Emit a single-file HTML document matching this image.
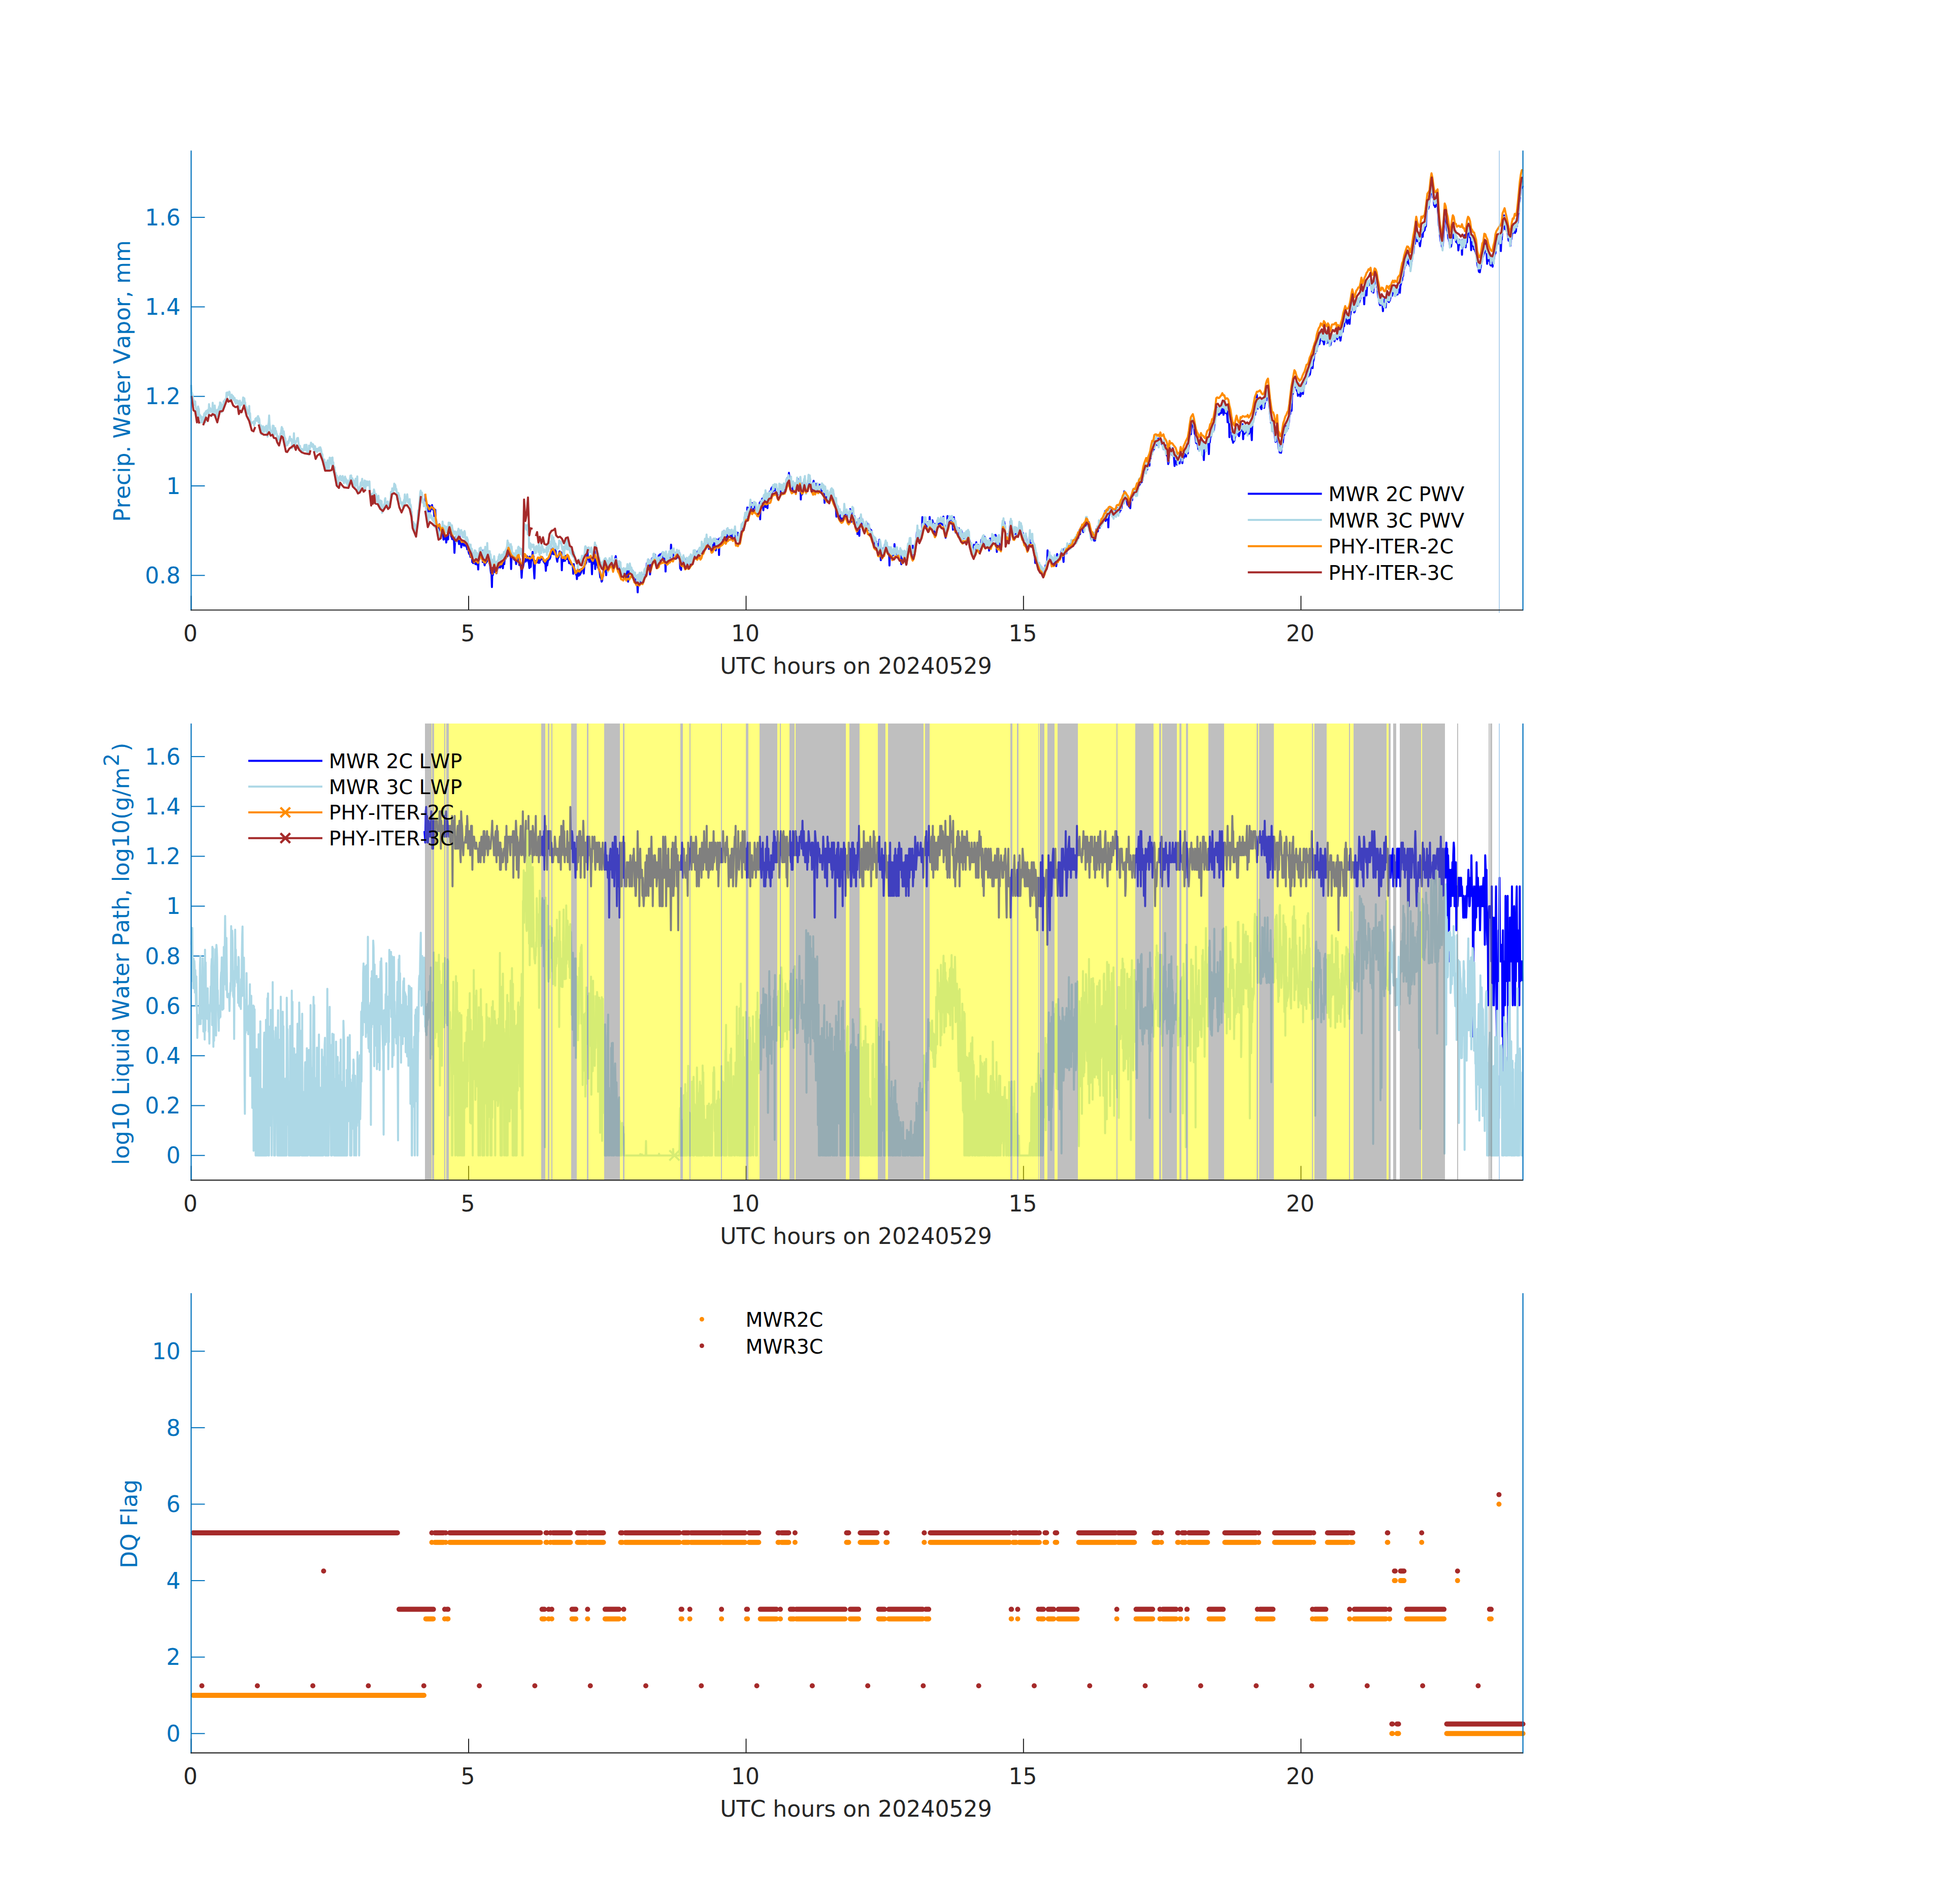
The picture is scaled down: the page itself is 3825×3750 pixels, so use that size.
<!DOCTYPE html>
<html><head><meta charset="utf-8"><title>MWR retrievals 20240529</title>
<style>html,body{margin:0;padding:0;background:#fff}svg{display:block}text{font-kerning:none;font-feature-settings:"kern" 0}</style></head>
<body>
<svg width="3825" height="3750" viewBox="0 0 3825 3750" font-family="'DejaVu Sans','Liberation Sans',sans-serif" font-size="44">
<rect width="3825" height="3750" fill="#fff"/>
<line x1="376.5" y1="1201.5" x2="376.5" y2="1173.5" stroke="#262626" stroke-width="2"/>
<line x1="923" y1="1201.5" x2="923" y2="1173.5" stroke="#262626" stroke-width="2"/>
<line x1="1469.5" y1="1201.5" x2="1469.5" y2="1173.5" stroke="#262626" stroke-width="2"/>
<line x1="2015.9" y1="1201.5" x2="2015.9" y2="1173.5" stroke="#262626" stroke-width="2"/>
<line x1="2562.4" y1="1201.5" x2="2562.4" y2="1173.5" stroke="#262626" stroke-width="2"/>
<line x1="376.5" y1="1133.3" x2="403.5" y2="1133.3" stroke="#0072BD" stroke-width="2"/>
<line x1="376.5" y1="957" x2="403.5" y2="957" stroke="#0072BD" stroke-width="2"/>
<line x1="376.5" y1="780.7" x2="403.5" y2="780.7" stroke="#0072BD" stroke-width="2"/>
<line x1="376.5" y1="604.4" x2="403.5" y2="604.4" stroke="#0072BD" stroke-width="2"/>
<line x1="376.5" y1="428.1" x2="403.5" y2="428.1" stroke="#0072BD" stroke-width="2"/>
<g fill="none" stroke-width="4" stroke-linejoin="round" stroke-linecap="butt">
<polyline stroke="#0000FF" points="837.5,973.7 838.4,986.3 839.3,987.7 840.2,1010.2 841.1,999.5 842,1005.9 842.9,1006.5 843.8,995.1 844.7,1004.7 845.6,1011.5 846.5,996.4 847.4,1006.8 848.3,999.7 849.2,1000.2 850.1,1001.6 851,994.8 851.9,1002.9 852.8,1000.5 853.7,1000.8 854.6,1006.7 855.5,1017.5 856.4,1011.9 857.3,1004 858.2,1022.2 859.1,1025.2 860,1032.8 860.9,1041.4 861.8,1040.6 862.7,1045 863.6,1039.8 864.5,1048.6 865.4,1032.5 866.3,1039.4 867.2,1043.6 868.1,1047.5 869,1047.5 869.9,1051.2 870.8,1049.9 871.7,1046.6 872.6,1037.4 873.5,1062.8 874.4,1058.5 875.3,1061.5 876.2,1058.2 877.1,1058.4 878,1057.7 878.9,1068.6 879.8,1060.8 880.7,1058.3 881.6,1061.5 882.5,1062.4 883.4,1039.7 884.3,1040.9 885.2,1042.8 886.1,1045.7 887,1050 887.9,1050.9 888.8,1056.9 889.7,1055.6 890.6,1061.9 891.5,1062.1 892.4,1058 893.3,1058.2 894.2,1063.6 895.1,1088.8 896,1068.9 896.9,1067.8 897.8,1057 898.7,1068 899.6,1065.6 900.5,1065.6 901.4,1060.9 902.3,1062.3 903.2,1059.9 904.1,1071.6 905,1046.1 905.9,1070.4 906.8,1065.2 907.7,1066.2 908.6,1077.9 909.5,1066.9 910.4,1068.7 911.3,1072.7 912.2,1072.3 913.1,1070.7 914,1074.8 914.9,1071.7 915.8,1074.3 916.7,1066.4 917.6,1071.1 918.5,1076.7 919.4,1077.3 920.3,1081.8 921.2,1078 922.1,1079.2 923,1087 923.9,1090.6 924.8,1086.6 925.7,1091.4 926.6,1097 927.5,1095.1 928.4,1095.9 929.3,1091.7 930.2,1107.1 931.1,1107.7 932,1109 932.9,1108.9 933.8,1105.2 934.7,1108.5 935.6,1107.5 936.5,1111 937.4,1101.8 938.3,1111.4 939.2,1107.1 940.1,1112 941,1104.5 941.9,1121.6 942.8,1100 943.7,1102.5 944.6,1093.3 945.5,1093.9 946.4,1094.6 947.3,1090 948.2,1092.2 949.1,1100.7 950,1084.6 950.9,1107.1 951.8,1101.9 952.7,1100.1 953.6,1104.6 954.5,1113.4 955.4,1105.5 956.3,1109.2 957.2,1108.2 958.1,1101.4 959,1106.4 959.9,1100.7 960.8,1099.2 961.7,1094.5 962.6,1097.6 963.5,1097.4 964.4,1110 965.3,1113.7 966.2,1121.6 967.1,1128.9 968,1127.1 968.9,1156.2 969.8,1118.5 970.7,1132.9 971.6,1121.3 972.5,1123.4 973.4,1117.2 974.3,1119.7 975.2,1127 976.1,1124.4 977,1125.5 977.9,1129.1 978.8,1123.9 979.7,1120.3 980.6,1118.1 981.5,1117.7 982.4,1112.9 983.3,1116.4 984.2,1114.6 985.1,1117.8 986,1116.5 986.9,1114.4 987.8,1110 988.7,1110.5 989.6,1107.4 990.5,1119.2 991.4,1107.5 992.3,1109.6 993.2,1111 994.1,1099.7 995,1100.1 995.9,1100.2 996.8,1096.5 997.7,1093.1 998.6,1092.5 999.5,1095.8 1000.4,1083.6 1001.3,1083.4 1002.2,1085.6 1003.1,1081.8 1004,1092.5 1004.9,1093.8 1005.8,1089.7 1006.7,1120.7 1007.6,1094.7 1008.5,1094.4 1009.4,1093.6 1010.3,1095.6 1011.2,1095.6 1012.1,1101.5 1013,1102.1 1013.9,1102.8 1014.8,1101.9 1015.7,1101.4 1016.6,1111 1017.5,1094 1018.4,1104 1019.3,1099.9 1020.2,1097.8 1021.1,1094.6 1022,1095.3 1022.9,1112.7 1023.8,1100.7 1024.7,1110.1 1025.6,1109.3 1026.5,1119.6 1027.4,1137.9 1028.3,1122.4 1029.2,1112.8 1030.1,1117 1031,1112 1031.9,1106.8 1032.8,1103.2 1033.7,1100.9 1034.6,1102 1035.5,1106 1036.4,1100.4 1037.3,1104.1 1038.2,1095.8 1039.1,1101.3 1040,1097.1 1040.9,1106.2 1041.8,1109.3 1042.7,1118.8 1043.6,1096.3 1044.5,1100.9 1045.4,1116.5 1046.3,1102.6 1047.2,1104.2 1048.1,1101.9 1049,1087.1 1049.9,1099.8 1050.8,1095.4 1051.7,1124.4 1052.6,1139.2 1053.5,1109.7 1054.4,1107.6 1055.3,1105.1 1056.2,1107.3 1057.1,1107.7 1058,1107.4 1058.9,1101.6 1059.8,1100.7 1060.7,1108.5 1061.6,1101.2 1062.5,1108.3 1063.4,1103.8 1064.3,1103.2 1065.2,1100.8 1066.1,1102 1067,1098.6 1067.9,1097.2 1068.8,1100.2 1069.7,1100.3 1070.6,1105.8 1071.5,1107 1072.4,1107.8 1073.3,1110.1 1074.2,1109.3 1075.1,1124.2 1076,1108.3 1076.9,1105.3 1077.8,1113.4 1078.7,1107.7 1079.6,1103.4 1080.5,1102.5 1081.4,1101 1082.3,1101.4 1083.2,1099.6 1084.1,1097.1 1085,1086.9 1085.9,1086.3 1086.8,1079.1 1087.7,1090.5 1088.6,1090.7 1089.5,1090.5 1090.4,1086.3 1091.3,1091.7 1092.2,1089.3 1093.1,1090.8 1094,1079.9 1094.9,1092 1095.8,1094.5 1096.7,1101.7 1097.6,1106.2 1098.5,1097.7 1099.4,1098.9 1100.3,1096.7 1101.2,1091.2 1102.1,1085.9 1103,1087.7 1103.9,1087 1104.8,1092.9 1105.7,1088.3 1106.6,1123.1 1107.5,1098.8 1108.4,1102.5 1109.3,1097.9 1110.2,1104.9 1111.1,1096.1 1112,1102.8 1112.9,1104.4 1113.8,1099.4 1114.7,1094.7 1115.6,1100.9 1116.5,1094.4 1117.4,1099 1118.3,1101.3 1119.2,1101 1120.1,1103.4 1121,1109.3 1121.9,1108 1122.8,1104.2 1123.7,1109.1 1124.6,1111.4 1125.5,1111 1126.4,1112 1127.3,1111.9 1128.2,1113.2 1129.1,1129.9 1130,1110.9 1130.9,1123.7 1131.8,1120.9 1132.7,1127.6 1133.6,1125 1134.5,1131.7 1135.4,1127.6 1136.3,1140.6 1137.2,1125.7 1138.1,1125.6 1139,1132.8 1139.9,1133.8 1140.8,1122.4 1141.7,1131 1142.6,1131.7 1143.5,1122.7 1144.4,1128.1 1145.3,1122.2 1146.2,1120.2 1147.1,1122.6 1148,1122.2 1148.9,1118.8 1149.8,1129.6 1150.7,1115.8 1151.6,1110.6 1152.5,1112.1 1153.4,1105.2 1154.3,1108.7 1155.2,1101.5 1156.1,1102.2 1157,1079.6 1157.9,1100.2 1158.8,1099.2 1159.7,1099.9 1160.6,1106.5 1161.5,1099 1162.4,1100.7 1163.3,1102.6 1164.2,1107.1 1165.1,1107.7 1166,1130.9 1166.9,1103.8 1167.8,1110.7 1168.7,1109.9 1169.6,1103.2 1170.5,1098.5 1171.4,1086.4 1172.3,1120.7 1173.2,1098.7 1174.1,1108.7 1175,1102.7 1175.9,1112.6 1176.8,1109.9 1177.7,1117.6 1178.6,1118.9 1179.5,1120.2 1180.4,1122.8 1181.3,1127.7 1182.2,1136.8 1183.1,1138.1 1184,1136.1 1184.9,1145.5 1185.8,1144.2 1186.7,1137.2 1187.6,1135.5 1188.5,1125 1189.4,1117.6 1190.3,1125.5 1191.2,1112.2 1192.1,1119.2 1193,1110.7 1193.9,1132.8 1194.8,1115.5 1195.7,1116.9 1196.6,1113 1197.5,1120.1 1198.4,1118.1 1199.3,1112.9 1200.2,1113.7 1201.1,1115.5 1202,1107.7 1202.9,1109.6 1203.8,1102.9 1204.7,1106.8 1205.6,1109.7 1206.5,1118.2 1207.4,1114.6 1208.3,1114.8 1209.2,1116.4 1210.1,1104.4 1211,1108.3 1211.9,1099.1 1212.8,1095.4 1213.7,1102.6 1214.6,1104 1215.5,1112.5 1216.4,1106.9 1217.3,1113.3 1218.2,1110.8 1219.1,1112 1220,1106.5 1220.9,1119.4 1221.8,1120.1 1222.7,1119.2 1223.6,1121.2 1224.5,1124.5 1225.4,1132.9 1226.3,1127.8 1227.2,1121.6 1228.1,1129.9 1229,1125.9 1229.9,1124.4 1230.8,1125.8 1231.7,1126.6 1232.6,1130.8 1233.5,1123.8 1234.4,1127.1 1235.3,1124.4 1236.2,1124.8 1237.1,1145.6 1238,1120.6 1238.9,1121 1239.8,1125 1240.7,1119.1 1241.6,1117.2 1242.5,1124.3 1243.4,1126.2 1244.3,1122.4 1245.2,1125.6 1246.1,1124.6 1247,1129.3 1247.9,1136.3 1248.8,1137.3 1249.7,1136.5 1250.6,1136.5 1251.5,1133.2 1252.4,1141.4 1253.3,1141.6 1254.2,1143.4 1255.1,1146.5 1256,1166.6 1256.9,1143.5 1257.8,1137.5 1258.7,1147 1259.6,1145.3 1260.5,1146.5 1261.4,1143.5 1262.3,1142.1 1263.2,1145.3 1264.1,1137.4 1265,1141.7 1265.9,1143 1266.8,1135.4 1267.7,1131.7 1268.6,1134.9 1269.5,1131.4 1270.4,1130.8 1271.3,1130 1272.2,1124.1 1273.1,1126.3 1274,1109.4 1274.9,1114.3 1275.8,1109.7 1276.7,1102 1277.6,1111.1 1278.5,1118.1 1279.4,1109.4 1280.3,1131.4 1281.2,1118.7 1282.1,1109.1 1283,1105.3 1283.9,1100.5 1284.8,1099.6 1285.7,1101.1 1286.6,1101 1287.5,1098 1288.4,1100.3 1289.3,1097.6 1290.2,1092.5 1291.1,1104.7 1292,1107.9 1292.9,1105.3 1293.8,1116.3 1294.7,1109.9 1295.6,1106.9 1296.5,1111.4 1297.4,1094.1 1298.3,1096 1299.2,1103 1300.1,1091.7 1301,1094.8 1301.9,1102.2 1302.8,1097.4 1303.7,1090 1304.6,1091 1305.5,1096.1 1306.4,1100.6 1307.3,1088.5 1308.2,1097.6 1309.1,1096.5 1310,1092.3 1310.9,1125.6 1311.8,1094 1312.7,1098.4 1313.6,1096.7 1314.5,1100.4 1315.4,1100.5 1316.3,1098.9 1317.2,1097.4 1318.1,1099.2 1319,1091.2 1319.9,1093.6 1320.8,1097.4 1321.7,1072.7 1322.6,1092 1323.5,1097.3 1324.4,1098 1325.3,1090 1326.2,1088.8 1327.1,1093.4 1328,1092.6 1328.9,1089.6 1329.8,1094.3 1330.7,1094.5 1331.6,1088.4 1332.5,1099.6 1333.4,1092.2 1334.3,1088.5 1335.2,1089.4 1336.1,1098 1337,1093.3 1337.9,1088.7 1338.8,1094.4 1339.7,1119.8 1340.6,1096.7 1341.5,1122.4 1342.4,1104.9 1343.3,1103.1 1344.2,1100.7 1345.1,1104.4 1346,1095 1346.9,1105 1347.8,1104.8 1348.7,1108.5 1349.6,1101.8 1350.5,1117.1 1351.4,1103.3 1352.3,1104.5 1353.2,1108 1354.1,1113.3 1355,1105.6 1355.9,1101.9 1356.8,1109.9 1357.7,1110.4 1358.6,1110.2 1359.5,1105 1360.4,1105 1361.3,1105.4 1362.2,1101.1 1363.1,1100.6 1364,1109.8 1364.9,1097.7 1365.8,1101.7 1366.7,1094.3 1367.6,1095.9 1368.5,1086.6 1369.4,1091.3 1370.3,1091.2 1371.2,1089.8 1372.1,1092.2 1373,1086.9 1373.9,1087.8 1374.8,1085.2 1375.7,1087.8 1376.6,1084.9 1377.5,1080.9 1378.4,1085.1 1379.3,1086.7 1380.2,1083.5 1381.1,1090 1382,1085.4 1382.9,1085.5 1383.8,1078.3 1384.7,1078.1 1385.6,1081.6 1386.5,1071.6 1387.4,1076.7 1388.3,1074.5 1389.2,1071.2 1390.1,1072.1 1391,1066.5 1391.9,1069.6 1392.8,1063 1393.7,1061.3 1394.6,1071 1395.5,1064.5 1396.4,1081 1397.3,1072.2 1398.2,1067.2 1399.1,1059 1400,1072.7 1400.9,1077.7 1401.8,1076.7 1402.7,1080 1403.6,1072 1404.5,1073 1405.4,1065.8 1406.3,1069.5 1407.2,1074.1 1408.1,1070.1 1409,1068.6 1409.9,1084.1 1410.8,1066.2 1411.7,1062.8 1412.6,1063.6 1413.5,1064.3 1414.4,1067.9 1415.3,1062.5 1416.2,1093.1 1417.1,1060.5 1418,1064.5 1418.9,1072.6 1419.8,1063.4 1420.7,1058.4 1421.6,1062.5 1422.5,1062.7 1423.4,1061.2 1424.3,1050 1425.2,1056.1 1426.1,1045.6 1427,1057.6 1427.9,1051.2 1428.8,1047.4 1429.7,1057 1430.6,1057.8 1431.5,1050.4 1432.4,1058.9 1433.3,1050.7 1434.2,1043.8 1435.1,1053.6 1436,1055.3 1436.9,1053.6 1437.8,1051.4 1438.7,1046.6 1439.6,1053.6 1440.5,1057.5 1441.4,1054.3 1442.3,1057.7 1443.2,1049.5 1444.1,1055.6 1445,1055 1445.9,1046.1 1446.8,1045.6 1447.7,1051.6 1448.6,1057.2 1449.5,1061.3 1450.4,1058.1 1451.3,1061.5 1452.2,1061.6 1453.1,1049.3 1454,1064.6 1454.9,1064 1455.8,1061.1 1456.7,1061.3 1457.6,1055.1 1458.5,1054.4 1459.4,1054.5 1460.3,1047.3 1461.2,1037.9 1462.1,1038.4 1463,1034.1 1463.9,1034.9 1464.8,1035.9 1465.7,1031.5 1466.6,1025.3 1467.5,1019.4 1468.4,1019.8 1469.3,1018.9 1470.2,1019.8 1471.1,1021.6 1472,999.4 1472.9,1007.5 1473.8,1010.8 1474.7,1001.4 1475.6,1000.1 1476.5,1005.3 1477.4,1001.4 1478.3,994.8 1479.2,992.6 1480.1,996.7 1481,991 1481.9,999.3 1482.8,996.6 1483.7,1004.8 1484.6,993.3 1485.5,999.4 1486.4,992 1487.3,999.7 1488.2,994.4 1489.1,1002.3 1490,999.9 1490.9,1000.3 1491.8,1004 1492.7,1005.6 1493.6,1004.8 1494.5,1008.4 1495.4,1005 1496.3,990.3 1497.2,1022.8 1498.1,987.8 1499,991.2 1499.9,992.6 1500.8,983.5 1501.7,981.9 1502.6,984.6 1503.5,1004.9 1504.4,987.2 1505.3,981.8 1506.2,981.6 1507.1,985.2 1508,998.8 1508.9,980.1 1509.8,977.1 1510.7,982.2 1511.6,1000.7 1512.5,983.1 1513.4,976.3 1514.3,972.1 1515.2,970.8 1516.1,968.2 1517,982.1 1517.9,977.5 1518.8,963.4 1519.7,961.3 1520.6,971.5 1521.5,958.8 1522.4,965.5 1523.3,959.4 1524.2,966.5 1525.1,966.2 1526,961.2 1526.9,965.1 1527.8,961.7 1528.7,963 1529.6,969.9 1530.5,970.5 1531.4,967.5 1532.3,970.3 1533.2,973.5 1534.1,972.2 1535,971.9 1535.9,967.6 1536.8,970.1 1537.7,965.8 1538.6,964.8 1539.5,962.2 1540.4,964.7 1541.3,958.5 1542.2,968.7 1543.1,964.6 1544,964.1 1544.9,963.7 1545.8,964.5 1546.7,962.4 1547.6,957.5 1548.5,952.1 1549.4,957.3 1550.3,945.7 1551.2,941 1552.1,939.6 1553,948 1553.9,931.3 1554.8,942.3 1555.7,952.8 1556.6,958.2 1557.5,960.7 1558.4,952.4 1559.3,954.3 1560.2,960.5 1561.1,957.5 1562,970 1562.9,960 1563.8,964.4 1564.7,961.4 1565.6,959.1 1566.5,960.8 1567.4,958.3 1568.3,957.1 1569.2,951.4 1570.1,949.9 1571,943.2 1571.9,945.1 1572.8,958 1573.7,956.7 1574.6,948.4 1575.5,947 1576.4,945.6 1577.3,983.8 1578.2,951.9 1579.1,964.6 1580,973.7 1580.9,960.7 1581.8,958 1582.7,953.1 1583.6,953.3 1584.5,950.5 1585.4,950.6 1586.3,952.4 1587.2,965.7 1588.1,963.4 1589,958.9 1589.9,957.5 1590.8,959.3 1591.7,947.7 1592.6,954.1 1593.5,943 1594.4,946.3 1595.3,943.2 1596.2,950.5 1597.1,957.1 1598,956.2 1598.9,961 1599.8,963.6 1600.7,956.8 1601.6,953.9 1602.5,946.9 1603.4,959.4 1604.3,957.4 1605.2,964 1606.1,960.2 1607,952.8 1607.9,960.3 1608.8,958.6 1609.7,965.4 1610.6,958.7 1611.5,958.2 1612.4,960.7 1613.3,960.1 1614.2,954.5 1615.1,960.6 1616,959.6 1616.9,966.4 1617.8,970.7 1618.7,959.2 1619.6,960.9 1620.5,962.6 1621.4,964.4 1622.3,965.5 1623.2,969.4 1624.1,990.2 1625,966.9 1625.9,967.3 1626.8,967.4 1627.7,979.2 1628.6,981.2 1629.5,972.1 1630.4,972.9 1631.3,980.4 1632.2,985.1 1633.1,986 1634,980 1634.9,978.1 1635.8,973.2 1636.7,966.5 1637.6,975.2 1638.5,970.4 1639.4,968.5 1640.3,983.6 1641.2,971.3 1642.1,979.7 1643,986.2 1643.9,980.4 1644.8,991.7 1645.7,997.9 1646.6,1003.3 1647.5,1017.6 1648.4,1014.2 1649.3,1000.2 1650.2,999.8 1651.1,1002.9 1652,1009.4 1652.9,1011.9 1653.8,1016 1654.7,1010.7 1655.6,1022.9 1656.5,1021 1657.4,1020.1 1658.3,1014.2 1659.2,1022.5 1660.1,1014.7 1661,1020.2 1661.9,1014.9 1662.8,1005.2 1663.7,1005.4 1664.6,1014 1665.5,1011.2 1666.4,1007.3 1667.3,1008.8 1668.2,1011.3 1669.1,1010.7 1670,1015.7 1670.9,1016.9 1671.8,1017.9 1672.7,1013.3 1673.6,1015.3 1674.5,1002.7 1675.4,1014.9 1676.3,1026.2 1677.2,1027.6 1678.1,1011 1679,1011 1679.9,1013.5 1680.8,1012.6 1681.7,1027.6 1682.6,1016.6 1683.5,1022.8 1684.4,1030.2 1685.3,1029.5 1686.2,1032.8 1687.1,1028.9 1688,1039.1 1688.9,1051.8 1689.8,1034.9 1690.7,1043.7 1691.6,1034.4 1692.5,1055.2 1693.4,1024.7 1694.3,1020 1695.2,1024.2 1696.1,1019.5 1697,1027.6 1697.9,1033.6 1698.8,1023.1 1699.7,1029.1 1700.6,1036.1 1701.5,1043 1702.4,1041.9 1703.3,1040.9 1704.2,1038.9 1705.1,1036.4 1706,1037.6 1706.9,1033.5 1707.8,1030.4 1708.7,1036.7 1709.6,1042.8 1710.5,1042.4 1711.4,1043.8 1712.3,1042.2 1713.2,1041 1714.1,1045.4 1715,1043.7 1715.9,1044.2 1716.8,1048.5 1717.7,1054.3 1718.6,1064.8 1719.5,1061 1720.4,1068.5 1721.3,1067.9 1722.2,1077.8 1723.1,1070.6 1724,1080 1724.9,1065.5 1725.8,1067.1 1726.7,1080.3 1727.6,1071.1 1728.5,1077.5 1729.4,1087 1730.3,1085 1731.2,1074.3 1732.1,1063 1733,1074.4 1733.9,1075.3 1734.8,1103.3 1735.7,1080.5 1736.6,1084.7 1737.5,1094.3 1738.4,1080.8 1739.3,1084.6 1740.2,1086.2 1741.1,1078.5 1742,1078.1 1742.9,1072.6 1743.8,1074.9 1744.7,1069.1 1745.6,1073.8 1746.5,1077.3 1747.4,1076.5 1748.3,1077.7 1749.2,1082.4 1750.1,1082.9 1751,1079.5 1751.9,1113.7 1752.8,1087.1 1753.7,1090.1 1754.6,1083.2 1755.5,1092.2 1756.4,1097.5 1757.3,1092.9 1758.2,1086 1759.1,1091.9 1760,1092.2 1760.9,1093.3 1761.8,1071.8 1762.7,1091.9 1763.6,1087.2 1764.5,1088.5 1765.4,1085.5 1766.3,1088.6 1767.2,1092.2 1768.1,1087.1 1769,1092.4 1769.9,1088.3 1770.8,1091.6 1771.7,1085.8 1772.6,1099.8 1773.5,1092.2 1774.4,1099.1 1775.3,1111.3 1776.2,1103.9 1777.1,1099.4 1778,1100.4 1778.9,1094.8 1779.8,1091.4 1780.7,1096.4 1781.6,1086 1782.5,1095.2 1783.4,1094.6 1784.3,1099.9 1785.2,1110.8 1786.1,1102.2 1787,1093.7 1787.9,1080.1 1788.8,1081.4 1789.7,1075.7 1790.6,1070.3 1791.5,1070.7 1792.4,1063.8 1793.3,1075.7 1794.2,1079.5 1795.1,1080.8 1796,1092.5 1796.9,1083.3 1797.8,1074.7 1798.7,1091.6 1799.6,1086.5 1800.5,1080.3 1801.4,1079 1802.3,1080.9 1803.2,1075.4 1804.1,1068.1 1805,1061.1 1805.9,1048.6 1806.8,1053.8 1807.7,1048.9 1808.6,1057.8 1809.5,1061.2 1810.4,1065.3 1811.3,1062 1812.2,1060.3 1813.1,1051.4 1814,1053.4 1814.9,1046.1 1815.8,1050 1816.7,1018.4 1817.6,1038.1 1818.5,1032 1819.4,1031.1 1820.3,1032.4 1821.2,1034.7 1822.1,1028.1 1823,1025.2 1823.9,1035.6 1824.8,1029.8 1825.7,1037.4 1826.6,1043.3 1827.5,1028.4 1828.4,1034.2 1829.3,1035 1830.2,1037.9 1831.1,1018.3 1832,1032.5 1832.9,1029.1 1833.8,1034.4 1834.7,1028.5 1835.6,1037 1836.5,1024.8 1837.4,1030.6 1838.3,1046 1839.2,1041.7 1840.1,1038.7 1841,1031.6 1841.9,1047.6 1842.8,1048.8 1843.7,1040.7 1844.6,1040.9 1845.5,1036.9 1846.4,1025.3 1847.3,1031.2 1848.2,1027.5 1849.1,1031.9 1850,1031.1 1850.9,1023.4 1851.8,1024.7 1852.7,1028.9 1853.6,1031.8 1854.5,1029 1855.4,1030.2 1856.3,1033.5 1857.2,1033.1 1858.1,1017.4 1859,1034.9 1859.9,1034.4 1860.8,1034.8 1861.7,1047.8 1862.6,1059 1863.5,1042.3 1864.4,1039.5 1865.3,1031.7 1866.2,1016.5 1867.1,1021.3 1868,1025.8 1868.9,1020.4 1869.8,1026.9 1870.7,1021.1 1871.6,1019.3 1872.5,1021.3 1873.4,1024 1874.3,1019 1875.2,1021.2 1876.1,1021 1877,1043.3 1877.9,1023.5 1878.8,1018.7 1879.7,1031.6 1880.6,1040.9 1881.5,1030.5 1882.4,1048.8 1883.3,1037.5 1884.2,1043.3 1885.1,1039.3 1886,1042.2 1886.9,1040.4 1887.8,1042.8 1888.7,1040.6 1889.6,1054.6 1890.5,1047.9 1891.4,1055.3 1892.3,1057 1893.2,1055.1 1894.1,1046.2 1895,1063.3 1895.9,1057.5 1896.8,1060.2 1897.7,1059.9 1898.6,1055.4 1899.5,1053.8 1900.4,1054.8 1901.3,1058.7 1902.2,1065.2 1903.1,1067.3 1904,1062.1 1904.9,1061 1905.8,1054.5 1906.7,1064.8 1907.6,1054.5 1908.5,1060.8 1909.4,1063.5 1910.3,1069.1 1911.2,1079.4 1912.1,1071.2 1913,1079 1913.9,1080 1914.8,1087.9 1915.7,1093.1 1916.6,1087.3 1917.5,1080.3 1918.4,1072.8 1919.3,1089 1920.2,1078.1 1921.1,1081 1922,1090.7 1922.9,1068.1 1923.8,1076.5 1924.7,1075.6 1925.6,1076.5 1926.5,1073.2 1927.4,1084.5 1928.3,1077.9 1929.2,1083.7 1930.1,1075.9 1931,1082.3 1931.9,1075.6 1932.8,1063.3 1933.7,1075.4 1934.6,1067.6 1935.5,1062.9 1936.4,1063.2 1937.3,1055.3 1938.2,1064.9 1939.1,1057.1 1940,1064.6 1940.9,1075.4 1941.8,1066.5 1942.7,1067.9 1943.6,1065 1944.5,1071.5 1945.4,1068.1 1946.3,1069.7 1947.2,1071.8 1948.1,1084.4 1949,1072.8 1949.9,1060.7 1950.8,1072.9 1951.7,1060.4 1952.6,1062.7 1953.5,1061.3 1954.4,1065.4 1955.3,1064.2 1956.2,1061.6 1957.1,1062.4 1958,1062.4 1958.9,1060.7 1959.8,1054.1 1960.7,1053.6 1961.6,1055.1 1962.5,1065.1 1963.4,1086.9 1964.3,1067.1 1965.2,1067.9 1966.1,1065.5 1967,1062.1 1967.9,1059.6 1968.8,1059.9 1969.7,1073.4 1970.6,1074 1971.5,1067.3 1972.4,1063.4 1973.3,1054.1 1974.2,1046.4 1975.1,1029.7 1976,1033.3 1976.9,1037.7 1977.8,1027.5 1978.7,1033 1979.6,1038.2 1980.5,1059.7 1981.4,1071.8 1982.3,1063.8 1983.2,1057.9 1984.1,1052.3 1985,1060.6 1985.9,1061.1 1986.8,1058.2 1987.7,1052.8 1988.6,1063.6 1989.5,1038 1990.4,1026.7 1991.3,1031.6 1992.2,1034.8 1993.1,1040.5 1994,1040 1994.9,1044.8 1995.8,1052.9 1996.7,1051.9 1997.6,1048.1 1998.5,1051.8 1999.4,1051.8 2000.3,1050.1 2001.2,1046.7 2002.1,1044.6 2003,1048.4 2003.9,1053.6 2004.8,1048 2005.7,1042.9 2006.6,1041.9 2007.5,1047.9 2008.4,1037.3 2009.3,1034.8 2010.2,1042.6 2011.1,1042.3 2012,1048.9 2012.9,1056.5 2013.8,1049.5 2014.7,1049.5 2015.6,1056.8 2016.5,1057.1 2017.4,1060.9 2018.3,1057.8 2019.2,1063.3 2020.1,1062.7 2021,1056.4 2021.9,1066.3 2022.8,1071.1 2023.7,1077 2024.6,1071.6 2025.5,1067.8 2026.4,1072.1 2027.3,1062.5 2028.2,1065.3 2029.1,1067.3 2030,1069 2030.9,1066.9 2031.8,1061.9 2032.7,1069.1 2033.6,1064.2 2034.5,1068.5 2035.4,1082.5 2036.3,1082.9 2037.2,1072.9 2038.1,1085.6 2039,1108.7 2039.9,1090.8 2040.8,1089.5 2041.7,1103.2 2042.6,1106.8 2043.5,1108.5 2044.4,1109.8 2045.3,1115 2046.2,1118.2 2047.1,1113.6 2048,1117.8 2048.9,1118.5 2049.8,1123.7 2050.7,1122.7 2051.6,1117.8 2052.5,1122.5 2053.4,1133.6 2054.3,1125.5 2055.2,1129.3 2056.1,1123.5 2057,1127.6 2057.9,1120 2058.8,1117.2 2059.7,1113 2060.6,1115.1 2061.5,1117.7 2062.4,1114.2 2063.3,1084.1 2064.2,1110.8 2065.1,1100.8 2066,1096.4 2066.9,1099.4 2067.8,1095.2 2068.7,1096.1 2069.6,1097.8 2070.5,1101.7 2071.4,1102.1 2072.3,1099.1 2073.2,1108.1 2074.1,1104.9 2075,1112 2075.9,1110.2 2076.8,1109.4 2077.7,1106.7 2078.6,1109.7 2079.5,1102.6 2080.4,1115 2081.3,1103.4 2082.2,1091.2 2083.1,1099.2 2084,1100.5 2084.9,1097.4 2085.8,1102.8 2086.7,1100 2087.6,1096.7 2088.5,1092.1 2089.4,1095 2090.3,1085.7 2091.2,1085.7 2092.1,1091.2 2093,1091.8 2093.9,1098.3 2094.8,1106.8 2095.7,1081.4 2096.6,1089.7 2097.5,1090.8 2098.4,1088.1 2099.3,1090.1 2100.2,1090.1 2101.1,1080.1 2102,1079.9 2102.9,1078.7 2103.8,1082 2104.7,1081.8 2105.6,1080.6 2106.5,1073.2 2107.4,1074.4 2108.3,1071.4 2109.2,1070.1 2110.1,1070.6 2111,1069.1 2111.9,1073.8 2112.8,1075.5 2113.7,1075.3 2114.6,1071.8 2115.5,1068.2 2116.4,1069.5 2117.3,1070.3 2118.2,1065.4 2119.1,1064.9 2120,1061.8 2120.9,1059.3 2121.8,1059.6 2122.7,1053.5 2123.6,1059.8 2124.5,1048.4 2125.4,1053.5 2126.3,1044.1 2127.2,1052.1 2128.1,1047.1 2129,1039 2129.9,1039.8 2130.8,1036.7 2131.7,1040.1 2132.6,1041.3 2133.5,1048.1 2134.4,1032.4 2135.3,1040.9 2136.2,1033 2137.1,1034.7 2138,1035.5 2138.9,1032.8 2139.8,1030.9 2140.7,1028.4 2141.6,1030.1 2142.5,1031.6 2143.4,1036.4 2144.3,1028.2 2145.2,1035.6 2146.1,1036.7 2147,1041.6 2147.9,1045.7 2148.8,1055.7 2149.7,1062.6 2150.6,1062.5 2151.5,1053.5 2152.4,1058.6 2153.3,1054.5 2154.2,1060.9 2155.1,1064.7 2156,1062.9 2156.9,1064.6 2157.8,1057.1 2158.7,1046.2 2159.6,1042 2160.5,1045.3 2161.4,1045.9 2162.3,1046.6 2163.2,1038.7 2164.1,1038.4 2165,1037.7 2165.9,1039.4 2166.8,1033.8 2167.7,1028.8 2168.6,1035.8 2169.5,1032.3 2170.4,1031.2 2171.3,1023.9 2172.2,1027.3 2173.1,1019.7 2174,1017.4 2174.9,1022.8 2175.8,1021.1 2176.7,1006.7 2177.6,1025.9 2178.5,1018.7 2179.4,1023.7 2180.3,1013.1 2181.2,1012.2 2182.1,1008.1 2183,1038.6 2183.9,1011.1 2184.8,1011.2 2185.7,1013.3 2186.6,1002.7 2187.5,1008.6 2188.4,1003.7 2189.3,1006.3 2190.2,1009.4 2191.1,1008.7 2192,1010.6 2192.9,1010 2193.8,1015.8 2194.7,1010.4 2195.6,1013.7 2196.5,1005.9 2197.4,1015.3 2198.3,1005.6 2199.2,1012.8 2200.1,999.9 2201,1008.8 2201.9,1005.7 2202.8,1008.2 2203.7,1005.1 2204.6,1009.2 2205.5,1005.2 2206.4,1003.4 2207.3,1005.3 2208.2,994.8 2209.1,1000.7 2210,981.6 2210.9,984.9 2211.8,989.8 2212.7,985.4 2213.6,991.2 2214.5,967.4 2215.4,982.8 2216.3,982.5 2217.2,975.6 2218.1,985.4 2219,980.8 2219.9,990.5 2220.8,994.2 2221.7,991 2222.6,988.2 2223.5,997.8 2224.4,996.8 2225.3,994.7 2226.2,1000.9 2227.1,979.4 2228,981.3 2228.9,976.9 2229.8,985.4 2230.7,974.8 2231.6,973.5 2232.5,975.1 2233.4,968.4 2234.3,969.9 2235.2,970.8 2236.1,969.2 2237,969.8 2237.9,975 2238.8,969.9 2239.7,960.7 2240.6,961.5 2241.5,963.3 2242.4,955.7 2243.3,956 2244.2,953.2 2245.1,954.1 2246,950.9 2246.9,950.4 2247.8,947.2 2248.7,949.7 2249.6,940.4 2250.5,945.8 2251.4,934.8 2252.3,929.8 2253.2,930.9 2254.1,925 2255,923 2255.9,919.8 2256.8,917 2257.7,916.6 2258.6,917.8 2259.5,924.9 2260.4,917.4 2261.3,915.8 2262.2,913.3 2263.1,915.2 2264,917.2 2264.9,902.3 2265.8,903.6 2266.7,897.8 2267.6,892.1 2268.5,892.6 2269.4,883.7 2270.3,889.1 2271.2,884.5 2272.1,877.6 2273,884.8 2273.9,879.7 2274.8,878.5 2275.7,867.2 2276.6,871.3 2277.5,870.1 2278.4,874.1 2279.3,876.5 2280.2,863.9 2281.1,870.5 2282,869.4 2282.9,872.9 2283.8,860.8 2284.7,862.9 2285.6,866 2286.5,865.4 2287.4,869.1 2288.3,875 2289.2,875.3 2290.1,877.7 2291,870.8 2291.9,884.6 2292.8,882.4 2293.7,882.9 2294.6,877.9 2295.5,877.1 2296.4,883.7 2297.3,887.1 2298.2,897.3 2299.1,895 2300,902.8 2300.9,913.9 2301.8,910.4 2302.7,897 2303.6,892.4 2304.5,889.5 2305.4,887.7 2306.3,887.5 2307.2,892.7 2308.1,895.4 2309,885.2 2309.9,882.8 2310.8,892.8 2311.7,889.2 2312.6,904.3 2313.5,917.7 2314.4,904.2 2315.3,909.4 2316.2,898.3 2317.1,901.2 2318,915.1 2318.9,907.6 2319.8,909.9 2320.7,910 2321.6,911.2 2322.5,910.3 2323.4,912.6 2324.3,898.7 2325.2,896.7 2326.1,898.3 2327,905 2327.9,903.7 2328.8,912.2 2329.7,898.9 2330.6,900.6 2331.5,901.7 2332.4,897.4 2333.3,892.5 2334.2,895.7 2335.1,886 2336,899.3 2336.9,885.6 2337.8,881.3 2338.7,875.1 2339.6,892.9 2340.5,881.6 2341.4,876.8 2342.3,862.6 2343.2,860.4 2344.1,849.1 2345,846.6 2345.9,855.2 2346.8,839.3 2347.7,837.6 2348.6,836.4 2349.5,834 2350.4,833.8 2351.3,842.6 2352.2,843.9 2353.1,854.7 2354,849.3 2354.9,863 2355.8,872.2 2356.7,861.9 2357.6,873.4 2358.5,866.9 2359.4,877.6 2360.3,884.7 2361.2,882.9 2362.1,887.3 2363,879.5 2363.9,879 2364.8,878 2365.7,872.3 2366.6,874.3 2367.5,878.1 2368.4,881.5 2369.3,873.4 2370.2,887.9 2371.1,906 2372,884 2372.9,886.6 2373.8,884.6 2374.7,888.7 2375.6,877 2376.5,875.9 2377.4,870.6 2378.3,872.8 2379.2,872.7 2380.1,871.4 2381,894.3 2381.9,867.6 2382.8,871.4 2383.7,862.4 2384.6,856.1 2385.5,859.1 2386.4,853.3 2387.3,843.3 2388.2,847.8 2389.1,841.4 2390,848.5 2390.9,846.8 2391.8,836.7 2392.7,833.7 2393.6,821.9 2394.5,810.9 2395.4,809.1 2396.3,807.6 2397.2,802.7 2398.1,808.4 2399,809.3 2399.9,812.1 2400.8,817 2401.7,815.8 2402.6,811.6 2403.5,812.8 2404.4,814 2405.3,807 2406.2,813.1 2407.1,808.9 2408,802.1 2408.9,800 2409.8,816.8 2410.7,806.2 2411.6,807.3 2412.5,812.9 2413.4,812.4 2414.3,812 2415.2,814.3 2416.1,808 2417,813.6 2417.9,831.7 2418.8,811.8 2419.7,817.8 2420.6,815.4 2421.5,861 2422.4,827.4 2423.3,840.3 2424.2,839.3 2425.1,826 2426,849 2426.9,866.1 2427.8,866.1 2428.7,871.9 2429.6,868.7 2430.5,869 2431.4,867.5 2432.3,861 2433.2,859 2434.1,852.2 2435,848.8 2435.9,844.6 2436.8,848.8 2437.7,852.5 2438.6,851.5 2439.5,857.6 2440.4,858.8 2441.3,854.6 2442.2,850.6 2443.1,846.7 2444,843.9 2444.9,843.4 2445.8,847.9 2446.7,842.8 2447.6,835.5 2448.5,865 2449.4,842 2450.3,843.5 2451.2,854.6 2452.1,851.8 2453,849.8 2453.9,851.4 2454.8,847.7 2455.7,850.2 2456.6,843.8 2457.5,844.4 2458.4,846.2 2459.3,854.6 2460.2,854.2 2461.1,844.8 2462,849.8 2462.9,842.2 2463.8,846.2 2464.7,852 2465.6,866.8 2466.5,835.5 2467.4,831.3 2468.3,828.6 2469.2,825.7 2470.1,818.2 2471,810.5 2471.9,817 2472.8,805.8 2473.7,810.9 2474.6,794.7 2475.5,777.8 2476.4,798.1 2477.3,804.8 2478.2,793.2 2479.1,797.4 2480,791.2 2480.9,801.5 2481.8,798.2 2482.7,798.9 2483.6,803.6 2484.5,805.6 2485.4,800.5 2486.3,796.9 2487.2,793.6 2488.1,794 2489,790.8 2489.9,803.4 2490.8,795.4 2491.7,793.3 2492.6,787.6 2493.5,788.3 2494.4,772.8 2495.3,778.9 2496.2,775.3 2497.1,773.3 2498,788.1 2498.9,791.2 2499.8,794.3 2500.7,803.8 2501.6,814.7 2502.5,822.6 2503.4,832.5 2504.3,830.7 2505.2,838.5 2506.1,843.2 2507,842.8 2507.9,845.8 2508.8,843 2509.7,853.7 2510.6,854.4 2511.5,862.2 2512.4,870.3 2513.3,868.3 2514.2,855.4 2515.1,868.5 2516,833.2 2516.9,868.2 2517.8,875.9 2518.7,884.8 2519.6,876.2 2520.5,891.2 2521.4,889.4 2522.3,885.4 2523.2,891.7 2524.1,882.6 2525,880.7 2525.9,865.2 2526.8,871.4 2527.7,861.3 2528.6,849.3 2529.5,856.6 2530.4,850.9 2531.3,846.5 2532.2,847.6 2533.1,839.4 2534,847 2534.9,842.2 2535.8,840 2536.7,843.8 2537.6,836.3 2538.5,831.3 2539.4,821.5 2540.3,815.8 2541.2,815.5 2542.1,796.7 2543,787.8 2543.9,808.9 2544.8,777.5 2545.7,772.3 2546.6,775.3 2547.5,758.2 2548.4,760.4 2549.3,751.8 2550.2,756.1 2551.1,758.2 2552,763 2552.9,757.2 2553.8,768 2554.7,770.1 2555.6,768.3 2556.5,779.5 2557.4,771.9 2558.3,770.3 2559.2,775.7 2560.1,767.5 2561,780.5 2561.9,778 2562.8,771.1 2563.7,773.1 2564.6,771 2565.5,774.4 2566.4,775.8 2567.3,758.8 2568.2,754.2 2569.1,758.9 2570,752.4 2570.9,755.7 2571.8,755.2 2572.7,749 2573.6,744.2 2574.5,732.1 2575.4,741.7 2576.3,740.9 2577.2,741.2 2578.1,729.9 2579,728.3 2579.9,738 2580.8,732.1 2581.7,718.9 2582.6,718.8 2583.5,714.6 2584.4,710.6 2585.3,725.2 2586.2,712.7 2587.1,710.1 2588,705.9 2588.9,691.1 2589.8,689.4 2590.7,695.5 2591.6,688.5 2592.5,692.3 2593.4,686.5 2594.3,677.7 2595.2,682.5 2596.1,673.8 2597,675.6 2597.9,676.1 2598.8,677.6 2599.7,669.3 2600.6,670.9 2601.5,667.6 2602.4,667.6 2603.3,654.2 2604.2,665 2605.1,670.3 2606,672.6 2606.9,670.7 2607.8,678.2 2608.7,660.6 2609.6,662.1 2610.5,666.2 2611.4,668.6 2612.3,671.1 2613.2,675.6 2614.1,675.1 2615,663.7 2615.9,657.8 2616.8,639.7 2617.7,673 2618.6,677.2 2619.5,667.3 2620.4,679.8 2621.3,675.9 2622.2,670.9 2623.1,665.4 2624,664.8 2624.9,665.5 2625.8,666.3 2626.7,664.4 2627.6,665.2 2628.5,672.2 2629.4,663.7 2630.3,664.4 2631.2,660.6 2632.1,660.9 2633,663 2633.9,668.2 2634.8,662.7 2635.7,664.4 2636.6,655.4 2637.5,659.6 2638.4,665 2639.3,655.4 2640.2,670.8 2641.1,663.4 2642,653 2642.9,647.6 2643.8,648.4 2644.7,653.3 2645.6,644 2646.5,642.1 2647.4,642.3 2648.3,630.6 2649.2,629.4 2650.1,627.9 2651,626 2651.9,634 2652.8,634.8 2653.7,637.7 2654.6,631 2655.5,634.1 2656.4,634.1 2657.3,628.9 2658.2,637.8 2659.1,621.3 2660,618.7 2660.9,611.5 2661.8,605.6 2662.7,602.4 2663.6,597.7 2664.5,598.4 2665.4,610.8 2666.3,608 2667.2,615.3 2668.1,614.3 2669,609.8 2669.9,605.9 2670.8,600 2671.7,599.5 2672.6,600.6 2673.5,602.1 2674.4,593.2 2675.3,596.2 2676.2,595.1 2677.1,595.7 2678,591.7 2678.9,590.8 2679.8,587.6 2680.7,575.2 2681.6,575.7 2682.5,577.6 2683.4,577.3 2684.3,566.2 2685.2,578.2 2686.1,582.7 2687,599.3 2687.9,573.7 2688.8,571.3 2689.7,568 2690.6,565.4 2691.5,582 2692.4,565.2 2693.3,561.1 2694.2,558.7 2695.1,558.5 2696,562.1 2696.9,556.1 2697.8,560.7 2698.7,552.3 2699.6,560.4 2700.5,558 2701.4,566.7 2702.3,574.2 2703.2,573.1 2704.1,569.5 2705,576.3 2705.9,563.9 2706.8,559.3 2707.7,550.8 2708.6,556.9 2709.5,556 2710.4,556.5 2711.3,552.8 2712.2,566 2713.1,569 2714,578.2 2714.9,586 2715.8,586 2716.7,593.7 2717.6,599.9 2718.5,601.2 2719.4,598.3 2720.3,593.3 2721.2,592.2 2722.1,590.6 2723,600.2 2723.9,612.8 2724.8,594.4 2725.7,599.4 2726.6,595.4 2727.5,588.6 2728.4,605.2 2729.3,605.4 2730.2,594.1 2731.1,592 2732,590.4 2732.9,587.8 2733.8,588.5 2734.7,593.6 2735.6,595 2736.5,591.5 2737.4,591.9 2738.3,587.9 2739.2,583.2 2740.1,583 2741,574 2741.9,582.5 2742.8,570.7 2743.7,576.3 2744.6,577.6 2745.5,577.9 2746.4,577.6 2747.3,581.6 2748.2,573.4 2749.1,578.6 2750,580.7 2750.9,562.6 2751.8,576.1 2752.7,579.9 2753.6,570.4 2754.5,570.6 2755.4,570.7 2756.3,570.4 2757.2,576.7 2758.1,562.8 2759,560.7 2759.9,555.7 2760.8,552.7 2761.7,551.7 2762.6,539.5 2763.5,543.9 2764.4,531.5 2765.3,530.7 2766.2,524.7 2767.1,520.7 2768,512.3 2768.9,522.7 2769.8,511.8 2770.7,509.3 2771.6,513.6 2772.5,508.9 2773.4,517.8 2774.3,519.4 2775.2,518.3 2776.1,519.4 2777,524 2777.9,516.4 2778.8,522.7 2779.7,518.9 2780.6,512.9 2781.5,509.7 2782.4,497.5 2783.3,500 2784.2,495.6 2785.1,481 2786,473.6 2786.9,480.4 2787.8,466.8 2788.7,451.7 2789.6,451.7 2790.5,465 2791.4,475.3 2792.3,467.4 2793.2,472.8 2794.1,471.3 2795,465.1 2795.9,480.2 2796.8,485 2797.7,477.4 2798.6,470.9 2799.5,455.6 2800.4,454.3 2801.3,464.4 2802.2,466.3 2803.1,452.4 2804,455.9 2804.9,448.2 2805.8,454 2806.7,448.8 2807.6,440.8 2808.5,446 2809.4,423.9 2810.3,403.5 2811.2,408.8 2812.1,409.7 2813,411.1 2813.9,408 2814.8,402 2815.7,393.8 2816.6,390.1 2817.5,384.1 2818.4,380.8 2819.3,369.4 2820.2,364.4 2821.1,373.6 2822,380 2822.9,389 2823.8,390.3 2824.7,404.3 2825.6,402.4 2826.5,407.7 2827.4,405.2 2828.3,404.4 2829.2,405.1 2830.1,394.2 2831,399 2831.9,410.5 2832.8,422.8 2833.7,443.8 2834.6,444.2 2835.5,455.1 2836.4,465 2837.3,473.8 2838.2,478.3 2839.1,475.8 2840,485.9 2840.9,485 2841.8,484.4 2842.7,470.2 2843.6,453.3 2844.5,436.5 2845.4,429.5 2846.3,424.1 2847.2,429 2848.1,432 2849,440 2849.9,453.1 2850.8,455.5 2851.7,458.2 2852.6,469.3 2853.5,470.9 2854.4,475 2855.3,480.1 2856.2,483.5 2857.1,484.9 2858,485.7 2858.9,479 2859.8,466.4 2860.7,453.3 2861.6,462.7 2862.5,457.8 2863.4,468.8 2864.3,468.1 2865.2,463 2866.1,468.4 2867,469.3 2867.9,476.6 2868.8,468.8 2869.7,472.5 2870.6,479.6 2871.5,471.7 2872.4,493.2 2873.3,482.7 2874.2,471.9 2875.1,479.5 2876,478.2 2876.9,482.1 2877.8,479.2 2878.7,476 2879.6,501.8 2880.5,472 2881.4,480.4 2882.3,479.2 2883.2,485.4 2884.1,481.3 2885,463 2885.9,484.3 2886.8,487 2887.7,468.4 2888.6,469.2 2889.5,477.2 2890.4,454.9 2891.3,454.9 2892.2,458.4 2893.1,454.2 2894,457 2894.9,467.4 2895.8,446.4 2896.7,467.1 2897.6,492.7 2898.5,473.2 2899.4,473.5 2900.3,469.8 2901.2,484.6 2902.1,477.6 2903,490.9 2903.9,488.9 2904.8,488.5 2905.7,495 2906.6,496.5 2907.5,500.6 2908.4,494.9 2909.3,515.6 2910.2,523 2911.1,525.9 2912,528.7 2912.9,535.3 2913.8,528.7 2914.7,536.3 2915.6,529.1 2916.5,526.4 2917.4,517.3 2918.3,516.4 2919.2,510.1 2920.1,503.1 2921,505.6 2921.9,501.3 2922.8,499.6 2923.7,496.9 2924.6,483.6 2925.5,485.9 2926.4,480.2 2927.3,488.2 2928.2,501 2929.1,519.6 2930,507.1 2930.9,507.9 2931.8,511.3 2932.7,513.4 2933.6,507.5 2934.5,512.3 2935.4,521.4 2936.3,522.9 2937.2,519.9 2938.1,518.3 2939,518.3 2939.9,525.2 2940.8,511.9 2941.7,505.7 2942.6,509.9 2943.5,502.3 2944.4,497.8 2945.3,499.2 2946.2,490.6 2947.1,481.8 2948,482.2 2948.9,471.3 2949.8,480.1 2950.7,475.9 2951.6,475.1 2952.5,477.5 2953.4,480.3 2954.3,473.2 2955.2,470.9 2956.1,494.5 2957,472.7 2957.9,471.8 2958.8,456.8 2959.7,453.4 2960.6,444.7 2961.5,448.4 2962.4,424.3 2963.3,441.9 2964.2,451.4 2965.1,449.2 2966,442.9 2966.9,451.6 2967.8,451.9 2968.7,453.6 2969.6,459.7 2970.5,466 2971.4,473.9 2972.3,472.9 2973.2,471.9 2974.1,477.8 2975,484.1 2975.9,470.1 2976.8,471.1 2977.7,464.6 2978.6,457.7 2979.5,459.2 2980.4,454.3 2981.3,454.3 2982.2,451.5 2983.1,456.2 2984,458.8 2984.9,450.6 2985.8,456.1 2986.7,443 2987.6,446.3 2988.5,437.5 2989.4,438.8 2990.3,422.2 2991.2,418.1 2992.1,398.4 2993,396.5 2993.9,388.5 2994.8,380.3 2995.7,364.7 2996.6,369.1 2997.5,368.1 2998.4,369.5 2999.3,365.8"/>
<polyline stroke="#ADD8E6" points="376.5,758.2 377.3,774.1 378.1,773.4 378.9,778 379.7,781.8 380.5,786.1 381.3,788.9 382.1,791.9 382.9,797.4 383.7,796.3 384.5,790.4 385.3,801.4 386.1,805.2 386.9,814.2 387.7,828.1 388.5,819.4 389.3,809.6 390.1,800.5 390.9,804.5 391.7,805.5 392.5,823.1 393.3,816.4 394.1,821 394.9,818.7 395.7,822.1 396.5,832.1 397.3,821.1 398.1,823.3 398.9,822.2 399.7,832.1 400.5,822 401.3,820.9 402.1,815.1 402.9,813.6 403.7,823.3 404.5,831.8 405.3,810 406.1,816.2 406.9,812.2 407.7,808.6 408.5,812.5 409.3,812.9 410.1,806.7 410.9,817.1 411.7,796.1 412.5,807.9 413.3,806.6 414.1,804 414.9,807.6 415.7,811.6 416.5,808.2 417.3,808.3 418.1,810.4 418.9,793.3 419.7,811.8 420.5,817.8 421.3,810.9 422.1,809.9 422.9,798.5 423.7,807.2 424.5,807 425.3,810.8 426.1,820.9 426.9,813.7 427.7,819.6 428.5,806.8 429.3,813.2 430.1,811 430.9,803.1 431.7,800.3 432.5,810.9 433.3,792.6 434.1,793.4 434.9,793.6 435.7,805.4 436.5,811.8 437.3,802.9 438.1,797.4 438.9,798.5 439.7,803.3 440.5,790.2 441.3,800.9 442.1,797.3 442.9,787.1 443.7,788.1 444.5,786 445.3,788.3 446.1,773.6 446.9,783.7 447.7,773 448.5,772.9 449.3,778.1 450.1,777.3 450.9,774.2 451.7,771.4 452.5,774.1 453.3,786.6 454.1,787.3 454.9,781.4 455.7,786.7 456.5,777.3 457.3,780.8 458.1,784.9 458.9,780 459.7,781.8 460.5,788.4 461.3,785 462.1,783.9 462.9,792 463.7,787.8 464.5,795.1 465.3,791 466.1,788.2 466.9,793 467.7,789.2 468.5,789.2 469.3,797.6 470.1,806.2 470.9,806.7 471.7,808.6 472.5,788.9 473.3,794.3 474.1,795.4 474.9,797.9 475.7,796.1 476.5,792.5 477.3,796.5 478.1,792.3 478.9,782.7 479.7,793.3 480.5,789.9 481.3,784.4 482.1,796.1 482.9,792.4 483.7,804.3 484.5,800.9 485.3,801.6 486.1,807.2 486.9,807.2 487.7,813 488.5,812.4 489.3,815.1 490.1,814.5 490.9,799.6 491.7,822.4 492.5,813.7 493.3,827.8 494.1,836.8 494.9,833.4 495.7,831.5 496.5,832.5 497.3,832.7 498.1,831.7 498.9,832.3 499.7,830 500.5,838 501.3,829.9 502.1,834.1 502.9,825.2 503.7,824.6 504.5,823.4 505.3,825.6 506.1,828.9 506.9,824.9 507.7,820 508.5,819.5 509.3,832.2 510.1,823.4 510.9,826.9 511.7,839.7 512.5,840.9 513.3,840.3 514.1,837.8 514.9,855.2 515.7,845.8 516.5,848.2 517.3,844.7 518.1,839.4 518.9,841.4 519.7,851 520.5,850.1 521.3,846.2 522.1,842.2 522.9,840.4 523.7,845.7 524.5,838.6 525.3,851 526.1,852.5 526.9,860.1 527.7,845 528.5,836.1 529.3,832.3 530.1,818.3 530.9,835.4 531.7,840 532.5,849.9 533.3,851.3 534.1,850.3 534.9,848.2 535.7,849.4 536.5,853.2 537.3,838.3 538.1,842.2 538.9,838.7 539.7,857.1 540.5,856.1 541.3,854 542.1,843 542.9,851.8 543.7,848.8 544.5,853.1 545.3,854.9 546.1,861.6 546.9,858.4 547.7,866.3 548.5,865.8 549.3,865 550.1,865.3 550.9,859.4 551.7,862.2 552.5,853.8 553.3,854.5 554.1,846.8 554.9,841.1 555.7,854.1 556.5,843.8 557.3,855.6 558.1,856.9 558.9,849.4 559.7,856.3 560.5,860.8 561.3,862.4 562.1,864 562.9,877.7 563.7,875.3 564.5,877.6 565.3,874 566.1,876.8 566.9,869.6 567.7,872.3 568.5,872.6 569.3,866.2 570.1,863.7 570.9,859.7 571.7,867.5 572.5,868 573.3,866.2 574.1,864.5 574.9,871.7 575.7,882.8 576.5,867.5 577.3,870.2 578.1,871.3 578.9,853.2 579.7,869.5 580.5,868.1 581.3,879.6 582.1,873.3 582.9,871.2 583.7,869.6 584.5,868 585.3,863.1 586.1,867 586.9,862.4 587.7,869.8 588.5,876.8 589.3,884.5 590.1,879.6 590.9,878 591.7,884.6 592.5,885.6 593.3,889.6 594.1,887.7 594.9,884.1 595.7,885.8 596.5,886.3 597.3,887.9 598.1,887.1 598.9,883.2 599.7,876.4 600.5,882.4 601.3,876.3 602.1,886.6 602.9,885.4 603.7,875.9 604.5,888.4 605.3,889.3 606.1,885.4 606.9,893.5 607.7,895 608.5,877.6 609.3,889.4 610.1,883.6 610.9,879.1 611.7,880.1 612.5,871.8 613.3,873.5 614.1,873.9 614.9,875.6 615.7,880.5 616.5,874.9 617.3,876.7 618.1,885.4 618.9,883.5 619.7,888.6 620.5,878.8 621.3,887.1 622.1,888.1 622.9,889 623.7,883.9 624.5,890.3 625.3,883.8 626.1,884.3 626.9,884.7 627.7,887.6 628.5,881.6 629.3,888 630.1,882.3 630.9,880.9 631.7,883.4 632.5,886.1 633.3,891.8 634.1,894.7 634.9,894.6 635.7,902.9 636.5,904.8 637.3,913.5 638.1,912.9 638.9,905 639.7,924.9 640.5,921.6 641.3,913.2 642.1,916 642.9,910.7 643.7,926.7 644.5,917.2 645.3,906.6 646.1,917.1 646.9,912.5 647.7,925.8 648.5,910.4 649.3,901.2 650.1,912.8 650.9,909.9 651.7,910 652.5,902 653.3,915.6 654.1,921.6 654.9,901 655.7,916.3 656.5,910.5 657.3,930 658.1,920.5 658.9,920.1 659.7,931.2 660.5,932.3 661.3,931.5 662.1,943.6 662.9,940.3 663.7,936.6 664.5,958 665.3,945.6 666.1,946.3 666.9,950.8 667.7,940.7 668.5,939.3 669.3,940.6 670.1,937.2 670.9,940.6 671.7,946.1 672.5,939.4 673.3,945 674.1,946.7 674.9,937.4 675.7,947 676.5,940.6 677.3,951.8 678.1,948.3 678.9,946.5 679.7,938.6 680.5,946.5 681.3,942.5 682.1,951.5 682.9,947.6 683.7,945.8 684.5,955.7 685.3,955.9 686.1,950.3 686.9,957.5 687.7,947.5 688.5,945.2 689.3,943.5 690.1,936.8 690.9,936.6 691.7,936.4 692.5,947.3 693.3,949.3 694.1,942.1 694.9,953.4 695.7,945.6 696.5,947.2 697.3,952.1 698.1,949.4 698.9,960.7 699.7,949.7 700.5,942.8 701.3,955.9 702.1,948.3 702.9,950.7 703.7,938.2 704.5,962.5 705.3,964.2 706.1,965.5 706.9,965.8 707.7,969 708.5,958.6 709.3,962.4 710.1,951.6 710.9,950.1 711.7,957.4 712.5,953.4 713.3,942.9 714.1,953.8 714.9,952.8 715.7,952.9 716.5,961.5 717.3,955.8 718.1,946.3 718.9,948.5 719.7,964.2 720.5,947.6 721.3,956.1 722.1,956.6 722.9,956.4 723.7,948.3 724.5,951.7 725.3,953 726.1,955.9 726.9,949.1 727.7,948.2 728.5,965.6 729.3,975.7 730.1,979.4 730.9,981.7 731.7,982.1 732.5,973.3 733.3,972.4 734.1,971.6 734.9,979.6 735.7,973.9 736.5,964 737.3,966.7 738.1,973.2 738.9,978.8 739.7,982.8 740.5,973.1 741.3,981 742.1,984.9 742.9,986.1 743.7,989.8 744.5,977.4 745.3,976.4 746.1,986.9 746.9,989.4 747.7,998.5 748.5,991.6 749.3,985.4 750.1,995.9 750.9,988.9 751.7,987.1 752.5,1009.9 753.3,998.4 754.1,1001.4 754.9,997.8 755.7,1003.9 756.5,993.2 757.3,997.1 758.1,983.5 758.9,981.2 759.7,994.8 760.5,994.3 761.3,988.7 762.1,989.9 762.9,990.6 763.7,987.6 764.5,1001 765.3,996 766.1,995.3 766.9,991.8 767.7,994.2 768.5,987 769.3,984.5 770.1,968.7 770.9,972.1 771.7,976.9 772.5,961.8 773.3,963.7 774.1,968.9 774.9,966.3 775.7,964.5 776.5,952.6 777.3,963.6 778.1,954.3 778.9,957.1 779.7,966.1 780.5,962.8 781.3,967.9 782.1,983.8 782.9,973.7 783.7,976.4 784.5,970.8 785.3,974.4 786.1,976.1 786.9,982.2 787.7,981 788.5,986.2 789.3,991.7 790.1,989.3 790.9,989.9 791.7,989.4 792.5,998.4 793.3,994.7 794.1,995.7 794.9,993.6 795.7,984.4 796.5,987.6 797.3,973.7 798.1,994.1 798.9,987.8 799.7,982.1 800.5,977.8 801.3,986 802.1,973.5 802.9,982.1 803.7,990.1 804.5,986.4 805.3,984.5 806.1,993.2 806.9,983.1 807.7,995.4 808.5,993.5 809.3,996.9 810.1,1009.3 810.9,1007.7 811.7,1030.9 812.5,1026.6 813.3,1042.7 814.1,1028 814.9,1037.9 815.7,1031 816.5,1031.8 817.3,1042.3 818.1,1046.2 818.9,1037.7 819.7,1051.4 820.5,1034.3 821.3,1032.4 822.1,1029.2 822.9,1023 823.7,1005.1 824.5,1015.7 825.3,1003.6 826.1,991.5 826.9,981.2 827.7,970.2 828.5,966.3 829.3,971.9 830.1,971.6 830.9,969.8 831.7,977.2 832.5,989.8 833.3,982.9 834.1,983.9 834.9,997.2 835.7,993.9 836.5,994.5 837.3,991 838.1,989.8 838.9,996.6 839.7,1003.9 840.5,1011.3 841.3,1019.7 842.1,1025.7 842.9,1027.5 843.7,1026.8 844.5,1017.5 845.3,1010.2 846.1,1015.8 846.9,1013.2 847.7,1016.1 848.5,1019.7 849.3,1015 850.1,1016.4 850.9,1021.5 851.7,1024 852.5,1020.5 853.3,1026.4 854.1,1023 854.9,1019.9 855.7,1026.2 856.5,1038.5 857.3,1024.7 858.1,1033 858.9,1034.4 859.7,1038.6 860.5,1029.9 861.3,1049 862.1,1042.1 862.9,1043.6 863.7,1049.3 864.5,1053.7 865.3,1051.3 866.1,1049.7 866.9,1057.9 867.7,1047.1 868.5,1043.9 869.3,1049.9 870.1,1046.6 870.9,1042.1 871.7,1027.3 872.5,1041.2 873.3,1040.7 874.1,1048.9 874.9,1034.9 875.7,1044.5 876.5,1045.5 877.3,1036.8 878.1,1040.5 878.9,1048.2 879.7,1040.3 880.5,1037.5 881.3,1046.3 882.1,1045.3 882.9,1042.5 883.7,1029.2 884.5,1029.6 885.3,1033.7 886.1,1029.9 886.9,1031.5 887.7,1044.3 888.5,1051.7 889.3,1038.7 890.1,1034.5 890.9,1040.4 891.7,1043.7 892.5,1050.5 893.3,1053.5 894.1,1049.9 894.9,1046.8 895.7,1051.2 896.5,1046.7 897.3,1051.4 898.1,1048.6 898.9,1068.3 899.7,1058.2 900.5,1048.4 901.3,1046.3 902.1,1047.7 902.9,1041.3 903.7,1044.1 904.5,1044.2 905.3,1054.4 906.1,1048.9 906.9,1045.7 907.7,1044.6 908.5,1044.2 909.3,1050.5 910.1,1051.2 910.9,1057.6 911.7,1048.2 912.5,1058.8 913.3,1056.1 914.1,1056 914.9,1045.7 915.7,1048.9 916.5,1060.7 917.3,1064.9 918.1,1059.5 918.9,1062.6 919.7,1058.1 920.5,1061.2 921.3,1062.5 922.1,1073.8 922.9,1072.4 923.7,1071.8 924.5,1072.9 925.3,1078.8 926.1,1077.8 926.9,1072.4 927.7,1088.1 928.5,1080.1 929.3,1080.6 930.1,1091.1 930.9,1091.4 931.7,1088.6 932.5,1096.7 933.3,1088.8 934.1,1092 934.9,1083.8 935.7,1102.5 936.5,1084.4 937.3,1100.4 938.1,1090 938.9,1088.6 939.7,1092.9 940.5,1095.1 941.3,1095.7 942.1,1102.2 942.9,1090.3 943.7,1090.9 944.5,1079.9 945.3,1085.9 946.1,1079 946.9,1078.6 947.7,1082.5 948.5,1084.1 949.3,1087.5 950.1,1091.1 950.9,1087.1 951.7,1087.3 952.5,1094.8 953.3,1082.7 954.1,1088.8 954.9,1100.1 955.7,1077 956.5,1087.8 957.3,1093.6 958.1,1079.4 958.9,1100 959.7,1069.4 960.5,1089.9 961.3,1090.6 962.1,1088.5 962.9,1085.4 963.7,1090.1 964.5,1085.5 965.3,1097.8 966.1,1091.8 966.9,1100.5 967.7,1113.8 968.5,1106 969.3,1112.1 970.1,1111.7 970.9,1102 971.7,1112.6 972.5,1106.9 973.3,1095.3 974.1,1105.6 974.9,1105.6 975.7,1110.1 976.5,1116.6 977.3,1111.6 978.1,1117 978.9,1105.7 979.7,1110.8 980.5,1102.9 981.3,1105.8 982.1,1096.2 982.9,1095.4 983.7,1091.9 984.5,1098.9 985.3,1100.9 986.1,1106.5 986.9,1100.8 987.7,1094.2 988.5,1092.4 989.3,1094.4 990.1,1092.3 990.9,1100.2 991.7,1097.2 992.5,1087.1 993.3,1087.1 994.1,1095.6 994.9,1088.8 995.7,1083.6 996.5,1090.5 997.3,1080.8 998.1,1079.2 998.9,1074.7 999.7,1064.5 1000.5,1079.1 1001.3,1068.7 1002.1,1073.2 1002.9,1072.9 1003.7,1080.7 1004.5,1077.2 1005.3,1079.6 1006.1,1071.4 1006.9,1080.8 1007.7,1076.1 1008.5,1086.8 1009.3,1088.5 1010.1,1088.6 1010.9,1099.5 1011.7,1093.9 1012.5,1095.2 1013.3,1090.8 1014.1,1089.6 1014.9,1096.3 1015.7,1098.2 1016.5,1084.1 1017.3,1093.8 1018.1,1090.7 1018.9,1092.7 1019.7,1088.8 1020.5,1078.1 1021.3,1076.7 1022.1,1092 1022.9,1085.6 1023.7,1079.2 1024.5,1091.6 1025.3,1091.1 1026.1,1085.1 1026.9,1081.1 1027.7,1084.8 1028.5,1094.9 1029.3,1091.9 1030.1,1088.9 1030.9,1086.6 1031.7,1047.9 1032.5,1030.8 1033.3,1037.9 1034.1,1034.9 1034.9,1034 1035.7,1039 1036.5,1043.2 1037.3,1041.9 1038.1,1034.2 1038.9,1039.7 1039.7,1052.5 1040.5,1036.2 1041.3,1030.3 1042.1,1078 1042.9,1079.7 1043.7,1079.4 1044.5,1070 1045.3,1082.9 1046.1,1073.4 1046.9,1072.7 1047.7,1072.6 1048.5,1073.8 1049.3,1077.3 1050.1,1074.4 1050.9,1072.6 1051.7,1082.5 1052.5,1080.2 1053.3,1089.9 1054.1,1081.2 1054.9,1077.3 1055.7,1089.1 1056.5,1075.3 1057.3,1078.4 1058.1,1079.2 1058.9,1078.1 1059.7,1076.3 1060.5,1087.2 1061.3,1066 1062.1,1084.6 1062.9,1093.2 1063.7,1078.4 1064.5,1078.7 1065.3,1083.3 1066.1,1089.4 1066.9,1072.4 1067.7,1078.4 1068.5,1076.1 1069.3,1083.5 1070.1,1082.2 1070.9,1087.9 1071.7,1082 1072.5,1086.8 1073.3,1086.2 1074.1,1085.5 1074.9,1086.5 1075.7,1084.6 1076.5,1078 1077.3,1093.3 1078.1,1082.1 1078.9,1072.8 1079.7,1086.3 1080.5,1074.9 1081.3,1081.5 1082.1,1076.5 1082.9,1074.1 1083.7,1072 1084.5,1066.4 1085.3,1067.5 1086.1,1078.7 1086.9,1054.3 1087.7,1067.3 1088.5,1070.6 1089.3,1061.3 1090.1,1058.3 1090.9,1079 1091.7,1065 1092.5,1079.9 1093.3,1072.2 1094.1,1070.4 1094.9,1074.1 1095.7,1077.8 1096.5,1082.1 1097.3,1079.7 1098.1,1077.6 1098.9,1076.5 1099.7,1080.2 1100.5,1075.7 1101.3,1064.6 1102.1,1065.8 1102.9,1070 1103.7,1066.3 1104.5,1069.8 1105.3,1067.7 1106.1,1073 1106.9,1078.5 1107.7,1082 1108.5,1076.4 1109.3,1087.5 1110.1,1076.4 1110.9,1096.1 1111.7,1084.7 1112.5,1081.6 1113.3,1075.6 1114.1,1061 1114.9,1075.7 1115.7,1074.7 1116.5,1081.8 1117.3,1062.6 1118.1,1082.3 1118.9,1072.6 1119.7,1081.9 1120.5,1065.6 1121.3,1083 1122.1,1081.7 1122.9,1088.6 1123.7,1084.5 1124.5,1078.4 1125.3,1090.6 1126.1,1092.5 1126.9,1091.3 1127.7,1094.1 1128.5,1096.4 1129.3,1093.2 1130.1,1087.6 1130.9,1090.2 1131.7,1104.6 1132.5,1105.1 1133.3,1106.5 1134.1,1106.7 1134.9,1108.2 1135.7,1108 1136.5,1105.8 1137.3,1105.3 1138.1,1121.2 1138.9,1109.8 1139.7,1104.6 1140.5,1101.9 1141.3,1105 1142.1,1110.7 1142.9,1109.1 1143.7,1102.4 1144.5,1103.9 1145.3,1100.4 1146.1,1094.6 1146.9,1107.8 1147.7,1103 1148.5,1113.3 1149.3,1095.1 1150.1,1093.8 1150.9,1096.3 1151.7,1086.1 1152.5,1076.5 1153.3,1075.8 1154.1,1081.9 1154.9,1082.5 1155.7,1078.9 1156.5,1083.3 1157.3,1083.4 1158.1,1079.7 1158.9,1079.9 1159.7,1078.1 1160.5,1083.8 1161.3,1087.6 1162.1,1084 1162.9,1087.2 1163.7,1083.7 1164.5,1078.3 1165.3,1081.1 1166.1,1090.9 1166.9,1089.3 1167.7,1095.5 1168.5,1087.4 1169.3,1088.7 1170.1,1086 1170.9,1078.4 1171.7,1068.6 1172.5,1074.1 1173.3,1077.8 1174.1,1074.4 1174.9,1083.1 1175.7,1089.1 1176.5,1084.9 1177.3,1101 1178.1,1090 1178.9,1094.4 1179.7,1097.7 1180.5,1098.3 1181.3,1105.8 1182.1,1106.3 1182.9,1116.8 1183.7,1114.7 1184.5,1117.2 1185.3,1114 1186.1,1107.6 1186.9,1112.7 1187.7,1105.7 1188.5,1112.5 1189.3,1103 1190.1,1108.8 1190.9,1100.5 1191.7,1101.2 1192.5,1099.2 1193.3,1100.2 1194.1,1106.2 1194.9,1109.3 1195.7,1103.7 1196.5,1114.1 1197.3,1127 1198.1,1111 1198.9,1108.4 1199.7,1105 1200.5,1099.2 1201.3,1111.8 1202.1,1104 1202.9,1104.1 1203.7,1111.9 1204.5,1114.4 1205.3,1095.3 1206.1,1108.5 1206.9,1108 1207.7,1108 1208.5,1111.4 1209.3,1105.4 1210.1,1110.9 1210.9,1104 1211.7,1101.4 1212.5,1103.5 1213.3,1100.8 1214.1,1103.4 1214.9,1106.7 1215.7,1118.2 1216.5,1113.4 1217.3,1109.9 1218.1,1106.2 1218.9,1109.8 1219.7,1105.1 1220.5,1113.1 1221.3,1116.6 1222.1,1107.6 1222.9,1121.2 1223.7,1127.4 1224.5,1126.9 1225.3,1120.4 1226.1,1132.4 1226.9,1121.9 1227.7,1120.9 1228.5,1118.9 1229.3,1123.2 1230.1,1126.4 1230.9,1128.2 1231.7,1125.9 1232.5,1119.5 1233.3,1122 1234.1,1119.3 1234.9,1121.7 1235.7,1110.9 1236.5,1119.6 1237.3,1121.8 1238.1,1118.9 1238.9,1121.5 1239.7,1114.3 1240.5,1109.7 1241.3,1114.2 1242.1,1126.6 1242.9,1125.2 1243.7,1117.8 1244.5,1127.2 1245.3,1121.9 1246.1,1135.4 1246.9,1131.9 1247.7,1126.1 1248.5,1135.1 1249.3,1128.5 1250.1,1129.2 1250.9,1127.6 1251.7,1137.5 1252.5,1135.5 1253.3,1136.8 1254.1,1135.3 1254.9,1143.7 1255.7,1133.3 1256.5,1131.8 1257.3,1143.5 1258.1,1147.3 1258.9,1141.9 1259.7,1128.1 1260.5,1134.1 1261.3,1139.9 1262.1,1135.3 1262.9,1143.9 1263.7,1127.2 1264.5,1138.6 1265.3,1133.8 1266.1,1144.3 1266.9,1134.8 1267.7,1138.7 1268.5,1127.9 1269.3,1121.8 1270.1,1120.3 1270.9,1120.9 1271.7,1118.1 1272.5,1130.7 1273.3,1130 1274.1,1118.7 1274.9,1107.4 1275.7,1108.4 1276.5,1101.2 1277.3,1111 1278.1,1107.2 1278.9,1109.3 1279.7,1108.8 1280.5,1104.2 1281.3,1109.5 1282.1,1104.2 1282.9,1109.4 1283.7,1106.3 1284.5,1100.7 1285.3,1100.8 1286.1,1107.9 1286.9,1090.9 1287.7,1090.3 1288.5,1095.4 1289.3,1091.8 1290.1,1094.8 1290.9,1103.7 1291.7,1113.5 1292.5,1098.7 1293.3,1110.8 1294.1,1109.5 1294.9,1106.8 1295.7,1102.9 1296.5,1099.1 1297.3,1106.5 1298.1,1097.6 1298.9,1099.1 1299.7,1098.9 1300.5,1098.9 1301.3,1096.8 1302.1,1101.4 1302.9,1094.5 1303.7,1093.3 1304.5,1091.6 1305.3,1087.1 1306.1,1089.2 1306.9,1087.6 1307.7,1096.3 1308.5,1091.9 1309.3,1089.6 1310.1,1096.4 1310.9,1097.6 1311.7,1085.9 1312.5,1107.1 1313.3,1097.3 1314.1,1096.1 1314.9,1102.4 1315.7,1095.6 1316.5,1090.8 1317.3,1105.6 1318.1,1085.9 1318.9,1089.8 1319.7,1094.8 1320.5,1084.1 1321.3,1088.3 1322.1,1090.2 1322.9,1100.4 1323.7,1082.6 1324.5,1085.5 1325.3,1088.6 1326.1,1085.5 1326.9,1080.1 1327.7,1089.1 1328.5,1087.7 1329.3,1090.7 1330.1,1096 1330.9,1096.1 1331.7,1093.1 1332.5,1090.8 1333.3,1082.7 1334.1,1085.6 1334.9,1086.9 1335.7,1085.7 1336.5,1088.7 1337.3,1084.3 1338.1,1097.9 1338.9,1101.8 1339.7,1091 1340.5,1097.8 1341.3,1096.3 1342.1,1107.6 1342.9,1102.6 1343.7,1100.4 1344.5,1099.2 1345.3,1100.8 1346.1,1093.5 1346.9,1104 1347.7,1098.1 1348.5,1108.3 1349.3,1107.4 1350.1,1113.2 1350.9,1106 1351.7,1109 1352.5,1098.6 1353.3,1104.9 1354.1,1099.6 1354.9,1104.4 1355.7,1107.2 1356.5,1112.8 1357.3,1096.4 1358.1,1106 1358.9,1095.3 1359.7,1108.4 1360.5,1091.7 1361.3,1096.1 1362.1,1093.6 1362.9,1111.3 1363.7,1095.3 1364.5,1103.9 1365.3,1095.5 1366.1,1084.1 1366.9,1088.1 1367.7,1089.7 1368.5,1083.4 1369.3,1092.8 1370.1,1085 1370.9,1090.5 1371.7,1090.3 1372.5,1094.8 1373.3,1102.4 1374.1,1094.2 1374.9,1089.2 1375.7,1083.4 1376.5,1081.8 1377.3,1092.2 1378.1,1078.5 1378.9,1080 1379.7,1084.1 1380.5,1080.5 1381.3,1091.7 1382.1,1066.7 1382.9,1081.2 1383.7,1082.8 1384.5,1071.4 1385.3,1072.4 1386.1,1076.5 1386.9,1081.3 1387.7,1066.8 1388.5,1061.1 1389.3,1073.5 1390.1,1074.8 1390.9,1062.7 1391.7,1052.8 1392.5,1071.5 1393.3,1060.4 1394.1,1067.3 1394.9,1061.7 1395.7,1063.2 1396.5,1062.6 1397.3,1073.3 1398.1,1074.4 1398.9,1057.8 1399.7,1065.9 1400.5,1080 1401.3,1068.6 1402.1,1063.9 1402.9,1069.9 1403.7,1067.1 1404.5,1064.3 1405.3,1060.8 1406.1,1063.6 1406.9,1062.2 1407.7,1066.6 1408.5,1060.5 1409.3,1063.8 1410.1,1065.3 1410.9,1073.4 1411.7,1068 1412.5,1064.1 1413.3,1067.7 1414.1,1066.6 1414.9,1070.3 1415.7,1065.8 1416.5,1073.4 1417.3,1069.5 1418.1,1062.5 1418.9,1060.1 1419.7,1067.2 1420.5,1062.5 1421.3,1060.4 1422.1,1050.5 1422.9,1047 1423.7,1057.3 1424.5,1060.1 1425.3,1058.1 1426.1,1045.5 1426.9,1054.2 1427.7,1046.3 1428.5,1052.8 1429.3,1054.4 1430.1,1047.5 1430.9,1050 1431.7,1041.4 1432.5,1047.6 1433.3,1040 1434.1,1051.2 1434.9,1048.7 1435.7,1053.9 1436.5,1048.2 1437.3,1043.8 1438.1,1048.9 1438.9,1045.2 1439.7,1051.9 1440.5,1050.2 1441.3,1042.9 1442.1,1049.6 1442.9,1049.4 1443.7,1046.5 1444.5,1052.2 1445.3,1056.1 1446.1,1043.3 1446.9,1044.2 1447.7,1036.8 1448.5,1050.4 1449.3,1052.1 1450.1,1047.5 1450.9,1062 1451.7,1064 1452.5,1058 1453.3,1060.4 1454.1,1058.1 1454.9,1066 1455.7,1051.4 1456.5,1057.2 1457.3,1068.7 1458.1,1052.6 1458.9,1049.6 1459.7,1041.5 1460.5,1032.3 1461.3,1037.5 1462.1,1037.5 1462.9,1028.9 1463.7,1035.7 1464.5,1040 1465.3,1037 1466.1,1019.2 1466.9,1016.6 1467.7,1009.7 1468.5,1021.6 1469.3,1018.8 1470.1,1019.7 1470.9,1009.9 1471.7,1007.1 1472.5,1014.6 1473.3,1012.2 1474.1,1002.4 1474.9,1004.6 1475.7,1004.6 1476.5,999.3 1477.3,991.5 1478.1,983.9 1478.9,991.6 1479.7,994.8 1480.5,993.9 1481.3,993 1482.1,993.2 1482.9,999.3 1483.7,993.8 1484.5,995.3 1485.3,988.3 1486.1,989.3 1486.9,993.7 1487.7,989.7 1488.5,990 1489.3,998.4 1490.1,1006.9 1490.9,1003.5 1491.7,1012.3 1492.5,1001.9 1493.3,999.6 1494.1,993.9 1494.9,996.7 1495.7,1007.2 1496.5,997.7 1497.3,996.1 1498.1,995.3 1498.9,989.6 1499.7,986.4 1500.5,985.4 1501.3,988.2 1502.1,986.8 1502.9,986.1 1503.7,981.8 1504.5,975 1505.3,977.5 1506.1,973.4 1506.9,982.6 1507.7,965.4 1508.5,976.1 1509.3,990.7 1510.1,976.3 1510.9,971.7 1511.7,977.1 1512.5,981.2 1513.3,971.4 1514.1,973.9 1514.9,970.7 1515.7,969.7 1516.5,988.9 1517.3,971 1518.1,967.7 1518.9,968.2 1519.7,969.9 1520.5,967.5 1521.3,966 1522.1,962.7 1522.9,954.9 1523.7,964.6 1524.5,958.6 1525.3,959.5 1526.1,953.2 1526.9,958.6 1527.7,957.6 1528.5,960.3 1529.3,954.1 1530.1,966 1530.9,967.8 1531.7,963.1 1532.5,966.7 1533.3,964.7 1534.1,972.8 1534.9,952.4 1535.7,962.5 1536.5,953.8 1537.3,958.3 1538.1,964.6 1538.9,954.4 1539.7,959.6 1540.5,955.1 1541.3,970.1 1542.1,964.4 1542.9,965.7 1543.7,951.9 1544.5,952.6 1545.3,962.1 1546.1,954.9 1546.9,954.8 1547.7,955.5 1548.5,943.7 1549.3,951.1 1550.1,945.7 1550.9,946.6 1551.7,939.5 1552.5,944 1553.3,935.8 1554.1,943.5 1554.9,950 1555.7,952.7 1556.5,954.3 1557.3,956 1558.1,938.5 1558.9,959 1559.7,952.3 1560.5,954.5 1561.3,953.6 1562.1,948 1562.9,953.6 1563.7,958.9 1564.5,963.6 1565.3,953.6 1566.1,951.4 1566.9,963.2 1567.7,952.3 1568.5,963.9 1569.3,949.5 1570.1,940.5 1570.9,950.4 1571.7,960 1572.5,946 1573.3,961.9 1574.1,948.6 1574.9,955.8 1575.7,942 1576.5,939.1 1577.3,951.6 1578.1,957.8 1578.9,966.5 1579.7,965.7 1580.5,960.5 1581.3,955.2 1582.1,950.3 1582.9,949.2 1583.7,943.6 1584.5,946.9 1585.3,937.5 1586.1,956.6 1586.9,958.3 1587.7,972.8 1588.5,962 1589.3,954.3 1590.1,957.4 1590.9,946.7 1591.7,945 1592.5,935 1593.3,950 1594.1,945.7 1594.9,936.3 1595.7,943.9 1596.5,950.6 1597.3,953.6 1598.1,958.6 1598.9,953.4 1599.7,954.5 1600.5,957.4 1601.3,961 1602.1,952 1602.9,951.4 1603.7,963.8 1604.5,951.9 1605.3,962.6 1606.1,959.3 1606.9,962.4 1607.7,965.6 1608.5,958.7 1609.3,960.5 1610.1,951.9 1610.9,954.3 1611.7,962.3 1612.5,965.6 1613.3,965.4 1614.1,970.4 1614.9,958.3 1615.7,957.4 1616.5,960.3 1617.3,955.1 1618.1,956.2 1618.9,951.9 1619.7,963.6 1620.5,954 1621.3,964.8 1622.1,955.4 1622.9,968.5 1623.7,958.8 1624.5,969.8 1625.3,957.9 1626.1,965.3 1626.9,975.8 1627.7,968.6 1628.5,975 1629.3,973.2 1630.1,965.9 1630.9,981.8 1631.7,984.7 1632.5,975.1 1633.3,984.3 1634.1,974.4 1634.9,968.2 1635.7,969.5 1636.5,963.3 1637.3,977.5 1638.1,961.4 1638.9,974.6 1639.7,977.2 1640.5,964.1 1641.3,967 1642.1,981.3 1642.9,976.8 1643.7,983 1644.5,990.2 1645.3,985.2 1646.1,985.9 1646.9,980.9 1647.7,998 1648.5,994.2 1649.3,1002.5 1650.1,1003.2 1650.9,997.3 1651.7,1014.4 1652.5,1011.2 1653.3,1011.6 1654.1,1002.7 1654.9,1008.7 1655.7,1009.6 1656.5,1011.4 1657.3,1008.4 1658.1,1017.7 1658.9,1017.2 1659.7,1016.3 1660.5,1011.1 1661.3,1018.3 1662.1,1010 1662.9,992.2 1663.7,1001.3 1664.5,1005 1665.3,1010.6 1666.1,1004.7 1666.9,1005.9 1667.7,1003.3 1668.5,1011.6 1669.3,1008.7 1670.1,1009.4 1670.9,1011.5 1671.7,1018.3 1672.5,1010.9 1673.3,1005.1 1674.1,1018 1674.9,1007.6 1675.7,1010.5 1676.5,1007.1 1677.3,1006.2 1678.1,1005.2 1678.9,998.3 1679.7,1003.1 1680.5,1000.1 1681.3,1019 1682.1,1017.6 1682.9,1028.8 1683.7,1024.4 1684.5,1018.9 1685.3,1038.9 1686.1,1033.4 1686.9,1034.5 1687.7,1034.5 1688.5,1038.1 1689.3,1034.4 1690.1,1022.1 1690.9,1036.1 1691.7,1024.9 1692.5,1023.5 1693.3,1034.4 1694.1,1028.8 1694.9,1022.4 1695.7,1012.9 1696.5,1022.2 1697.3,1027.4 1698.1,1026.7 1698.9,1023 1699.7,1028.9 1700.5,1026.6 1701.3,1036 1702.1,1042.9 1702.9,1046 1703.7,1035.1 1704.5,1036.5 1705.3,1034.5 1706.1,1027 1706.9,1029.5 1707.7,1043.4 1708.5,1036.2 1709.3,1042.5 1710.1,1039.7 1710.9,1041.9 1711.7,1032.2 1712.5,1040.7 1713.3,1046.7 1714.1,1050 1714.9,1046.2 1715.7,1046.4 1716.5,1047.5 1717.3,1047.4 1718.1,1051.5 1718.9,1059.4 1719.7,1054.6 1720.5,1067.2 1721.3,1058.7 1722.1,1057.4 1722.9,1060.6 1723.7,1058.8 1724.5,1060.8 1725.3,1075.8 1726.1,1069.3 1726.9,1075 1727.7,1083 1728.5,1087.1 1729.3,1079.4 1730.1,1089.9 1730.9,1082.3 1731.7,1077.1 1732.5,1076.8 1733.3,1063.6 1734.1,1067.9 1734.9,1074.3 1735.7,1080.1 1736.5,1078.6 1737.3,1084.4 1738.1,1091.4 1738.9,1092 1739.7,1086.9 1740.5,1088.6 1741.3,1078.2 1742.1,1075.2 1742.9,1075.1 1743.7,1067.4 1744.5,1064.4 1745.3,1075 1746.1,1068.6 1746.9,1068.6 1747.7,1077.7 1748.5,1088.6 1749.3,1080.4 1750.1,1087.5 1750.9,1078.6 1751.7,1077.4 1752.5,1077.9 1753.3,1082.3 1754.1,1092.6 1754.9,1077.8 1755.7,1093.4 1756.5,1081.9 1757.3,1086.5 1758.1,1090.9 1758.9,1091.1 1759.7,1089.1 1760.5,1079.3 1761.3,1090.5 1762.1,1080.8 1762.9,1099.7 1763.7,1084 1764.5,1084 1765.3,1077.8 1766.1,1082 1766.9,1078 1767.7,1091.2 1768.5,1084.9 1769.3,1090.7 1770.1,1086.5 1770.9,1087.9 1771.7,1098.4 1772.5,1085.8 1773.3,1079.5 1774.1,1090.9 1774.9,1083 1775.7,1084.8 1776.5,1093.5 1777.3,1085.5 1778.1,1096.6 1778.9,1088.4 1779.7,1099.4 1780.5,1095.6 1781.3,1084.6 1782.1,1086.5 1782.9,1086.2 1783.7,1094 1784.5,1104.1 1785.3,1090.4 1786.1,1098.1 1786.9,1081.7 1787.7,1078.8 1788.5,1070.5 1789.3,1088 1790.1,1071.1 1790.9,1068.3 1791.7,1059.7 1792.5,1072.9 1793.3,1059.6 1794.1,1074.9 1794.9,1091.7 1795.7,1081.9 1796.5,1084.6 1797.3,1090.7 1798.1,1083.5 1798.9,1088.5 1799.7,1089.8 1800.5,1081.9 1801.3,1080.2 1802.1,1071.9 1802.9,1070.1 1803.7,1064 1804.5,1067.2 1805.3,1059 1806.1,1051.3 1806.9,1034.9 1807.7,1052 1808.5,1055.9 1809.3,1047.4 1810.1,1044.1 1810.9,1051.9 1811.7,1060.6 1812.5,1048.3 1813.3,1049 1814.1,1048.6 1814.9,1053.3 1815.7,1043.4 1816.5,1038.7 1817.3,1032 1818.1,1040.5 1818.9,1034.9 1819.7,1027.8 1820.5,1018.8 1821.3,1019.8 1822.1,1025.7 1822.9,1018.7 1823.7,1029.7 1824.5,1029.3 1825.3,1029.2 1826.1,1032.3 1826.9,1033.3 1827.7,1029.2 1828.5,1034.4 1829.3,1047.5 1830.1,1025.4 1830.9,1028.8 1831.7,1036.9 1832.5,1030.2 1833.3,1027.4 1834.1,1025.2 1834.9,1035.5 1835.7,1039 1836.5,1043.1 1837.3,1036.3 1838.1,1043.9 1838.9,1031.4 1839.7,1037.7 1840.5,1033.8 1841.3,1039.1 1842.1,1042.4 1842.9,1044.5 1843.7,1031.7 1844.5,1043.1 1845.3,1031.2 1846.1,1024.8 1846.9,1026.8 1847.7,1019.9 1848.5,1028.4 1849.3,1026.9 1850.1,1022.8 1850.9,1027.3 1851.7,1023.9 1852.5,1026.1 1853.3,1018.8 1854.1,1027.8 1854.9,1025.3 1855.7,1026.7 1856.5,1027.3 1857.3,1029.2 1858.1,1019.7 1858.9,1021.7 1859.7,1033.1 1860.5,1039.8 1861.3,1043.8 1862.1,1050.1 1862.9,1050.4 1863.7,1043.5 1864.5,1036.7 1865.3,1025.6 1866.1,1024.6 1866.9,1023.8 1867.7,1025.8 1868.5,1022.9 1869.3,1018.7 1870.1,1016.4 1870.9,1023.2 1871.7,1019.6 1872.5,1021.6 1873.3,1020.6 1874.1,1016.5 1874.9,1016 1875.7,1024 1876.5,1024.6 1877.3,1022 1878.1,1021.6 1878.9,1039.3 1879.7,1025.5 1880.5,1028.3 1881.3,1032.6 1882.1,1025.9 1882.9,1033.4 1883.7,1043 1884.5,1040.4 1885.3,1039.6 1886.1,1041 1886.9,1039.8 1887.7,1045.9 1888.5,1042.3 1889.3,1043.2 1890.1,1047 1890.9,1054.8 1891.7,1053.6 1892.5,1056.4 1893.3,1043.4 1894.1,1061.5 1894.9,1068.3 1895.7,1062.3 1896.5,1053.4 1897.3,1051.1 1898.1,1058 1898.9,1049.4 1899.7,1058.5 1900.5,1051 1901.3,1061.6 1902.1,1064.2 1902.9,1046.6 1903.7,1059.9 1904.5,1052 1905.3,1045 1906.1,1045.5 1906.9,1043.7 1907.7,1055.2 1908.5,1047 1909.3,1065.1 1910.1,1074.8 1910.9,1069.7 1911.7,1072.7 1912.5,1072.8 1913.3,1069.4 1914.1,1079.6 1914.9,1081 1915.7,1086.4 1916.5,1098.4 1917.3,1091.2 1918.1,1089.6 1918.9,1093.5 1919.7,1076.3 1920.5,1075.9 1921.3,1077.7 1922.1,1074.1 1922.9,1078.8 1923.7,1070.9 1924.5,1081.7 1925.3,1083.1 1926.1,1079.9 1926.9,1074.5 1927.7,1080.2 1928.5,1081.9 1929.3,1073.2 1930.1,1078.2 1930.9,1075.7 1931.7,1070.8 1932.5,1073.8 1933.3,1071.7 1934.1,1059.8 1934.9,1063.1 1935.7,1055.8 1936.5,1062.5 1937.3,1054 1938.1,1067.2 1938.9,1064.2 1939.7,1068.8 1940.5,1064.7 1941.3,1059.1 1942.1,1076 1942.9,1063.6 1943.7,1071.4 1944.5,1065.9 1945.3,1067.6 1946.1,1075.1 1946.9,1068.3 1947.7,1075.6 1948.5,1062.9 1949.3,1075.9 1950.1,1069.4 1950.9,1068.8 1951.7,1067.9 1952.5,1067.4 1953.3,1072.9 1954.1,1051.5 1954.9,1059.5 1955.7,1053.8 1956.5,1063.6 1957.3,1054.5 1958.1,1060.6 1958.9,1057.5 1959.7,1063.1 1960.5,1066.5 1961.3,1060.4 1962.1,1064.5 1962.9,1058.5 1963.7,1068.1 1964.5,1070.9 1965.3,1063.3 1966.1,1071.3 1966.9,1054.1 1967.7,1053.6 1968.5,1057.1 1969.3,1062.9 1970.1,1067.1 1970.9,1067.7 1971.7,1069.6 1972.5,1064.2 1973.3,1047.7 1974.1,1032.1 1974.9,1025.2 1975.7,1043.3 1976.5,1020.8 1977.3,1032.2 1978.1,1042.3 1978.9,1038.3 1979.7,1034.6 1980.5,1060.1 1981.3,1067 1982.1,1065.5 1982.9,1052.3 1983.7,1057.1 1984.5,1055.3 1985.3,1060.8 1986.1,1063.4 1986.9,1054.3 1987.7,1043.4 1988.5,1044.1 1989.3,1045.2 1990.1,1032.4 1990.9,1021.8 1991.7,1038.8 1992.5,1025.7 1993.3,1039.5 1994.1,1037 1994.9,1044.2 1995.7,1046.8 1996.5,1056.7 1997.3,1044.4 1998.1,1044.5 1998.9,1037.7 1999.7,1048.5 2000.5,1042.1 2001.3,1045.7 2002.1,1038.9 2002.9,1043.4 2003.7,1051.6 2004.5,1045.5 2005.3,1050 2006.1,1045 2006.9,1037.5 2007.7,1027.7 2008.5,1039 2009.3,1036.5 2010.1,1044.6 2010.9,1030.3 2011.7,1035.7 2012.5,1035.9 2013.3,1044.5 2014.1,1057 2014.9,1055 2015.7,1052.7 2016.5,1055.7 2017.3,1062.1 2018.1,1057.8 2018.9,1063.1 2019.7,1061.4 2020.5,1050.5 2021.3,1063.8 2022.1,1075 2022.9,1066.4 2023.7,1069.9 2024.5,1068.2 2025.3,1068.2 2026.1,1072.7 2026.9,1061.1 2027.7,1055.5 2028.5,1044.1 2029.3,1058 2030.1,1052 2030.9,1051.9 2031.7,1066.7 2032.5,1065.8 2033.3,1051.3 2034.1,1071.1 2034.9,1072.7 2035.7,1069.4 2036.5,1081.4 2037.3,1071.5 2038.1,1076.4 2038.9,1078.6 2039.7,1083.7 2040.5,1096.6 2041.3,1088.5 2042.1,1094.1 2042.9,1098.7 2043.7,1109.1 2044.5,1108.9 2045.3,1116.8 2046.1,1110.5 2046.9,1108.3 2047.7,1113.1 2048.5,1117.9 2049.3,1113.1 2050.1,1119.1 2050.9,1127.7 2051.7,1116.2 2052.5,1122 2053.3,1132 2054.1,1122.3 2054.9,1122.9 2055.7,1119.6 2056.5,1126.1 2057.3,1124.8 2058.1,1117.8 2058.9,1117.3 2059.7,1122.8 2060.5,1118.3 2061.3,1106.1 2062.1,1111.7 2062.9,1107.3 2063.7,1108.5 2064.5,1100.2 2065.3,1096.7 2066.1,1097.1 2066.9,1087.2 2067.7,1094.9 2068.5,1093.4 2069.3,1100.5 2070.1,1094.4 2070.9,1098.4 2071.7,1097.4 2072.5,1097.3 2073.3,1107.4 2074.1,1101.3 2074.9,1106.5 2075.7,1099.4 2076.5,1104.5 2077.3,1093.2 2078.1,1099 2078.9,1098.3 2079.7,1102.9 2080.5,1100.4 2081.3,1097.5 2082.1,1102 2082.9,1098.4 2083.7,1099.7 2084.5,1099.6 2085.3,1094.7 2086.1,1093.3 2086.9,1096.2 2087.7,1093.3 2088.5,1095.1 2089.3,1096.8 2090.1,1092.8 2090.9,1084.8 2091.7,1081.5 2092.5,1088.9 2093.3,1087.9 2094.1,1095.1 2094.9,1086.5 2095.7,1086.8 2096.5,1089.9 2097.3,1079.4 2098.1,1079.6 2098.9,1090.1 2099.7,1088.1 2100.5,1080.9 2101.3,1078.2 2102.1,1070 2102.9,1080.7 2103.7,1077.7 2104.5,1076.2 2105.3,1071.9 2106.1,1075.1 2106.9,1074.1 2107.7,1077.6 2108.5,1080.9 2109.3,1075 2110.1,1063.5 2110.9,1067.1 2111.7,1063.9 2112.5,1066.5 2113.3,1071.9 2114.1,1072 2114.9,1066.2 2115.7,1069.9 2116.5,1063.5 2117.3,1058.9 2118.1,1057.9 2118.9,1060.5 2119.7,1069.9 2120.5,1053.5 2121.3,1066.8 2122.1,1063.3 2122.9,1054.9 2123.7,1054.9 2124.5,1049.6 2125.3,1050.6 2126.1,1050.3 2126.9,1044.3 2127.7,1048.9 2128.5,1046.2 2129.3,1039.8 2130.1,1039.4 2130.9,1037.7 2131.7,1040 2132.5,1033.2 2133.3,1039.5 2134.1,1037.7 2134.9,1031.4 2135.7,1046.7 2136.5,1029.1 2137.3,1028.5 2138.1,1031.2 2138.9,1018.3 2139.7,1023.4 2140.5,1018 2141.3,1023.3 2142.1,1028.2 2142.9,1031.2 2143.7,1037.8 2144.5,1039.8 2145.3,1045 2146.1,1046.2 2146.9,1044.3 2147.7,1056.6 2148.5,1050.2 2149.3,1051.1 2150.1,1064 2150.9,1060.8 2151.7,1056.9 2152.5,1059.5 2153.3,1059.5 2154.1,1048.7 2154.9,1057.3 2155.7,1051.8 2156.5,1059.7 2157.3,1055.5 2158.1,1061.8 2158.9,1053.5 2159.7,1043.1 2160.5,1043.2 2161.3,1036.4 2162.1,1041 2162.9,1041.9 2163.7,1038 2164.5,1024.8 2165.3,1031.2 2166.1,1035.5 2166.9,1032.8 2167.7,1037.2 2168.5,1024.3 2169.3,1035.2 2170.1,1028.5 2170.9,1032.1 2171.7,1030.1 2172.5,1030 2173.3,1021.4 2174.1,1022.6 2174.9,1013.1 2175.7,1009.2 2176.5,1020.5 2177.3,1016.5 2178.1,1006.2 2178.9,1009.5 2179.7,1011.9 2180.5,1019.4 2181.3,1016.9 2182.1,1013.9 2182.9,999.7 2183.7,1008.7 2184.5,1009.9 2185.3,1011.3 2186.1,1009.5 2186.9,1003.4 2187.7,1012.5 2188.5,1010.8 2189.3,1003 2190.1,1000.5 2190.9,1017.4 2191.7,1003.9 2192.5,1016.3 2193.3,1021.8 2194.1,1006.8 2194.9,1011.5 2195.7,1007.9 2196.5,1011.6 2197.3,1011.7 2198.1,1018 2198.9,1010.3 2199.7,1004.9 2200.5,1010 2201.3,1001.5 2202.1,1001.7 2202.9,1016 2203.7,999.8 2204.5,1000.9 2205.3,1003.4 2206.1,995.8 2206.9,989 2207.7,1002.9 2208.5,989.9 2209.3,989.3 2210.1,987.4 2210.9,980.3 2211.7,977 2212.5,981 2213.3,992.2 2214.1,982.7 2214.9,981.4 2215.7,967.9 2216.5,976.6 2217.3,972.7 2218.1,984.5 2218.9,980.1 2219.7,982.4 2220.5,984.2 2221.3,984.3 2222.1,981.6 2222.9,995.2 2223.7,988.6 2224.5,987.5 2225.3,988.7 2226.1,982.9 2226.9,984.3 2227.7,986.6 2228.5,981.8 2229.3,978.5 2230.1,978.3 2230.9,980 2231.7,963.1 2232.5,974.2 2233.3,965.7 2234.1,962.5 2234.9,969.7 2235.7,966.9 2236.5,973 2237.3,977.2 2238.1,960.6 2238.9,970.1 2239.7,976.5 2240.5,968 2241.3,967.1 2242.1,957.4 2242.9,946.1 2243.7,942.7 2244.5,949.5 2245.3,952 2246.1,942.5 2246.9,943.4 2247.7,946.4 2248.5,934.3 2249.3,938.8 2250.1,946.5 2250.9,945 2251.7,928.8 2252.5,938.5 2253.3,923.5 2254.1,919.9 2254.9,909.6 2255.7,923.7 2256.5,917.2 2257.3,932.6 2258.1,921 2258.9,918.2 2259.7,906.7 2260.5,922 2261.3,911.4 2262.1,909.5 2262.9,895.5 2263.7,910.4 2264.5,910.7 2265.3,900 2266.1,900.5 2266.9,897.4 2267.7,895.8 2268.5,888.3 2269.3,895.3 2270.1,882.5 2270.9,878.7 2271.7,878.3 2272.5,864.9 2273.3,873.2 2274.1,882.9 2274.9,875.6 2275.7,865.2 2276.5,871.5 2277.3,858.7 2278.1,869.3 2278.9,873.4 2279.7,874.3 2280.5,866.5 2281.3,876.9 2282.1,881.3 2282.9,869 2283.7,873 2284.5,860.4 2285.3,855.8 2286.1,870 2286.9,869.4 2287.7,872.7 2288.5,870.8 2289.3,873.4 2290.1,879 2290.9,884.6 2291.7,874.6 2292.5,865.5 2293.3,883.1 2294.1,881.7 2294.9,885.6 2295.7,883.1 2296.5,894.5 2297.3,884.4 2298.1,890.2 2298.9,878 2299.7,888.9 2300.5,898 2301.3,908.7 2302.1,903.7 2302.9,888.4 2303.7,893.4 2304.5,879 2305.3,884.8 2306.1,890.3 2306.9,883.6 2307.7,894.4 2308.5,893.2 2309.3,887.1 2310.1,898.8 2310.9,891.9 2311.7,893.8 2312.5,891.5 2313.3,890.1 2314.1,898.6 2314.9,899.2 2315.7,898.2 2316.5,904.7 2317.3,890.5 2318.1,899.1 2318.9,895.5 2319.7,914 2320.5,905.1 2321.3,903.2 2322.1,897.7 2322.9,906.9 2323.7,896.3 2324.5,898.2 2325.3,882.2 2326.1,900.4 2326.9,898.8 2327.7,900.8 2328.5,907.3 2329.3,898.2 2330.1,894.3 2330.9,895.4 2331.7,890.4 2332.5,887.4 2333.3,890 2334.1,885.6 2334.9,890 2335.7,891.4 2336.5,885.2 2337.3,893.5 2338.1,872.5 2338.9,879.4 2339.7,889.4 2340.5,875.8 2341.3,863.3 2342.1,874.6 2342.9,865 2343.7,848.6 2344.5,852.6 2345.3,837.3 2346.1,829.7 2346.9,833.3 2347.7,831.2 2348.5,826.1 2349.3,830.2 2350.1,828 2350.9,836 2351.7,837 2352.5,843.4 2353.3,841.4 2354.1,841.3 2354.9,847.7 2355.7,858.7 2356.5,870.1 2357.3,867.3 2358.1,861.8 2358.9,871.5 2359.7,865.3 2360.5,880.4 2361.3,877.8 2362.1,888 2362.9,884.6 2363.7,874.4 2364.5,875.7 2365.3,865.5 2366.1,872.3 2366.9,879.6 2367.7,896.7 2368.5,879 2369.3,878.3 2370.1,873.1 2370.9,883.5 2371.7,869.7 2372.5,874.5 2373.3,881.9 2374.1,874.7 2374.9,889.1 2375.7,883.6 2376.5,873.2 2377.3,868.7 2378.1,863 2378.9,861.7 2379.7,870.5 2380.5,870.9 2381.3,866.1 2382.1,862.2 2382.9,856.6 2383.7,857.2 2384.5,845.2 2385.3,852.3 2386.1,858.1 2386.9,855.2 2387.7,843.5 2388.5,841.5 2389.3,850.2 2390.1,850.2 2390.9,829.7 2391.7,831 2392.5,831.9 2393.3,833.6 2394.1,816.3 2394.9,817.4 2395.7,805.6 2396.5,819.4 2397.3,808.1 2398.1,804.9 2398.9,803.6 2399.7,812.3 2400.5,811.5 2401.3,803.5 2402.1,810.4 2402.9,802.2 2403.7,805.3 2404.5,800.6 2405.3,798.2 2406.1,798.9 2406.9,794.2 2407.7,802.3 2408.5,801.8 2409.3,795.5 2410.1,791 2410.9,803.2 2411.7,788.3 2412.5,790.8 2413.3,805.9 2414.1,807.1 2414.9,811 2415.7,803.8 2416.5,797.6 2417.3,801.2 2418.1,806.3 2418.9,800.8 2419.7,805 2420.5,806.2 2421.3,812.1 2422.1,827.8 2422.9,832.1 2423.7,827.1 2424.5,829.5 2425.3,839.3 2426.1,849.2 2426.9,845.3 2427.7,855.4 2428.5,845.7 2429.3,852.7 2430.1,864.5 2430.9,866.3 2431.7,853.7 2432.5,852.6 2433.3,858.1 2434.1,847.4 2434.9,844.3 2435.7,848.8 2436.5,847.1 2437.3,852 2438.1,850.4 2438.9,842.9 2439.7,847 2440.5,849.2 2441.3,841.5 2442.1,841 2442.9,847.4 2443.7,829.9 2444.5,843.9 2445.3,841.5 2446.1,839.2 2446.9,842.2 2447.7,842.3 2448.5,846.7 2449.3,838 2450.1,837.5 2450.9,838.1 2451.7,850.6 2452.5,848 2453.3,837.3 2454.1,841.1 2454.9,839.6 2455.7,845.4 2456.5,844.7 2457.3,858 2458.1,835 2458.9,851.5 2459.7,848.2 2460.5,839.9 2461.3,840.1 2462.1,836.1 2462.9,837 2463.7,840.6 2464.5,824.7 2465.3,838.6 2466.1,829.8 2466.9,837.3 2467.7,829.6 2468.5,831.7 2469.3,824.2 2470.1,823.3 2470.9,813.1 2471.7,802.1 2472.5,806.7 2473.3,805.8 2474.1,809.6 2474.9,786 2475.7,794.5 2476.5,800.9 2477.3,787.9 2478.1,791.9 2478.9,803.1 2479.7,799.3 2480.5,785.7 2481.3,797.9 2482.1,796.7 2482.9,794.7 2483.7,793.4 2484.5,793.6 2485.3,787.7 2486.1,789.9 2486.9,795.7 2487.7,791.5 2488.5,801.9 2489.3,790.7 2490.1,779.4 2490.9,790.9 2491.7,791.2 2492.5,786.4 2493.3,780 2494.1,770.8 2494.9,781.1 2495.7,769.9 2496.5,776.1 2497.3,770.6 2498.1,773.1 2498.9,795.9 2499.7,781.8 2500.5,798.5 2501.3,812.6 2502.1,817.2 2502.9,830.1 2503.7,828.5 2504.5,830 2505.3,849.6 2506.1,839.7 2506.9,840.1 2507.7,835.5 2508.5,837.4 2509.3,846.5 2510.1,852.9 2510.9,854.9 2511.7,857.5 2512.5,868.6 2513.3,848.7 2514.1,850.1 2514.9,844.5 2515.7,841.6 2516.5,857 2517.3,864 2518.1,868.1 2518.9,885.1 2519.7,881.6 2520.5,887.3 2521.3,881.8 2522.1,888.4 2522.9,887 2523.7,883.4 2524.5,883.8 2525.3,865.1 2526.1,864.1 2526.9,859.4 2527.7,836.7 2528.5,845.1 2529.3,850.3 2530.1,853.4 2530.9,844.9 2531.7,850.3 2532.5,852.1 2533.3,841.4 2534.1,848.9 2534.9,848.8 2535.7,840 2536.5,830.1 2537.3,842.2 2538.1,828.8 2538.9,823.3 2539.7,818.4 2540.5,806.3 2541.3,805.7 2542.1,796 2542.9,792.5 2543.7,781.6 2544.5,767 2545.3,766.4 2546.1,767.8 2546.9,757.7 2547.7,773 2548.5,753.5 2549.3,751.7 2550.1,759.9 2550.9,756.4 2551.7,753.9 2552.5,754.1 2553.3,760.2 2554.1,765 2554.9,765.5 2555.7,762 2556.5,767 2557.3,772.3 2558.1,773.8 2558.9,754.6 2559.7,765.1 2560.5,766.5 2561.3,769.2 2562.1,770.3 2562.9,771.2 2563.7,768.3 2564.5,761.8 2565.3,761.9 2566.1,770.2 2566.9,756.1 2567.7,759.6 2568.5,765.6 2569.3,758.4 2570.1,743 2570.9,754.4 2571.7,747.5 2572.5,745.5 2573.3,749.4 2574.1,743.4 2574.9,736.3 2575.7,741.8 2576.5,738.5 2577.3,734.4 2578.1,733.1 2578.9,730.1 2579.7,724 2580.5,721.8 2581.3,722 2582.1,713.6 2582.9,709.2 2583.7,719.9 2584.5,709.8 2585.3,707.7 2586.1,705.3 2586.9,705.2 2587.7,699.1 2588.5,694 2589.3,686.7 2590.1,693.9 2590.9,685.6 2591.7,694.1 2592.5,675.9 2593.3,679 2594.1,688.4 2594.9,679.6 2595.7,674.5 2596.5,676.9 2597.3,665.7 2598.1,667.4 2598.9,653 2599.7,662.5 2600.5,659.5 2601.3,664.1 2602.1,663.7 2602.9,652.3 2603.7,668.6 2604.5,660.4 2605.3,654.9 2606.1,653.6 2606.9,669.6 2607.7,656.4 2608.5,650 2609.3,652 2610.1,654 2610.9,670.2 2611.7,664.2 2612.5,675.1 2613.3,664.9 2614.1,651.1 2614.9,666.5 2615.7,655.5 2616.5,655.5 2617.3,671.9 2618.1,667.9 2618.9,681.6 2619.7,675.7 2620.5,669.1 2621.3,672.9 2622.1,663.2 2622.9,670 2623.7,666.1 2624.5,659.2 2625.3,662.4 2626.1,662.7 2626.9,660.3 2627.7,669.1 2628.5,663.1 2629.3,667 2630.1,658.2 2630.9,663 2631.7,662.8 2632.5,658.3 2633.3,663.6 2634.1,662.5 2634.9,664.2 2635.7,651.6 2636.5,654 2637.3,660.5 2638.1,656.5 2638.9,646.7 2639.7,655.7 2640.5,661 2641.3,652.6 2642.1,659.3 2642.9,654.6 2643.7,649.2 2644.5,641.9 2645.3,637.5 2646.1,634.9 2646.9,634.3 2647.7,633.1 2648.5,628.3 2649.3,623.8 2650.1,624.4 2650.9,624.9 2651.7,614.6 2652.5,620 2653.3,622.5 2654.1,627.4 2654.9,626.8 2655.7,626.2 2656.5,622.2 2657.3,626.2 2658.1,619.4 2658.9,603.7 2659.7,608.9 2660.5,597.4 2661.3,610.8 2662.1,595.5 2662.9,591.9 2663.7,588.7 2664.5,588.8 2665.3,595.1 2666.1,611.9 2666.9,608.5 2667.7,611.2 2668.5,610 2669.3,597.1 2670.1,608.4 2670.9,602.9 2671.7,600.5 2672.5,588.4 2673.3,595.3 2674.1,593.1 2674.9,587.8 2675.7,602.2 2676.5,590.6 2677.3,586.4 2678.1,587.1 2678.9,589.7 2679.7,585.2 2680.5,577.2 2681.3,575.6 2682.1,578.4 2682.9,568.2 2683.7,576.9 2684.5,575.1 2685.3,580 2686.1,583.1 2686.9,577 2687.7,565.4 2688.5,566.2 2689.3,569.4 2690.1,558.4 2690.9,559.2 2691.7,562.8 2692.5,549.9 2693.3,563.3 2694.1,560.6 2694.9,563.1 2695.7,554.1 2696.5,553.5 2697.3,551.9 2698.1,554.6 2698.9,551.4 2699.7,554.2 2700.5,568.5 2701.3,570.7 2702.1,563.3 2702.9,562.8 2703.7,574 2704.5,561.6 2705.3,567.4 2706.1,563.8 2706.9,547.9 2707.7,545.1 2708.5,544.8 2709.3,542.1 2710.1,543 2710.9,550.9 2711.7,562 2712.5,561 2713.3,569.1 2714.1,572.2 2714.9,572.6 2715.7,593.3 2716.5,575.9 2717.3,588.5 2718.1,597 2718.9,588 2719.7,597.8 2720.5,598.4 2721.3,586.3 2722.1,592.2 2722.9,588.6 2723.7,600.7 2724.5,597.9 2725.3,598.3 2726.1,605 2726.9,600 2727.7,605 2728.5,600 2729.3,589.2 2730.1,595.2 2730.9,591.7 2731.7,578.6 2732.5,591.2 2733.3,586.3 2734.1,589.5 2734.9,584.6 2735.7,592 2736.5,590.5 2737.3,584.6 2738.1,583.3 2738.9,569.4 2739.7,583.8 2740.5,568 2741.3,560.5 2742.1,565 2742.9,565.8 2743.7,573.8 2744.5,565 2745.3,572.2 2746.1,566.4 2746.9,583 2747.7,576.3 2748.5,583.4 2749.3,567.6 2750.1,579.1 2750.9,571.7 2751.7,577.2 2752.5,573.6 2753.3,557.6 2754.1,558.5 2754.9,559.4 2755.7,555.1 2756.5,558.6 2757.3,553.5 2758.1,548.5 2758.9,555.4 2759.7,556.5 2760.5,542.2 2761.3,544.3 2762.1,543.1 2762.9,536.9 2763.7,529.7 2764.5,531.9 2765.3,525.5 2766.1,519.6 2766.9,511.5 2767.7,523.3 2768.5,520.8 2769.3,507.1 2770.1,506.4 2770.9,512.6 2771.7,499.9 2772.5,505.9 2773.3,504.1 2774.1,502.3 2774.9,508 2775.7,503.4 2776.5,511.6 2777.3,507 2778.1,534.2 2778.9,528.4 2779.7,522.2 2780.5,512.4 2781.3,511.5 2782.1,508.1 2782.9,501.6 2783.7,494.9 2784.5,480.1 2785.3,482.4 2786.1,472.7 2786.9,462.6 2787.7,453.3 2788.5,451.4 2789.3,449.6 2790.1,442.3 2790.9,464.8 2791.7,469.7 2792.5,462.8 2793.3,462.9 2794.1,467.3 2794.9,475.5 2795.7,470.4 2796.5,470.2 2797.3,471.2 2798.1,452 2798.9,458.7 2799.7,458.4 2800.5,453.1 2801.3,455.9 2802.1,453.4 2802.9,453.7 2803.7,448.7 2804.5,442.5 2805.3,444.9 2806.1,443.5 2806.9,444.2 2807.7,439.9 2808.5,427.7 2809.3,415.3 2810.1,410 2810.9,407.5 2811.7,413.1 2812.5,407 2813.3,404.2 2814.1,399.8 2814.9,403.7 2815.7,393.1 2816.5,383.5 2817.3,377.1 2818.1,379.2 2818.9,364 2819.7,367.1 2820.5,367.8 2821.3,368.5 2822.1,381.1 2822.9,384.1 2823.7,387.3 2824.5,396.7 2825.3,394.5 2826.1,401.4 2826.9,398.4 2827.7,398.9 2828.5,399.3 2829.3,375.5 2830.1,391.5 2830.9,379.5 2831.7,399.9 2832.5,408 2833.3,428.5 2834.1,444.2 2834.9,438.8 2835.7,458 2836.5,461.8 2837.3,457.8 2838.1,478.4 2838.9,480.2 2839.7,480.3 2840.5,480 2841.3,493.2 2842.1,466 2842.9,448.1 2843.7,440.2 2844.5,431.1 2845.3,420.6 2846.1,422.3 2846.9,415.4 2847.7,422.1 2848.5,425 2849.3,431.6 2850.1,444 2850.9,449 2851.7,458.9 2852.5,460.3 2853.3,460 2854.1,468.3 2854.9,474.3 2855.7,487.7 2856.5,474.1 2857.3,478.8 2858.1,479.2 2858.9,463.9 2859.7,460.4 2860.5,453.1 2861.3,448.6 2862.1,451.1 2862.9,454.9 2863.7,458.9 2864.5,455.5 2865.3,461.2 2866.1,473 2866.9,454 2867.7,463.7 2868.5,468.3 2869.3,466.2 2870.1,470.4 2870.9,470.6 2871.7,476 2872.5,479.1 2873.3,471.3 2874.1,476.1 2874.9,477.2 2875.7,476.1 2876.5,479.3 2877.3,474.5 2878.1,484.1 2878.9,489.7 2879.7,486.1 2880.5,481.1 2881.3,471.6 2882.1,484.5 2882.9,473.6 2883.7,477.6 2884.5,485.9 2885.3,470.4 2886.1,480.5 2886.9,475 2887.7,467.4 2888.5,457 2889.3,458.3 2890.1,450.9 2890.9,456.4 2891.7,456.4 2892.5,439.8 2893.3,447.4 2894.1,450.1 2894.9,447.9 2895.7,452.9 2896.5,464.8 2897.3,465.6 2898.1,462.6 2898.9,466.6 2899.7,473.5 2900.5,464.8 2901.3,466 2902.1,481.2 2902.9,482.5 2903.7,469.5 2904.5,475.5 2905.3,488.8 2906.1,484.3 2906.9,493.8 2907.7,500 2908.5,514.7 2909.3,501.9 2910.1,507.9 2910.9,515.2 2911.7,529.1 2912.5,524.6 2913.3,516.6 2914.1,526.9 2914.9,528.5 2915.7,521.7 2916.5,518.4 2917.3,519.1 2918.1,519.4 2918.9,511.3 2919.7,512.4 2920.5,506.5 2921.3,499.8 2922.1,491.3 2922.9,494.3 2923.7,488.8 2924.5,484 2925.3,488.1 2926.1,486.9 2926.9,490.9 2927.7,481.8 2928.5,497.1 2929.3,492.8 2930.1,494.2 2930.9,496.2 2931.7,508.8 2932.5,508.1 2933.3,501.8 2934.1,499.2 2934.9,506.7 2935.7,505.7 2936.5,519.3 2937.3,502.4 2938.1,502 2938.9,511.6 2939.7,512.7 2940.5,510.6 2941.3,514.1 2942.1,519.4 2942.9,503.4 2943.7,497.5 2944.5,486.2 2945.3,493.1 2946.1,493.5 2946.9,482.8 2947.7,486 2948.5,475.1 2949.3,481.3 2950.1,473.6 2950.9,465.1 2951.7,466.8 2952.5,461.2 2953.3,460.1 2954.1,469.9 2954.9,473.6 2955.7,479.1 2956.5,466.8 2957.3,464.1 2958.1,453.2 2958.9,458.5 2959.7,448.8 2960.5,436.9 2961.3,442.2 2962.1,442.6 2962.9,427.6 2963.7,441.2 2964.5,438.9 2965.3,439 2966.1,441.9 2966.9,454.5 2967.7,452.5 2968.5,457.7 2969.3,444.4 2970.1,452.6 2970.9,467.5 2971.7,461.9 2972.5,466.4 2973.3,463.6 2974.1,484.8 2974.9,481 2975.7,473.4 2976.5,466.8 2977.3,457.1 2978.1,452.6 2978.9,456.3 2979.7,446.2 2980.5,456.6 2981.3,445.1 2982.1,442.6 2982.9,452.7 2983.7,445.4 2984.5,448 2985.3,442.4 2986.1,431.8 2986.9,448 2987.7,436.2 2988.5,443 2989.3,421.4 2990.1,413.5 2990.9,418.3 2991.7,409.3 2992.5,399 2993.3,382.6 2994.1,387.2 2994.9,369.4 2995.7,369.8 2996.5,361.7 2997.3,360.1 2998.1,364.5 2998.9,355.6"/>
<polyline stroke="#FF8C00" points="837.5,972.4 839.5,986.2 841.5,995.7 843.5,999.3 845.5,1003.6 847.5,1001.2 849.5,998.4 851.5,999.5 853.5,1002.1 855.5,1002.4 857.5,1014.3 859.5,1030.7 861.5,1038.4 863.5,1034 865.5,1033.4 867.5,1040.7 869.5,1046.4 871.5,1039.6 873.5,1043.9 875.5,1050.8 877.5,1055 879.5,1054.8 881.5,1053.3 883.5,1043.9 885.5,1038.3 887.5,1046 889.5,1052.3 891.5,1055.7 893.5,1059.1 895.5,1062.3 897.5,1064.2 899.5,1064.9 901.5,1061.8 903.5,1059.9 905.5,1061.6 907.5,1062.9 909.5,1067.5 911.5,1065.4 913.5,1067.8 915.5,1068.1 917.5,1070.3 919.5,1071.7 921.5,1076.8 923.5,1084.2 925.5,1086.4 927.5,1094.2 929.5,1099.3 931.5,1101.8 933.5,1107.5 935.5,1104.6 937.5,1103.6 939.5,1106.5 941.5,1108.7 943.5,1100 945.5,1094.1 947.5,1098.1 949.5,1100.6 951.5,1104.8 953.5,1107.3 955.5,1108.3 957.5,1104.3 959.5,1096.7 961.5,1097.1 963.5,1106 965.5,1112.1 967.5,1121.2 969.5,1129.8 971.5,1118.5 973.5,1111.8 975.5,1120.3 977.5,1128.6 979.5,1117.6 981.5,1114.4 983.5,1112.1 985.5,1111.5 987.5,1111.5 989.5,1106.6 991.5,1104.8 993.5,1101.5 995.5,1099.4 997.5,1096.2 999.5,1087.4 1001.5,1078.7 1003.5,1083.9 1005.5,1090.3 1007.5,1093.9 1009.5,1095.2 1011.5,1098.5 1013.5,1098.1 1015.5,1100.9 1017.5,1102.3 1019.5,1094.4 1021.5,1093 1023.5,1102.7 1025.5,1109.8 1027.5,1109.6 1029.5,1111.2 1031.5,1101.7 1033.5,1090.9 1035.5,1093.4 1037.5,1098.8 1039.5,1097.9 1041.5,1098.8 1043.5,1100.4 1045.5,1099.4 1047.5,1098.4 1049.5,1093.4 1051.5,1101.1 1053.5,1110 1055.5,1108.6 1057.5,1103.2 1059.5,1098.1 1061.5,1098.3 1063.5,1100.2 1065.5,1096.2 1067.5,1097.4 1069.5,1099.6 1071.5,1103.5 1073.5,1106.2 1075.5,1102.6 1077.5,1100.6 1079.5,1099.9 1081.5,1096 1083.5,1090.8 1085.5,1084.9 1087.5,1082.2 1089.5,1081 1091.5,1085 1093.5,1089.6 1095.5,1095.7 1097.5,1097.3 1099.5,1094.6 1101.5,1090.7 1103.5,1087.4 1105.5,1093.2 1107.5,1099 1109.5,1098.9 1111.5,1096.7 1113.5,1100.8 1115.5,1097.2 1117.5,1092.6 1119.5,1095.1 1121.5,1101.9 1123.5,1104.8 1125.5,1109.1 1127.5,1113 1129.5,1116.3 1131.5,1121.3 1133.5,1129.2 1135.5,1127.6 1137.5,1122.4 1139.5,1125.4 1141.5,1125.8 1143.5,1121.3 1145.5,1121.7 1147.5,1119.4 1149.5,1116.9 1151.5,1113.1 1153.5,1105.6 1155.5,1098.5 1157.5,1097.6 1159.5,1098.9 1161.5,1097 1163.5,1094.5 1165.5,1101.4 1167.5,1104.7 1169.5,1099.3 1171.5,1092.1 1173.5,1097.7 1175.5,1101.1 1177.5,1108.3 1179.5,1121.4 1181.5,1125 1183.5,1130.8 1185.5,1141 1187.5,1134.6 1189.5,1123.2 1191.5,1121.1 1193.5,1114.5 1195.5,1118.9 1197.5,1123.8 1199.5,1121.2 1201.5,1117.1 1203.5,1116 1205.5,1116.6 1207.5,1126.2 1209.5,1118.7 1211.5,1115.2 1213.5,1109.3 1215.5,1119.5 1217.5,1126.5 1219.5,1129.6 1221.5,1135.3 1223.5,1141 1225.5,1141.5 1227.5,1143.3 1229.5,1138.9 1231.5,1139.4 1233.5,1143.4 1235.5,1140.5 1237.5,1139.6 1239.5,1141.7 1241.5,1137.2 1243.5,1133.8 1245.5,1137.3 1247.5,1139.4 1249.5,1147 1251.5,1148.4 1253.5,1152.7 1255.5,1148.2 1257.5,1153 1259.5,1153.2 1261.5,1149.1 1263.5,1149.5 1265.5,1150.5 1267.5,1145.9 1269.5,1139.2 1271.5,1135.9 1273.5,1132.3 1275.5,1117.7 1277.5,1117.8 1279.5,1123.2 1281.5,1124.4 1283.5,1117.2 1285.5,1110.3 1287.5,1107.5 1289.5,1102.7 1291.5,1111.8 1293.5,1119.3 1295.5,1118.6 1297.5,1116.8 1299.5,1108.2 1301.5,1110.1 1303.5,1108.5 1305.5,1108.7 1307.5,1105.9 1309.5,1109.1 1311.5,1107.6 1313.5,1112.3 1315.5,1111 1317.5,1107.7 1319.5,1107.9 1321.5,1103.9 1323.5,1104.8 1325.5,1105.9 1327.5,1100.5 1329.5,1097.7 1331.5,1095.2 1333.5,1092.2 1335.5,1095.8 1337.5,1096.5 1339.5,1105.3 1341.5,1113.7 1343.5,1115.3 1345.5,1112.5 1347.5,1116.4 1349.5,1121.5 1351.5,1119.6 1353.5,1118.1 1355.5,1120.5 1357.5,1120 1359.5,1116.5 1361.5,1114 1363.5,1111.7 1365.5,1106.4 1367.5,1099.5 1369.5,1100.3 1371.5,1101.3 1373.5,1102.4 1375.5,1096.2 1377.5,1097.6 1379.5,1102.2 1381.5,1099.6 1383.5,1092 1385.5,1090.7 1387.5,1084.9 1389.5,1080.2 1391.5,1075.4 1393.5,1077 1395.5,1077.4 1397.5,1077.9 1399.5,1081.9 1401.5,1088.7 1403.5,1087.7 1405.5,1082.1 1407.5,1081.9 1409.5,1079 1411.5,1076.3 1413.5,1077.6 1415.5,1079.2 1417.5,1077.1 1419.5,1075 1421.5,1074.2 1423.5,1072.2 1425.5,1069.1 1427.5,1057.9 1429.5,1071.1 1431.5,1065.8 1433.5,1066 1435.5,1063.5 1437.5,1063.1 1439.5,1062.7 1441.5,1061.9 1443.5,1065.5 1445.5,1062.9 1447.5,1061.6 1449.5,1074.7 1451.5,1073.8 1453.5,1075.7 1455.5,1070.6 1457.5,1071 1459.5,1060 1461.5,1049.3 1463.5,1045.6 1465.5,1039 1467.5,1033 1469.5,1023.6 1471.5,1025.2 1473.5,1025.3 1475.5,1016.7 1477.5,1010.7 1479.5,1007.3 1481.5,1012.7 1483.5,1009.9 1485.5,1006.1 1487.5,1011.4 1489.5,1011.8 1491.5,1016.3 1493.5,1017.1 1495.5,1012.1 1497.5,1005.1 1499.5,997.3 1501.5,996.4 1503.5,994.7 1505.5,989.7 1507.5,992.7 1509.5,993.6 1511.5,992.2 1513.5,990.9 1515.5,991.1 1517.5,989.8 1519.5,982.2 1521.5,974.6 1523.5,975.8 1525.5,974.4 1527.5,974.5 1529.5,975.4 1531.5,982.2 1533.5,985.1 1535.5,979 1537.5,975.7 1539.5,970.8 1541.5,973.7 1543.5,971.9 1545.5,972.4 1547.5,966.9 1549.5,960.1 1551.5,956.1 1553.5,950.6 1555.5,959.9 1557.5,967.3 1559.5,971.6 1561.5,970.2 1563.5,967.5 1565.5,967 1567.5,973 1569.5,958.7 1571.5,962.5 1573.5,966.4 1575.5,952.5 1577.5,967.6 1579.5,972.5 1581.5,971 1583.5,963.6 1585.5,964.1 1587.5,970.1 1589.5,965.4 1591.5,961.8 1593.5,956.1 1595.5,955.2 1597.5,965.1 1599.5,970 1601.5,974.5 1603.5,969.3 1605.5,973.8 1607.5,969.3 1609.5,968.5 1611.5,971.4 1613.5,967.4 1615.5,969 1617.5,970.3 1619.5,971.4 1621.5,975.7 1623.5,980.4 1625.5,982.8 1627.5,985.9 1629.5,988.7 1631.5,989.6 1633.5,988.7 1635.5,985.3 1637.5,980.5 1639.5,985.6 1641.5,992 1643.5,996.2 1645.5,1000.3 1647.5,1004 1649.5,1011.7 1651.5,1019.8 1653.5,1024.8 1655.5,1027.6 1657.5,1029.9 1659.5,1028.7 1661.5,1024.8 1663.5,1018.4 1665.5,1019.3 1667.5,1024.3 1669.5,1030.2 1671.5,1032.9 1673.5,1030.3 1675.5,1026.2 1677.5,1015.1 1679.5,1021.1 1681.5,1031.5 1683.5,1033 1685.5,1041.8 1687.5,1046.7 1689.5,1044 1691.5,1041 1693.5,1039 1695.5,1032.8 1697.5,1036.3 1699.5,1039 1701.5,1045.1 1703.5,1047.6 1705.5,1041.1 1707.5,1043.1 1709.5,1052.2 1711.5,1051.3 1713.5,1055.5 1715.5,1058.6 1717.5,1066 1719.5,1070.8 1721.5,1079.2 1723.5,1081.9 1725.5,1082.8 1727.5,1084.1 1729.5,1095.4 1731.5,1095.8 1733.5,1083.5 1735.5,1094.6 1737.5,1100 1739.5,1096.1 1741.5,1095.2 1743.5,1083.5 1745.5,1082.1 1747.5,1088.6 1749.5,1091.7 1751.5,1092 1753.5,1094.4 1755.5,1095.5 1757.5,1103.3 1759.5,1098.5 1761.5,1101 1763.5,1095.9 1765.5,1097 1767.5,1095.6 1769.5,1094.4 1771.5,1102.4 1773.5,1102.7 1775.5,1103.4 1777.5,1109.4 1779.5,1104.7 1781.5,1098.5 1783.5,1106.2 1785.5,1110.1 1787.5,1098.7 1789.5,1087 1791.5,1075.5 1793.5,1088.5 1795.5,1098.5 1797.5,1104.1 1799.5,1101.1 1801.5,1093 1803.5,1079.4 1805.5,1065.5 1807.5,1060.5 1809.5,1065.3 1811.5,1066.6 1813.5,1062.6 1815.5,1059.3 1817.5,1051.1 1819.5,1039.5 1821.5,1035.4 1823.5,1038.8 1825.5,1040.9 1827.5,1043.1 1829.5,1047 1831.5,1038.4 1833.5,1041.2 1835.5,1044.6 1837.5,1049.5 1839.5,1052 1841.5,1058.1 1843.5,1054.4 1845.5,1043 1847.5,1037.7 1849.5,1035.5 1851.5,1033.9 1853.5,1038.9 1855.5,1040.6 1857.5,1038.3 1859.5,1047 1861.5,1056.7 1863.5,1056.9 1865.5,1047.6 1867.5,1042.1 1869.5,1032.8 1871.5,1029.2 1873.5,1028.5 1875.5,1032 1877.5,1030.2 1879.5,1037.6 1881.5,1047.1 1883.5,1047.8 1885.5,1052.4 1887.5,1057.5 1889.5,1059 1891.5,1062.3 1893.5,1067.2 1895.5,1070.6 1897.5,1065.6 1899.5,1066.9 1901.5,1065.9 1903.5,1068.9 1905.5,1061.5 1907.5,1059.1 1909.5,1072.7 1911.5,1080.6 1913.5,1090 1915.5,1095.4 1917.5,1099.9 1919.5,1095.9 1921.5,1092.6 1923.5,1084.1 1925.5,1083.5 1927.5,1087.1 1929.5,1089.4 1931.5,1085.7 1933.5,1081.3 1935.5,1073.4 1937.5,1073.8 1939.5,1078.7 1941.5,1079.1 1943.5,1079.3 1945.5,1077.7 1947.5,1079.2 1949.5,1080.2 1951.5,1081.2 1953.5,1074.7 1955.5,1072 1957.5,1071.1 1959.5,1071.5 1961.5,1076.1 1963.5,1079.2 1965.5,1082.6 1967.5,1078.4 1969.5,1083.2 1971.5,1085.8 1973.5,1062.3 1975.5,1038 1977.5,1041.8 1979.5,1046.2 1981.5,1069.2 1983.5,1058.2 1985.5,1068.9 1987.5,1064.3 1989.5,1047.9 1991.5,1041.9 1993.5,1054.8 1995.5,1062.6 1997.5,1063.5 1999.5,1059.8 2001.5,1057.2 2003.5,1056.5 2005.5,1055.2 2007.5,1048.6 2009.5,1047.6 2011.5,1055.4 2013.5,1063.1 2015.5,1065.2 2017.5,1073.9 2019.5,1075.6 2021.5,1079 2023.5,1086.7 2025.5,1081.6 2027.5,1073.1 2029.5,1072.7 2031.5,1074.5 2033.5,1073.7 2035.5,1083.3 2037.5,1093.2 2039.5,1097.5 2041.5,1107.5 2043.5,1111.6 2045.5,1117 2047.5,1122.1 2049.5,1124.7 2051.5,1126.5 2053.5,1131.9 2055.5,1136.1 2057.5,1131.5 2059.5,1123.9 2061.5,1117.6 2063.5,1111.7 2065.5,1105.3 2067.5,1104.8 2069.5,1106.1 2071.5,1115.6 2073.5,1114.3 2075.5,1115.1 2077.5,1112.5 2079.5,1109.5 2081.5,1106.7 2083.5,1107.2 2085.5,1102.6 2087.5,1102.5 2089.5,1096.4 2091.5,1091.3 2093.5,1094.1 2095.5,1091.8 2097.5,1087.8 2099.5,1083.5 2101.5,1080.8 2103.5,1081.1 2105.5,1075.1 2107.5,1076.1 2109.5,1073.4 2111.5,1072.2 2113.5,1065 2115.5,1063 2117.5,1063.7 2119.5,1058.7 2121.5,1056.1 2123.5,1048.2 2125.5,1050.8 2127.5,1041.3 2129.5,1040.2 2131.5,1033 2133.5,1034.6 2135.5,1029.5 2137.5,1027.6 2139.5,1021 2141.5,1022.6 2143.5,1029 2145.5,1030.4 2147.5,1039.2 2149.5,1046.7 2151.5,1048.3 2153.5,1053.1 2155.5,1056.4 2157.5,1053.6 2159.5,1043.7 2161.5,1042.7 2163.5,1038.8 2165.5,1035.2 2167.5,1030.3 2169.5,1021.8 2171.5,1020.3 2173.5,1015.6 2175.5,1010.7 2177.5,1010.6 2179.5,1003.5 2181.5,1004.8 2183.5,999.4 2185.5,997.9 2187.5,998.6 2189.5,1000.2 2191.5,1001.7 2193.5,1003.2 2195.5,1002.9 2197.5,1001.8 2199.5,995.2 2201.5,994.3 2203.5,995.3 2205.5,991.4 2207.5,985.3 2209.5,982.5 2211.5,976.1 2213.5,972.4 2215.5,969 2217.5,971 2219.5,974.9 2221.5,976.9 2223.5,988.1 2225.5,984.5 2227.5,977.6 2229.5,972.4 2231.5,965.1 2233.5,962.4 2235.5,963.5 2237.5,958.2 2239.5,951.7 2241.5,953.2 2243.5,945.4 2245.5,942.7 2247.5,939.6 2249.5,931.9 2251.5,920.8 2253.5,912.7 2255.5,907.6 2257.5,902 2259.5,909.1 2261.5,899.7 2263.5,895 2265.5,887.8 2267.5,876.2 2269.5,867.9 2271.5,869.2 2273.5,856.9 2275.5,855.5 2277.5,855.4 2279.5,858.2 2281.5,856.2 2283.5,859.4 2285.5,851.6 2287.5,858.8 2289.5,858.1 2291.5,855.4 2293.5,862.5 2295.5,865.1 2297.5,869 2299.5,876.2 2301.5,890.4 2303.5,868.3 2305.5,873.7 2307.5,872.5 2309.5,873.8 2311.5,877 2313.5,879.4 2315.5,881.9 2317.5,888.1 2319.5,894.2 2321.5,892.1 2323.5,892 2325.5,880.2 2327.5,888.4 2329.5,887.3 2331.5,878.4 2333.5,874 2335.5,869.2 2337.5,865.2 2339.5,861 2341.5,849 2343.5,834.2 2345.5,822 2347.5,818.6 2349.5,815.7 2351.5,823.6 2353.5,834.8 2355.5,844.8 2357.5,850.7 2359.5,854 2361.5,860.5 2363.5,858.8 2365.5,852.9 2367.5,857.7 2369.5,858 2371.5,861.1 2373.5,863.2 2375.5,857.3 2377.5,849.6 2379.5,847.1 2381.5,845.2 2383.5,835.7 2385.5,833.8 2387.5,825.3 2389.5,826.2 2391.5,814.7 2393.5,804.5 2395.5,784.2 2397.5,782.5 2399.5,784 2401.5,783.5 2403.5,780.9 2405.5,778.4 2407.5,774.3 2409.5,778.7 2411.5,778.4 2413.5,786.1 2415.5,784.6 2417.5,784.6 2419.5,787.6 2421.5,798.7 2423.5,806.2 2425.5,820.1 2427.5,830.4 2429.5,835.2 2431.5,838.5 2433.5,826.7 2435.5,818.5 2437.5,826.5 2439.5,831.8 2441.5,832.7 2443.5,821.4 2445.5,822.7 2447.5,819.5 2449.5,819.9 2451.5,821.1 2453.5,819.9 2455.5,820.5 2457.5,817.2 2459.5,822.5 2461.5,820.1 2463.5,815.7 2465.5,811.6 2467.5,804.2 2469.5,793.7 2471.5,782 2473.5,777 2475.5,771.4 2477.5,771.6 2479.5,770.3 2481.5,768.8 2483.5,771.9 2485.5,775.4 2487.5,776.7 2489.5,774.5 2491.5,769.6 2493.5,755.2 2495.5,748.7 2497.5,745.6 2499.5,765.6 2501.5,785 2503.5,799.2 2505.5,812.3 2507.5,811.9 2509.5,818.3 2511.5,831.4 2513.5,832.7 2515.5,817.2 2517.5,848 2519.5,852.4 2521.5,859.2 2523.5,858.5 2525.5,846.4 2527.5,833.5 2529.5,827.6 2531.5,820.5 2533.5,817.3 2535.5,812.1 2537.5,808.7 2539.5,795.3 2541.5,777.5 2543.5,761.2 2545.5,750.7 2547.5,739.6 2549.5,729.1 2551.5,732.4 2553.5,739.8 2555.5,744.6 2557.5,746.3 2559.5,750.1 2561.5,748.1 2563.5,745.9 2565.5,739.8 2567.5,735.2 2569.5,731.7 2571.5,725.1 2573.5,718.1 2575.5,717.7 2577.5,712.9 2579.5,704.4 2581.5,700.3 2583.5,694.8 2585.5,688.5 2587.5,682.1 2589.5,675.4 2591.5,670.8 2593.5,659 2595.5,651.9 2597.5,646.3 2599.5,643.8 2601.5,636.8 2603.5,638.4 2605.5,642.2 2607.5,632.4 2609.5,635.3 2611.5,640.8 2613.5,643 2615.5,636.9 2617.5,640.7 2619.5,652.5 2621.5,647.2 2623.5,639.3 2625.5,639 2627.5,639.1 2629.5,636.3 2631.5,635.7 2633.5,649.7 2635.5,640.1 2637.5,643 2639.5,642.5 2641.5,634.6 2643.5,628.2 2645.5,617 2647.5,610.4 2649.5,602.7 2651.5,608.2 2653.5,608 2655.5,606.8 2657.5,602.1 2659.5,593 2661.5,580.2 2663.5,569.8 2665.5,578.2 2667.5,585.3 2669.5,579.5 2671.5,572.3 2673.5,570.1 2675.5,565.9 2677.5,566.4 2679.5,558 2681.5,546.8 2683.5,558.7 2685.5,553.9 2687.5,547.3 2689.5,543.6 2691.5,537.5 2693.5,535 2695.5,530.2 2697.5,531.7 2699.5,527.3 2701.5,541.6 2703.5,541.3 2705.5,537.5 2707.5,528.5 2709.5,530.2 2711.5,536.1 2713.5,549.4 2715.5,558.9 2717.5,569.6 2719.5,571.8 2721.5,566.3 2723.5,567.2 2725.5,572.6 2727.5,573.9 2729.5,570.8 2731.5,563.1 2733.5,564.5 2735.5,569 2737.5,562.7 2739.5,562.9 2741.5,556.3 2743.5,552.7 2745.5,556.4 2747.5,552.5 2749.5,554.6 2751.5,555.3 2753.5,546 2755.5,543.4 2757.5,540.9 2759.5,529 2761.5,518.9 2763.5,514.4 2765.5,503.8 2767.5,497.1 2769.5,490.5 2771.5,485.4 2773.5,486 2775.5,489.2 2777.5,496.7 2779.5,489.6 2781.5,479.1 2783.5,465.3 2785.5,454.5 2787.5,441.3 2789.5,426.8 2791.5,437.1 2793.5,442.7 2795.5,447 2797.5,442.5 2799.5,426.6 2801.5,429.2 2803.5,425 2805.5,426.1 2807.5,413.1 2809.5,397.1 2811.5,381.1 2813.5,378.9 2815.5,374.7 2817.5,354.3 2819.5,341.2 2821.5,350.7 2823.5,366.9 2825.5,377.6 2827.5,378.9 2829.5,375.8 2831.5,372.9 2833.5,408 2835.5,434.8 2837.5,449.5 2839.5,464.7 2841.5,454.8 2843.5,431.9 2845.5,400.7 2847.5,406.1 2849.5,419.1 2851.5,427.8 2853.5,440.9 2855.5,453.5 2857.5,456.2 2859.5,435.1 2861.5,423.9 2863.5,427.5 2865.5,440.2 2867.5,440.6 2869.5,446.5 2871.5,445.2 2873.5,444.2 2875.5,446.7 2877.5,447 2879.5,441.6 2881.5,448.8 2883.5,449.3 2885.5,455.3 2887.5,450 2889.5,434.2 2891.5,426.9 2893.5,429.2 2895.5,435.9 2897.5,450.2 2899.5,452.8 2901.5,457.3 2903.5,457.9 2905.5,465.8 2907.5,472.8 2909.5,493.5 2911.5,501.7 2913.5,506.7 2915.5,505.8 2917.5,494.3 2919.5,479.7 2921.5,475.9 2923.5,460.3 2925.5,461.2 2927.5,467.4 2929.5,471.2 2931.5,480.9 2933.5,487.2 2935.5,491.4 2937.5,494 2939.5,494.5 2941.5,483.5 2943.5,476.4 2945.5,460.8 2947.5,455 2949.5,451.7 2951.5,448.9 2953.5,445.3 2955.5,443.9 2957.5,438.2 2959.5,419.8 2961.5,415.3 2963.5,410 2965.5,419.5 2967.5,427.6 2969.5,437.6 2971.5,448.9 2973.5,456.6 2975.5,454.3 2977.5,439 2979.5,430.3 2981.5,430.7 2983.5,421.1 2985.5,424.4 2987.5,417.7 2989.5,399.6 2991.5,378.7 2993.5,357.3 2995.5,343.4 2997.5,335 2999.5,336.9"/>
<polyline stroke="#A52A2A" points="377,779.9 381.1,808.1 384.5,810.5 387.9,831.9 389.9,822.3 392.6,834.2"/>
<polyline stroke="#A52A2A" points="400.1,837.6 405.9,822.3 409.3,829.1 411.7,817.3 416.1,819 418.5,815.6 422.9,817.3 428,831.9 433.1,810.5 438.8,809.4 447.7,785.6 450.1,791.1 455.2,788.4 459.2,798.6 463.7,802 468.1,800.3 470.5,815.6 473.2,808.8 475.6,812.2 480.6,798.6 485.7,819 490.8,829.1 495.9,847.8 499.3,849.5 502.7,841"/>
<polyline stroke="#A52A2A" points="509.5,835.9 513.6,852.3 519.7,856.3 526.5,856.3 529.9,851.2 533.3,858 536.7,856.3 539.4,862.5 543.5,863.1 546.2,871.6 549.6,877.4 554.4,859.1 557.1,861.4 563.2,889.6 565.6,890.3 570,883.5 574.8,880.1 579.2,876.7 582.6,886.2 585,877.4 589.4,886.2 594.5,891 599.6,893 604.7,893.7 609.8,894.4 611.5,886.9"/>
<polyline stroke="#A52A2A" points="618.3,888.6 621.7,903.9 625.1,897.1 630.2,893.7 635.3,907.3 640.4,927 648.9,927 653,926 655.7,917.5 659.1,934.5 663.2,956.6 667.6,961 670,950.8 674.4,956.6 677.8,960 686.3,961 691.4,946.4 694.8,958.3 701.6,965.1 705,971.9 708.4,970.2 713.5,961.7 716.2,968.5 720.3,964.4"/>
<polyline stroke="#A52A2A" points="727.7,965.1 731.1,995.7 733.2,977 734.5,992.3 737.2,975.3 738.9,991.6 744,993 749.1,1002.5 754.2,1006.6 761,995.7 764.4,1002.5 767.8,999.1 771.9,973.6 776.3,971.2 781.4,975.3 786.5,999.1 790.9,1009.3 796.7,995.7 801.8,995 806.9,1002.5 810.3,1017.8 812.7,1039.9 815.4,1046.7 819.5,1056.9 823.9,1022.9 829,977"/>
<polyline stroke="#A52A2A" points="837.5,1005.9 842.6,1038.2 846.7,1028 851.1,1031.4 854.5,1034.8 858.9,1036.5 863.7,1063 868.1,1060.3 871.5,1043.3 876.6,1056.9 881.7,1053.5 885.1,1038.2 888.5,1053.5 893.6,1060.3 898.7,1065.3 903.8,1056.9 908.9,1063.6 914,1065.3 919.1,1070.4 924.2,1082.3 928.2,1090.8 932.7,1106.1 937.8,1101 941.8,1104.4 946.3,1087.4 951.4,1101 956.5,1104.4 960.9,1092.5 964.9,1107.8 969,1128.2 973.4,1112.9 976.8,1124.8 981.9,1109.5 987,1106.1 992.1,1102.7 997.2,1094.2 1000,1084.1 1005.1,1095.7 1010.3,1098.2 1015.4,1103.4 1020.6,1106 1024.5,1111.1 1027,1121.4 1029.6,1118.8 1032.2,983.7 1034.8,1026.2 1037.3,1013.3 1039.9,979.8 1042.5,1054.5 1045.1,1040.3 1048.9,1041.6"/>
<polyline stroke="#A52A2A" points="1055.4,1055.8 1057.9,1048 1060.5,1068.6 1063.1,1057.1 1066.4,1069.9 1069.5,1058.3 1072.1,1071.2 1076,1073 1079.8,1069.9 1082.4,1051.9 1086.3,1045.5 1090.1,1044.2 1093.2,1041.1 1095.3,1054.5 1099.1,1058.3 1103,1057.1 1106.8,1060.9 1110.7,1069.9 1114.6,1059.6 1118.4,1058.3 1122.3,1075.1 1126.2,1077.7 1128.7,1090.5 1132.6,1098.2 1136.5,1109.8 1139,1103.4 1142.9,1112.4 1145.5,1113.7 1149.3,1100.8 1153.2,1093.1 1155.8,1090.5 1158.3,1081.5"/>
<polyline stroke="#A52A2A" points="1164.8,1098.2 1168.6,1099.5 1171.2,1077.7 1174.6,1078.9 1177.7,1095.7 1181.5,1111.1 1185.4,1120.1 1188,1121.4 1191,1104.7 1194.4,1113.7 1197,1121.4 1200.8,1113.7 1204.7,1108.5 1208.5,1118.8 1213.2,1103.4 1216.3,1120.1 1220.1,1121.4 1224,1135.6 1227.9,1136.9 1230.4,1130.4 1233,1136.9 1236.9,1131.7 1240.7,1129.1 1244.6,1131.7 1248.5,1142 1252.3,1148.5 1256.2,1147.2 1258.8,1151 1262.6,1148.5 1266.5,1147.2 1270.3,1136.9 1272.9,1134.3 1276.8,1113.7 1280.6,1126.6 1283.2,1113.7 1287.1,1106 1290.4,1104.7 1293.5,1118.8 1297.4,1111.1 1301.2,1106 1305.1,1100.8 1309,1106 1312.8,1108.5 1316.7,1104.7 1321.8,1102.1 1327,1099.5 1330.8,1100.8 1334.7,1093.1 1338.6,1100.8 1342.4,1112.4 1346.3,1108.5 1350.2,1120.1 1354,1112.4 1356.6,1120.1 1360.5,1112.4 1364.3,1111.1 1368.2,1097 1372,1099.5 1375.9,1093.1 1379.8,1095.7"/>
<polyline stroke="#A52A2A" points="1382.3,1091.8 1386.2,1085.4 1390.1,1080.2 1393.9,1073.8 1397.8,1077.7 1401.6,1084.1 1405.5,1077.7 1409.4,1076.4 1414.5,1075.1 1419.7,1071.2 1424.8,1064.8 1427.4,1058.3 1430.5,1064.8 1435.1,1057.1 1439,1058.3 1442.8,1060.9 1446.7,1059.6 1450.1,1069.9 1454.4,1071.2 1457,1068.6 1460.9,1046.8 1464.7,1044.2 1468.6,1027.4 1472.5,1024.9 1476.3,1010.7 1479.4,1003 1480,1005.6 1483.9,1006.8 1486.4,1003"/>
<polyline stroke="#A52A2A" points="1491.6,1013.3 1495.4,1010.7 1499.3,1000.4 1503.2,991.4 1507,987.5 1510.9,990.1 1514.8,982.4 1518.6,981.1 1521.2,973.4 1525.1,972.1 1528.9,969.5 1532.8,983.7 1535.4,979.8 1539.2,970.8 1543.1,972.1 1546.9,968.2 1550.8,951.5 1554.2,946.3 1556.7,964.4 1559.8,966.9 1563.7,968.2 1567.5,969.5 1570.6,955.4 1573.2,966.9 1575.8,955.4 1578.4,966.9 1581.7,968.2 1584.3,955.4 1586.8,966.9 1590.7,967.5 1593.3,955.4 1596.4,954.6 1598.4,968.2 1602.3,965.7 1606.2,968.2 1610,967.5 1613.9,968.2 1617.7,970.8 1621.6,976 1625.5,981.1 1629.3,986.3 1633.2,991.4 1637.1,976 1640.9,985 1644.8,996.5 1648.6,1008.1 1652.5,1021 1656.4,1026.2 1660.2,1024.9 1663.3,1015.9 1667.4,1017.1 1671,1028.7 1674.4,1027.4 1677.7,1014.6 1681.3,1023.6 1684.7,1037.7 1688.5,1044.2 1692.4,1039 1696.3,1032.6 1700.1,1044.2 1702.7,1050.6 1706.6,1039"/>
<polyline stroke="#A52A2A" points="1710.4,1054.5 1714.3,1051.9 1718.2,1064.8 1722,1077.7 1725.9,1080.2 1729.7,1093.1 1733.6,1084.1 1737.5,1098.2 1741.3,1091.8 1745.2,1078.9 1749.1,1090.5 1752.9,1095.7 1756.8,1099.5 1760.6,1102.1 1764.5,1097 1768.4,1098.2 1772.2,1104.7 1776.1,1103.4 1778.7,1108.5 1781.8,1099.5 1785.1,1112.4 1787.7,1095.7 1791.5,1075.1 1795.4,1094.4 1798.7,1100.8 1801.8,1090.5 1804.9,1069.9 1807.5,1059.6 1810.8,1069.9 1814.7,1060.9 1818.6,1044.2 1821.9,1036.5 1825.5,1042.9 1828.1,1048 1831.4,1040.3 1835.3,1042.9 1839.2,1050.6 1843,1054.5 1846.9,1039 1850.8,1035.2 1854.6,1040.3 1858.5,1041.6 1862.3,1057.1 1866.2,1044.2 1870.1,1028.7 1873.9,1031.3 1877.8,1032.6 1881.6,1044.2 1885.5,1051.9 1889.4,1059.6 1893.2,1067.4 1897.1,1069.9 1901,1067.4 1903.5,1072.5 1906.9,1059.6 1910,1077.7 1913.8,1091.8 1917.7,1100.8 1921.6,1090.5 1924.1,1082.8"/>
<polyline stroke="#A52A2A" points="1929.3,1091.8 1933.1,1080.2 1937,1071.2 1940.9,1080.2 1944.7,1077.7 1948.6,1080.2 1952.5,1075.1 1956.3,1069.9 1960.2,1071.2 1964,1077.7 1967.9,1075.1 1971.8,1082.8 1974.9,1041.6 1978.2,1044.2 1980,1049.3 1980.6,1076.8 1983.7,1065.2 1987,1070.3 1990.9,1035.6 1994.8,1056.2 1997.3,1061.3 2001.2,1056.2 2005.1,1057.5 2008.9,1044.6 2012.8,1057.5 2016.6,1067.8 2020.5,1072.9 2024.4,1084.5 2027.5,1074.2 2030.8,1076.8 2033.4,1074.2 2037.2,1093.5 2041.1,1106.4 2045,1121.8 2048.8,1128.3 2051.4,1129.6 2054.7,1137.3 2057.8,1127 2061.7,1120.5 2065,1107.7 2068.1,1102.5 2072,1110.2 2075.9,1112.8 2079.7,1107.7 2083.6,1103.8 2087.4,1099.9 2090.8,1089.6 2093.9,1093.5 2097.7,1088.4 2101.6,1084.5 2105.5,1080.6 2109.3,1078.1 2113.2,1075.5 2117.1,1070.3 2120.9,1062.6 2124.8,1054.9 2128.6,1043.3 2132.5,1040.7 2136.4,1035.6 2140.2,1029.1 2144.1,1033 2147.4,1047.2 2150.5,1057.5 2153.6,1058.8 2157,1061.3 2160.3,1045.9 2163.9,1038.2 2167.3,1033 2170.6,1029.1 2174.2,1024 2177.6,1020.1 2181.4,1012.4 2185.3,1011.1 2189.1,1004.7 2193,1013.7 2196.9,1009.8 2200.7,1006 2204.6,1003.4 2208.5,995.7 2212.3,985.4 2216.2,980.2 2220,984.1 2223.9,997 2227.3,981.5 2230.3,976.4 2234.2,969.9 2238.1,968.6 2241.2,959.6 2244.5,950.6 2248.4,948 2252.2,928.7 2256.1,917.1 2259.9,918.4 2263.8,908.1 2267.7,890.1 2271.5,879.8 2275.4,869.5 2279.3,868.2 2283.1,865.7 2285.7,863.1 2289,873.4 2292.1,872.1 2296,882.4 2299.3,886.3 2301.1,908.1 2303.7,882.4 2307.1,888.8 2310.2,883.7 2313.2,895.3 2316.6,899.1 2319.9,905.6 2323,899.1 2325.6,890.1 2328.7,900.4 2332,887.5 2335.4,882.4 2338.5,874.7 2340,873.9 2343.2,852.9 2346.3,829.8 2349.5,828.8 2352.6,836.1 2355.8,857.1 2358.9,863.4 2362.1,876.1 2365.2,861.3 2368.4,867.6 2371.5,870.8 2374.7,872.9 2377.8,861.3 2381,860.3 2384.1,846.6 2387.3,838.2 2390.4,831.9 2393.6,815.1 2395.7,796.2 2398.8,795.2 2402,800.4 2405.1,798.3 2408.3,788.9 2411.4,789.9 2414.6,798.3 2418.8,796.2 2421.9,815.1 2425.1,831.9 2428.2,850.8 2431.4,852.9 2434.5,835.1 2437.7,836.1 2440.8,846.6 2444,830.9 2447.1,828.8 2450.3,829.8 2453.4,834 2456.6,831.9 2459.7,835.1 2462.9,829.8 2466.1,823.5 2469.2,810.9 2472.4,794.1 2475.5,786.8 2478.7,784.7 2481.8,782.6 2485,785.7 2488.1,783.6 2491.3,781.5 2494.4,760.5 2497.6,759.5 2499.7,781.5 2502.8,810.9 2506,827.7 2509.1,829.8 2512.3,857.1 2515.4,834 2517.5,861.3 2520.7,871.8 2522.8,875 2525.9,855 2529.1,840.3 2532.2,834 2535.4,827.7 2538.5,819.3 2541.7,787.8 2544.8,762.6 2548,745.8 2551.1,741.6 2554.3,752.1 2558.5,759.5 2561.6,760.5 2564.8,754.2 2567.9,747.9 2571.1,741.6 2574.2,731.1 2577.4,722.7 2580.5,712.2 2583.7,701.7 2586.8,697.5 2588.9,682.8 2592.1,674.4 2595.3,666 2598.4,655.5 2600,655 2603.2,648.7 2605.9,657.1 2608.4,640.3 2610.9,655 2613.7,657.1 2616.4,644.5 2619.3,667.6 2622.1,657.1 2625.2,649.8 2628.4,652.9 2631.5,646.6 2633.6,657.1 2636.1,644.5 2638.9,648.7 2642,644.5 2645.2,631.9 2648.3,617.2 2650.4,610.9 2653.6,619.3 2656.3,621.4 2659.2,604.6 2662,592 2664.1,579.4 2666.8,600.4 2669.3,594.1 2672.5,583.6 2675.6,579.4 2678.8,575.2 2681.5,560.5 2684,573.1 2687.2,562.6 2690.3,552.1 2693.5,547.9 2696.6,543.7 2699.2,537.4 2701.9,558.4 2705,554.2 2708.2,535.3 2710.9,541.6 2713.4,558.4 2716,575.2 2718.7,586.8 2721.4,579.4 2723.9,583.6 2727.1,585.7 2729.8,586.8 2732.4,573.1 2735.5,581.5 2738.7,573.1 2741.8,562.6 2745,561.6 2748.1,562.6 2750.8,566.8 2753.4,558.4 2756.5,556.3 2759.7,541.6 2762.8,526.9 2766,510.1 2769.1,501.7 2772.3,493.3 2775.4,501.7 2778.2,510.1 2780.7,499.6 2783.8,478.6 2787,459.7 2789.1,436.6 2791.6,455.5 2794.3,459.7 2796.4,466 2799.6,440.8 2802.7,438.7 2805.9,436.6 2808.4,417.6 2811.1,394.5 2814.3,392.4 2817.4,369.3 2820,349.4 2822.3,369.3 2824.8,392.4 2827.9,390.3 2831.1,379.8 2833.2,417.6 2835.3,442.9 2838.4,466 2840.5,474.4 2842.6,451.3 2845.4,413.4 2847.9,413.4 2850,438.7 2853.2,451.3 2855.3,468.1 2858,468.1 2860.5,442.9 2862.6,438.7 2865.1,453.4 2867.9,457.6 2871,459.7 2874.2,461.8 2877.3,466 2880.5,461.8 2883.6,468.1 2886.8,468.1 2889.5,447.1 2892.4,440.8 2895.2,447.1 2897.9,461.8 2900.4,463.9 2903.6,470.2 2906.7,480.7 2908.8,501.7 2912,516.4 2915.1,518.5 2918.3,501.7 2921.4,489.1 2924.6,472.3 2926.7,474.4 2929.8,489.1 2933,497.5 2936.1,503.8 2939.3,504.8 2942.4,495.4 2945.6,476.5 2948.7,461.8 2951.9,460.7 2955,459.7 2957.1,457.6 2960.3,432.4 2963.4,429.2 2966.6,436.6 2969.3,445 2971.8,461.8 2975,466 2978.2,445 2981.3,440.8 2984.5,438.7 2987.6,434.5 2990.8,405 2993.9,371.4 2997.1,350.4 2999.2,349.4"/>
</g>
<rect x="2952.2" y="296.6" width="1.7" height="910.4" fill="#A6CCEC"/>
<line x1="376.5" y1="296.6" x2="376.5" y2="1202.5" stroke="#0072BD" stroke-width="2.2"/>
<line x1="2999.6" y1="296.6" x2="2999.6" y2="1202.5" stroke="#0072BD" stroke-width="2.2"/>
<line x1="375.5" y1="1201.5" x2="2999.6" y2="1201.5" stroke="#262626" stroke-width="2.2"/>
<text x="375" y="1263.4" text-anchor="middle" fill="#262626">0</text>
<text x="921.5" y="1263.4" text-anchor="middle" fill="#262626">5</text>
<text x="1468" y="1263.4" text-anchor="middle" fill="#262626">10</text>
<text x="2014.4" y="1263.4" text-anchor="middle" fill="#262626">15</text>
<text x="2560.9" y="1263.4" text-anchor="middle" fill="#262626">20</text>
<text x="1686" y="1327.3" text-anchor="middle" font-size="44.1" fill="#262626">UTC hours on 20240529</text>
<text x="355.6" y="1148.9" text-anchor="end" fill="#0072BD">0.8</text>
<text x="355.6" y="972.6" text-anchor="end" fill="#0072BD">1</text>
<text x="355.6" y="796.3" text-anchor="end" fill="#0072BD">1.2</text>
<text x="355.6" y="620" text-anchor="end" fill="#0072BD">1.4</text>
<text x="355.6" y="443.7" text-anchor="end" fill="#0072BD">1.6</text>
<text transform="translate(255.5,750.4) rotate(-90)" text-anchor="middle" font-size="44" fill="#0072BD">Precip. Water Vapor, mm</text>
<line x1="2457.7" y1="972.5" x2="2603.6" y2="972.5" stroke="#0000FF" stroke-width="4"/>
<text x="2616.6" y="986.9" font-size="39.4" fill="#000">MWR 2C PWV</text>
<line x1="2457.7" y1="1024.1" x2="2603.6" y2="1024.1" stroke="#ADD8E6" stroke-width="4"/>
<text x="2616.6" y="1038.5" font-size="39.4" fill="#000">MWR 3C PWV</text>
<line x1="2457.7" y1="1075.7" x2="2603.6" y2="1075.7" stroke="#FF8C00" stroke-width="4"/>
<text x="2616.6" y="1090.1" font-size="39.4" fill="#000">PHY-ITER-2C</text>
<line x1="2457.7" y1="1127.3" x2="2603.6" y2="1127.3" stroke="#A52A2A" stroke-width="4"/>
<text x="2616.6" y="1141.7" font-size="39.4" fill="#000">PHY-ITER-3C</text>
<line x1="376.5" y1="2324.3" x2="376.5" y2="2296.3" stroke="#262626" stroke-width="2"/>
<line x1="923" y1="2324.3" x2="923" y2="2296.3" stroke="#262626" stroke-width="2"/>
<line x1="1469.5" y1="2324.3" x2="1469.5" y2="2296.3" stroke="#262626" stroke-width="2"/>
<line x1="2015.9" y1="2324.3" x2="2015.9" y2="2296.3" stroke="#262626" stroke-width="2"/>
<line x1="2562.4" y1="2324.3" x2="2562.4" y2="2296.3" stroke="#262626" stroke-width="2"/>
<line x1="376.5" y1="2275.7" x2="403.5" y2="2275.7" stroke="#0072BD" stroke-width="2"/>
<line x1="376.5" y1="2177.5" x2="403.5" y2="2177.5" stroke="#0072BD" stroke-width="2"/>
<line x1="376.5" y1="2079.3" x2="403.5" y2="2079.3" stroke="#0072BD" stroke-width="2"/>
<line x1="376.5" y1="1981.1" x2="403.5" y2="1981.1" stroke="#0072BD" stroke-width="2"/>
<line x1="376.5" y1="1882.9" x2="403.5" y2="1882.9" stroke="#0072BD" stroke-width="2"/>
<line x1="376.5" y1="1784.7" x2="403.5" y2="1784.7" stroke="#0072BD" stroke-width="2"/>
<line x1="376.5" y1="1686.5" x2="403.5" y2="1686.5" stroke="#0072BD" stroke-width="2"/>
<line x1="376.5" y1="1588.3" x2="403.5" y2="1588.3" stroke="#0072BD" stroke-width="2"/>
<line x1="376.5" y1="1490.1" x2="403.5" y2="1490.1" stroke="#0072BD" stroke-width="2"/>
<g fill="none" stroke-width="4" stroke-linejoin="round">
<polyline stroke="#0000FF" points="836,1636.9 836.9,1647.8 837.7,1659.4 838.6,1598 839.4,1589.3 840.3,1647.8 841.1,1607.1 842,1659.4 842.8,1659.4 843.7,1636.9 844.5,1616.6 845.4,1626.5 846.2,1636.9 847.1,1647.8 847.9,1647.8 848.8,1626.5 849.6,1598 850.5,1636.9 851.3,1671.5 852.2,1636.9 853,1671.5 853.9,1616.6 854.7,1636.9 855.6,1616.6 856.4,1659.4 857.3,1626.5 858.1,1616.6 859,1626.5 859.8,1626.5 860.7,1616.6 861.5,1636.9 862.4,1626.5 863.2,1636.9 864.1,1636.9 864.9,1636.9 865.8,1598 866.6,1616.6 867.5,1598 868.3,1671.5 869.2,1616.6 870,1647.8 870.9,1636.9 871.7,1626.5 872.6,1636.9 873.4,1626.5 874.3,1626.5 875.1,1647.8 876,1607.1 876.8,1647.8 877.7,1607.1 878.5,1598 879.4,1647.8 880.2,1626.5 881.1,1616.6 881.9,1626.5 882.8,1636.9 883.6,1636.9 884.5,1647.8 885.3,1626.5 886.2,1636.9 887,1659.4 887.9,1626.5 888.7,1647.8 889.6,1636.9 890.4,1607.1 891.3,1745.8 892.1,1616.6 893,1616.6 893.8,1636.9 894.7,1636.9 895.5,1607.1 896.4,1671.5 897.2,1647.8 898.1,1659.4 898.9,1671.5 899.8,1659.4 900.6,1636.9 901.5,1626.5 902.3,1671.5 903.2,1647.8 904,1636.9 904.9,1616.6 905.7,1636.9 906.6,1684.5 907.4,1698.2 908.3,1598 909.1,1616.6 910,1626.5 910.8,1647.8 911.7,1671.5 912.5,1684.5 913.4,1659.4 914.2,1659.4 915.1,1659.4 915.9,1659.4 916.8,1647.8 917.6,1659.4 918.5,1626.5 919.3,1659.4 920.2,1607.1 921,1626.5 921.9,1671.5 922.7,1647.8 923.6,1659.4 924.4,1636.9 925.3,1647.8 926.1,1684.5 927,1659.4 927.8,1626.5 928.7,1636.9 929.5,1626.5 930.4,1713 931.2,1659.4 932.1,1659.4 932.9,1647.8 933.8,1647.8 934.6,1659.4 935.5,1671.5 936.3,1659.4 937.2,1671.5 938,1659.4 938.9,1671.5 939.7,1671.5 940.6,1671.5 941.4,1671.5 942.3,1698.2 943.1,1684.5 944,1671.5 944.8,1659.4 945.7,1659.4 946.5,1698.2 947.4,1659.4 948.2,1647.8 949.1,1684.5 949.9,1671.5 950.8,1647.8 951.6,1684.5 952.5,1636.9 953.3,1698.2 954.2,1636.9 955,1684.5 955.9,1647.8 956.7,1659.4 957.6,1671.5 958.4,1647.8 959.3,1636.9 960.1,1671.5 961,1684.5 961.8,1671.5 962.7,1647.8 963.5,1671.5 964.4,1659.4 965.2,1671.5 966.1,1671.5 966.9,1659.4 967.8,1647.8 968.6,1636.9 969.5,1616.6 970.3,1647.8 971.2,1647.8 972,1659.4 972.9,1684.5 973.7,1659.4 974.6,1684.5 975.4,1647.8 976.3,1636.9 977.1,1671.5 978,1698.2 978.8,1626.5 979.7,1659.4 980.5,1636.9 981.4,1684.5 982.2,1684.5 983.1,1671.5 983.9,1659.4 984.8,1713 985.6,1659.4 986.5,1713 987.3,1671.5 988.2,1684.5 989,1684.5 989.9,1698.2 990.7,1698.2 991.6,1684.5 992.4,1671.5 993.3,1684.5 994.1,1684.5 995,1647.8 995.8,1684.5 996.7,1713 997.5,1626.5 998.4,1698.2 999.2,1698.2 1000.1,1647.8 1000.9,1659.4 1001.8,1659.4 1002.6,1647.8 1003.5,1647.8 1004.3,1671.5 1005.2,1684.5 1006,1647.8 1006.9,1659.4 1007.7,1647.8 1008.6,1647.8 1009.4,1659.4 1010.3,1636.9 1011.1,1728.8 1012,1636.9 1012.8,1671.5 1013.7,1684.5 1014.5,1659.4 1015.4,1647.8 1016.2,1616.6 1017.1,1636.9 1017.9,1713 1018.8,1647.8 1019.6,1659.4 1020.5,1659.4 1021.3,1728.8 1022.2,1684.5 1023,1684.5 1023.9,1659.4 1024.7,1647.8 1025.6,1626.5 1026.4,1636.9 1027.3,1684.5 1028.1,1659.4 1029,1671.5 1029.8,1598 1030.7,1671.5 1031.5,1684.5 1032.4,1671.5 1033.2,1698.2 1034.1,1684.5 1034.9,1636.9 1035.8,1616.6 1036.6,1684.5 1037.5,1671.5 1038.3,1671.5 1039.2,1764.4 1040,1713 1040.9,1607.1 1041.7,1698.2 1042.6,1659.4 1043.4,1698.2 1044.3,1659.4 1045.1,1636.9 1046,1647.8 1046.8,1659.4 1047.7,1636.9 1048.5,1698.2 1049.4,1626.5 1050.2,1636.9 1051.1,1647.8 1051.9,1684.5 1052.8,1659.4 1053.6,1647.8 1054.5,1647.8 1055.3,1607.1 1056.2,1684.5 1057,1684.5 1057.9,1684.5 1058.7,1659.4 1059.6,1671.5 1060.4,1647.8 1061.3,1698.2 1062.1,1659.4 1063,1684.5 1063.8,1636.9 1064.7,1684.5 1065.5,1659.4 1066.4,1659.4 1067.2,1671.5 1068.1,1647.8 1068.9,1684.5 1069.8,1659.4 1070.6,1671.5 1071.5,1636.9 1072.3,1713 1073.2,1607.1 1074,1636.9 1074.9,1626.5 1075.7,1684.5 1076.6,1671.5 1077.4,1713 1078.3,1636.9 1079.1,1647.8 1080,1671.5 1080.8,1636.9 1081.7,1647.8 1082.5,1636.9 1083.4,1684.5 1084.2,1636.9 1085.1,1684.5 1085.9,1659.4 1086.8,1671.5 1087.6,1698.2 1088.5,1698.2 1089.3,1698.2 1090.2,1671.5 1091,1671.5 1091.9,1684.5 1092.7,1647.8 1093.6,1659.4 1094.4,1671.5 1095.3,1671.5 1096.1,1684.5 1097,1671.5 1097.8,1671.5 1098.7,1671.5 1099.5,1698.2 1100.4,1698.2 1101.2,1698.2 1102.1,1659.4 1102.9,1647.8 1103.8,1659.4 1104.6,1713 1105.5,1626.5 1106.3,1684.5 1107.2,1659.4 1108,1647.8 1108.9,1659.4 1109.7,1616.6 1110.6,1684.5 1111.4,1636.9 1112.3,1698.2 1113.1,1671.5 1114,1671.5 1114.8,1671.5 1115.7,1671.5 1116.5,1684.5 1117.4,1636.9 1118.2,1698.2 1119.1,1659.4 1119.9,1659.4 1120.8,1684.5 1121.6,1684.5 1122.5,1713 1123.3,1589.3 1124.2,1671.5 1125,1647.8 1125.9,1671.5 1126.7,1636.9 1127.6,1647.8 1128.4,1698.2 1129.3,1671.5 1130.1,1659.4 1131,1698.2 1131.8,1659.4 1132.7,1698.2 1133.5,1728.8 1134.4,1684.5 1135.2,1671.5 1136.1,1713 1136.9,1647.8 1137.8,1698.2 1138.6,1698.2 1139.5,1671.5 1140.3,1647.8 1141.2,1636.9 1142,1684.5 1142.9,1636.9 1143.7,1728.8 1144.6,1671.5 1145.4,1647.8 1146.3,1684.5 1147.1,1684.5 1148,1659.4 1148.8,1616.6 1149.7,1647.8 1150.5,1671.5 1151.4,1728.8 1152.2,1659.4 1153.1,1659.4 1153.9,1684.5 1154.8,1684.5 1155.6,1698.2 1156.5,1647.8 1157.3,1713 1158.2,1684.5 1159,1647.8 1159.9,1684.5 1160.7,1647.8 1161.6,1671.5 1162.4,1671.5 1163.3,1698.2 1164.1,1745.8 1165,1684.5 1165.8,1698.2 1166.7,1647.8 1167.5,1671.5 1168.4,1671.5 1169.2,1671.5 1170.1,1659.4 1170.9,1647.8 1171.8,1698.2 1172.6,1713 1173.5,1684.5 1174.3,1659.4 1175.2,1684.5 1176,1684.5 1176.9,1698.2 1177.7,1659.4 1178.6,1659.4 1179.4,1684.5 1180.3,1659.4 1181.1,1713 1182,1671.5 1182.8,1698.2 1183.7,1671.5 1184.5,1698.2 1185.4,1713 1186.2,1684.5 1187.1,1659.4 1187.9,1698.2 1188.8,1684.5 1189.6,1698.2 1190.5,1713 1191.3,1698.2 1192.2,1659.4 1193,1684.5 1193.9,1713 1194.7,1684.5 1195.6,1713 1196.4,1698.2 1197.3,1728.8 1198.1,1698.2 1199,1713 1199.8,1807.2 1200.7,1684.5 1201.5,1684.5 1202.4,1671.5 1203.2,1684.5 1204.1,1713 1204.9,1698.2 1205.8,1728.8 1206.6,1659.4 1207.5,1728.8 1208.3,1698.2 1209.2,1684.5 1210,1745.8 1210.9,1647.8 1211.7,1713 1212.6,1647.8 1213.4,1684.5 1214.3,1713 1215.1,1784.7 1216,1671.5 1216.8,1713 1217.7,1745.8 1218.5,1698.2 1219.4,1684.5 1220.2,1807.2 1221.1,1659.4 1221.9,1745.8 1222.8,1745.8 1223.6,1713 1224.5,1745.8 1225.3,1659.4 1226.2,1659.4 1227,1728.8 1227.9,1647.8 1228.7,1728.8 1229.6,1659.4 1230.4,1713 1231.3,1745.8 1232.1,1728.8 1233,1728.8 1233.8,1745.8 1234.7,1698.2 1235.5,1698.2 1236.4,1713 1237.2,1713 1238.1,1728.8 1238.9,1698.2 1239.8,1745.8 1240.6,1745.8 1241.5,1684.5 1242.3,1728.8 1243.2,1713 1244,1745.8 1244.9,1745.8 1245.7,1698.2 1246.6,1684.5 1247.4,1713 1248.3,1671.5 1249.1,1698.2 1250,1745.8 1250.8,1698.2 1251.7,1764.4 1252.5,1764.4 1253.4,1728.8 1254.2,1698.2 1255.1,1713 1255.9,1636.9 1256.8,1684.5 1257.6,1728.8 1258.5,1698.2 1259.3,1784.7 1260.2,1698.2 1261,1671.5 1261.9,1713 1262.7,1728.8 1263.6,1728.8 1264.4,1713 1265.3,1764.4 1266.1,1728.8 1267,1764.4 1267.8,1784.7 1268.7,1764.4 1269.5,1764.4 1270.4,1745.8 1271.2,1698.2 1272.1,1698.2 1272.9,1764.4 1273.8,1684.5 1274.6,1698.2 1275.5,1713 1276.3,1745.8 1277.2,1764.4 1278,1671.5 1278.9,1713 1279.7,1671.5 1280.6,1684.5 1281.4,1745.8 1282.3,1684.5 1283.1,1647.8 1284,1698.2 1284.8,1684.5 1285.7,1784.7 1286.5,1713 1287.4,1728.8 1288.2,1728.8 1289.1,1684.5 1289.9,1684.5 1290.8,1698.2 1291.6,1728.8 1292.5,1698.2 1293.3,1745.8 1294.2,1728.8 1295,1698.2 1295.9,1698.2 1296.7,1728.8 1297.6,1671.5 1298.4,1728.8 1299.3,1784.7 1300.1,1728.8 1301,1671.5 1301.8,1728.8 1302.7,1784.7 1303.5,1713 1304.4,1745.8 1305.2,1784.7 1306.1,1647.8 1306.9,1713 1307.8,1713 1308.6,1728.8 1309.5,1684.5 1310.3,1647.8 1311.2,1671.5 1312,1784.7 1312.9,1698.2 1313.7,1728.8 1314.6,1684.5 1315.4,1745.8 1316.3,1671.5 1317.1,1728.8 1318,1745.8 1318.8,1728.8 1319.7,1713 1320.5,1745.8 1321.4,1832.3 1322.2,1728.8 1323.1,1671.5 1323.9,1764.4 1324.8,1659.4 1325.6,1728.8 1326.5,1764.4 1327.3,1728.8 1328.2,1745.8 1329,1659.4 1329.9,1713 1330.7,1647.8 1331.6,1713 1332.4,1671.5 1333.3,1745.8 1334.1,1713 1335,1684.5 1335.8,1832.3 1336.7,1698.2 1337.5,1698.2 1338.4,1698.2 1339.2,1713 1340.1,1713 1340.9,1698.2 1341.8,1684.5 1342.6,1713 1343.5,1659.4 1344.3,1671.5 1345.2,1728.8 1346,1713 1346.9,1671.5 1347.7,1698.2 1348.6,1698.2 1349.4,1713 1350.3,1728.8 1351.1,1728.8 1352,1713 1352.8,1684.5 1353.7,1713 1354.5,1764.4 1355.4,1659.4 1356.2,1671.5 1357.1,1713 1357.9,1698.2 1358.8,1671.5 1359.6,1684.5 1360.5,1684.5 1361.3,1647.8 1362.2,1713 1363,1659.4 1363.9,1671.5 1364.7,1671.5 1365.6,1698.2 1366.4,1659.4 1367.3,1698.2 1368.1,1684.5 1369,1713 1369.8,1684.5 1370.7,1647.8 1371.5,1659.4 1372.4,1745.8 1373.2,1698.2 1374.1,1728.8 1374.9,1698.2 1375.8,1684.5 1376.6,1745.8 1377.5,1698.2 1378.3,1671.5 1379.2,1713 1380,1671.5 1380.9,1684.5 1381.7,1728.8 1382.6,1659.4 1383.4,1698.2 1384.3,1671.5 1385.1,1713 1386,1684.5 1386.8,1636.9 1387.7,1671.5 1388.5,1698.2 1389.4,1659.4 1390.2,1684.5 1391.1,1713 1391.9,1626.5 1392.8,1713 1393.6,1671.5 1394.5,1698.2 1395.3,1728.8 1396.2,1713 1397,1698.2 1397.9,1659.4 1398.7,1698.2 1399.6,1713 1400.4,1671.5 1401.3,1659.4 1402.1,1659.4 1403,1698.2 1403.8,1713 1404.7,1698.2 1405.5,1636.9 1406.4,1698.2 1407.2,1684.5 1408.1,1671.5 1408.9,1659.4 1409.8,1684.5 1410.6,1684.5 1411.5,1684.5 1412.3,1713 1413.2,1659.4 1414,1659.4 1414.9,1745.8 1415.7,1713 1416.6,1698.2 1417.4,1659.4 1418.3,1659.4 1419.1,1698.2 1420,1684.5 1420.8,1698.2 1421.7,1671.5 1422.5,1671.5 1423.4,1698.2 1424.2,1636.9 1425.1,1671.5 1425.9,1671.5 1426.8,1671.5 1427.6,1671.5 1428.5,1698.2 1429.3,1659.4 1430.2,1684.5 1431,1671.5 1431.9,1647.8 1432.7,1684.5 1433.6,1671.5 1434.4,1698.2 1435.3,1745.8 1436.1,1713 1437,1698.2 1437.8,1698.2 1438.7,1684.5 1439.5,1728.8 1440.4,1713 1441.2,1671.5 1442.1,1713 1442.9,1671.5 1443.8,1745.8 1444.6,1713 1445.5,1671.5 1446.3,1671.5 1447.2,1647.8 1448,1671.5 1448.9,1626.5 1449.7,1745.8 1450.6,1728.8 1451.4,1713 1452.3,1671.5 1453.1,1698.2 1454,1636.9 1454.8,1698.2 1455.7,1713 1456.5,1684.5 1457.4,1684.5 1458.2,1684.5 1459.1,1659.4 1459.9,1684.5 1460.8,1698.2 1461.6,1728.8 1462.5,1636.9 1463.3,1684.5 1464.2,1659.4 1465,1698.2 1465.9,1684.5 1466.7,1636.9 1467.6,1713 1468.4,1671.5 1469.3,1698.2 1470.1,1671.5 1471,1728.8 1471.8,1671.5 1472.7,1659.4 1473.5,1684.5 1474.4,1684.5 1475.2,1728.8 1476.1,1684.5 1476.9,1659.4 1477.8,1745.8 1478.6,1684.5 1479.5,1698.2 1480.3,1684.5 1481.2,1684.5 1482,1728.8 1482.9,1713 1483.7,1713 1484.6,1698.2 1485.4,1713 1486.3,1659.4 1487.1,1671.5 1488,1671.5 1488.8,1728.8 1489.7,1698.2 1490.5,1713 1491.4,1684.5 1492.2,1659.4 1493.1,1684.5 1493.9,1713 1494.8,1713 1495.6,1684.5 1496.5,1647.8 1497.3,1671.5 1498.2,1671.5 1499,1713 1499.9,1728.8 1500.7,1671.5 1501.6,1684.5 1502.4,1659.4 1503.3,1713 1504.1,1698.2 1505,1745.8 1505.8,1728.8 1506.7,1713 1507.5,1745.8 1508.4,1671.5 1509.2,1728.8 1510.1,1684.5 1510.9,1647.8 1511.8,1698.2 1512.6,1713 1513.5,1671.5 1514.3,1713 1515.2,1728.8 1516,1698.2 1516.9,1713 1517.7,1745.8 1518.6,1684.5 1519.4,1713 1520.3,1728.8 1521.1,1684.5 1522,1713 1522.8,1659.4 1523.7,1713 1524.5,1636.9 1525.4,1671.5 1526.2,1647.8 1527.1,1698.2 1527.9,1698.2 1528.8,1659.4 1529.6,1698.2 1530.5,1698.2 1531.3,1671.5 1532.2,1636.9 1533,1698.2 1533.9,1659.4 1534.7,1728.8 1535.6,1684.5 1536.4,1684.5 1537.3,1659.4 1538.1,1636.9 1539,1647.8 1539.8,1684.5 1540.7,1698.2 1541.5,1698.2 1542.4,1647.8 1543.2,1636.9 1544.1,1698.2 1544.9,1671.5 1545.8,1647.8 1546.6,1684.5 1547.5,1698.2 1548.3,1671.5 1549.2,1728.8 1550,1647.8 1550.9,1745.8 1551.7,1671.5 1552.6,1684.5 1553.4,1684.5 1554.3,1659.4 1555.1,1659.4 1556,1636.9 1556.8,1684.5 1557.7,1698.2 1558.5,1659.4 1559.4,1713 1560.2,1684.5 1561.1,1713 1561.9,1636.9 1562.8,1659.4 1563.6,1659.4 1564.5,1684.5 1565.3,1671.5 1566.2,1636.9 1567,1636.9 1567.9,1684.5 1568.7,1647.8 1569.6,1684.5 1570.4,1659.4 1571.3,1698.2 1572.1,1671.5 1573,1684.5 1573.8,1684.5 1574.7,1647.8 1575.5,1659.4 1576.4,1647.8 1577.2,1647.8 1578.1,1636.9 1578.9,1671.5 1579.8,1659.4 1580.6,1616.6 1581.5,1671.5 1582.3,1684.5 1583.2,1636.9 1584,1684.5 1584.9,1659.4 1585.7,1698.2 1586.6,1671.5 1587.4,1698.2 1588.3,1684.5 1589.1,1659.4 1590,1713 1590.8,1671.5 1591.7,1698.2 1592.5,1636.9 1593.4,1647.8 1594.2,1659.4 1595.1,1671.5 1595.9,1671.5 1596.8,1684.5 1597.6,1671.5 1598.5,1659.4 1599.3,1713 1600.2,1698.2 1601,1659.4 1601.9,1698.2 1602.7,1684.5 1603.6,1713 1604.4,1807.2 1605.3,1636.9 1606.1,1647.8 1607,1659.4 1607.8,1684.5 1608.7,1684.5 1609.5,1728.8 1610.4,1671.5 1611.2,1659.4 1612.1,1671.5 1612.9,1684.5 1613.8,1671.5 1614.6,1698.2 1615.5,1698.2 1616.3,1684.5 1617.2,1684.5 1618,1698.2 1618.9,1684.5 1619.7,1713 1620.6,1684.5 1621.4,1647.8 1622.3,1671.5 1623.1,1671.5 1624,1684.5 1624.8,1728.8 1625.7,1671.5 1626.5,1728.8 1627.4,1671.5 1628.2,1684.5 1629.1,1745.8 1629.9,1647.8 1630.8,1684.5 1631.6,1659.4 1632.5,1698.2 1633.3,1671.5 1634.2,1684.5 1635,1698.2 1635.9,1671.5 1636.7,1698.2 1637.6,1713 1638.4,1659.4 1639.3,1728.8 1640.1,1713 1641,1659.4 1641.8,1671.5 1642.7,1659.4 1643.5,1713 1644.4,1684.5 1645.2,1807.2 1646.1,1698.2 1646.9,1698.2 1647.8,1684.5 1648.6,1671.5 1649.5,1728.8 1650.3,1659.4 1651.2,1659.4 1652,1698.2 1652.9,1745.8 1653.7,1698.2 1654.6,1745.8 1655.4,1698.2 1656.3,1671.5 1657.1,1698.2 1658,1728.8 1658.8,1684.5 1659.7,1784.7 1660.5,1671.5 1661.4,1698.2 1662.2,1659.4 1663.1,1671.5 1663.9,1713 1664.8,1671.5 1665.6,1764.4 1666.5,1698.2 1667.3,1698.2 1668.2,1698.2 1669,1684.5 1669.9,1713 1670.7,1728.8 1671.6,1659.4 1672.4,1713 1673.3,1698.2 1674.1,1671.5 1675,1684.5 1675.8,1745.8 1676.7,1745.8 1677.5,1698.2 1678.4,1659.4 1679.2,1684.5 1680.1,1659.4 1680.9,1713 1681.8,1728.8 1682.6,1671.5 1683.5,1713 1684.3,1684.5 1685.2,1698.2 1686,1745.8 1686.9,1684.5 1687.7,1698.2 1688.6,1713 1689.4,1659.4 1690.3,1659.4 1691.1,1684.5 1692,1626.5 1692.8,1671.5 1693.7,1728.8 1694.5,1684.5 1695.4,1698.2 1696.2,1698.2 1697.1,1671.5 1697.9,1728.8 1698.8,1745.8 1699.6,1713 1700.5,1745.8 1701.3,1636.9 1702.2,1698.2 1703,1671.5 1703.9,1659.4 1704.7,1713 1705.6,1698.2 1706.4,1671.5 1707.3,1698.2 1708.1,1659.4 1709,1713 1709.8,1659.4 1710.7,1713 1711.5,1698.2 1712.4,1684.5 1713.2,1698.2 1714.1,1647.8 1714.9,1671.5 1715.8,1745.8 1716.6,1671.5 1717.5,1698.2 1718.3,1684.5 1719.2,1713 1720,1671.5 1720.9,1636.9 1721.7,1671.5 1722.6,1647.8 1723.4,1698.2 1724.3,1698.2 1725.1,1684.5 1726,1728.8 1726.8,1728.8 1727.7,1659.4 1728.5,1698.2 1729.4,1659.4 1730.2,1684.5 1731.1,1684.5 1731.9,1647.8 1732.8,1713 1733.6,1698.2 1734.5,1713 1735.3,1713 1736.2,1698.2 1737,1671.5 1737.9,1728.8 1738.7,1684.5 1739.6,1684.5 1740.4,1764.4 1741.3,1728.8 1742.1,1713 1743,1713 1743.8,1659.4 1744.7,1698.2 1745.5,1684.5 1746.4,1728.8 1747.2,1698.2 1748.1,1698.2 1748.9,1728.8 1749.8,1713 1750.6,1764.4 1751.5,1684.5 1752.3,1745.8 1753.2,1659.4 1754,1764.4 1754.9,1698.2 1755.7,1713 1756.6,1698.2 1757.4,1764.4 1758.3,1728.8 1759.1,1745.8 1760,1698.2 1760.8,1764.4 1761.7,1684.5 1762.5,1713 1763.4,1671.5 1764.2,1713 1765.1,1764.4 1765.9,1684.5 1766.8,1764.4 1767.6,1713 1768.5,1713 1769.3,1671.5 1770.2,1764.4 1771,1659.4 1771.9,1671.5 1772.7,1713 1773.6,1671.5 1774.4,1713 1775.3,1671.5 1776.1,1728.8 1777,1698.2 1777.8,1745.8 1778.7,1745.8 1779.5,1745.8 1780.4,1713 1781.2,1698.2 1782.1,1728.8 1782.9,1745.8 1783.8,1684.5 1784.6,1764.4 1785.5,1684.5 1786.3,1713 1787.2,1745.8 1788,1713 1788.9,1684.5 1789.7,1764.4 1790.6,1671.5 1791.4,1728.8 1792.3,1684.5 1793.1,1671.5 1794,1684.5 1794.8,1713 1795.7,1698.2 1796.5,1671.5 1797.4,1671.5 1798.2,1745.8 1799.1,1713 1799.9,1728.8 1800.8,1684.5 1801.6,1698.2 1802.5,1647.8 1803.3,1671.5 1804.2,1713 1805,1698.2 1805.9,1684.5 1806.7,1671.5 1807.6,1659.4 1808.4,1684.5 1809.3,1684.5 1810.1,1684.5 1811,1684.5 1811.8,1684.5 1812.7,1671.5 1813.5,1659.4 1814.4,1684.5 1815.2,1698.2 1816.1,1671.5 1816.9,1684.5 1817.8,1671.5 1818.6,1728.8 1819.5,1684.5 1820.3,1684.5 1821.2,1684.5 1822,1659.4 1822.9,1647.8 1823.7,1671.5 1824.6,1636.9 1825.4,1745.8 1826.3,1659.4 1827.1,1684.5 1828,1684.5 1828.8,1671.5 1829.7,1626.5 1830.5,1659.4 1831.4,1684.5 1832.2,1698.2 1833.1,1671.5 1833.9,1671.5 1834.8,1647.8 1835.6,1713 1836.5,1671.5 1837.3,1626.5 1838.2,1728.8 1839,1671.5 1839.9,1647.8 1840.7,1671.5 1841.6,1671.5 1842.4,1713 1843.3,1698.2 1844.1,1659.4 1845,1698.2 1845.8,1698.2 1846.7,1713 1847.5,1659.4 1848.4,1647.8 1849.2,1684.5 1850.1,1659.4 1850.9,1684.5 1851.8,1626.5 1852.6,1671.5 1853.5,1671.5 1854.3,1626.5 1855.2,1659.4 1856,1671.5 1856.9,1636.9 1857.7,1647.8 1858.6,1698.2 1859.4,1671.5 1860.3,1684.5 1861.1,1684.5 1862,1616.6 1862.8,1659.4 1863.7,1659.4 1864.5,1713 1865.4,1647.8 1866.2,1728.8 1867.1,1647.8 1867.9,1659.4 1868.8,1671.5 1869.6,1671.5 1870.5,1728.8 1871.3,1607.1 1872.2,1626.5 1873,1647.8 1873.9,1636.9 1874.7,1659.4 1875.6,1659.4 1876.4,1684.5 1877.3,1616.6 1878.1,1684.5 1879,1728.8 1879.8,1684.5 1880.7,1698.2 1881.5,1745.8 1882.4,1671.5 1883.2,1713 1884.1,1698.2 1884.9,1647.8 1885.8,1671.5 1886.6,1636.9 1887.5,1636.9 1888.3,1698.2 1889.2,1647.8 1890,1745.8 1890.9,1659.4 1891.7,1698.2 1892.6,1659.4 1893.4,1698.2 1894.3,1659.4 1895.1,1636.9 1896,1698.2 1896.8,1713 1897.7,1647.8 1898.5,1698.2 1899.4,1671.5 1900.2,1647.8 1901.1,1659.4 1901.9,1713 1902.8,1671.5 1903.6,1671.5 1904.5,1636.9 1905.3,1659.4 1906.2,1684.5 1907,1671.5 1907.9,1671.5 1908.7,1659.4 1909.6,1698.2 1910.4,1713 1911.3,1698.2 1912.1,1671.5 1913,1684.5 1913.8,1659.4 1914.7,1698.2 1915.5,1671.5 1916.4,1698.2 1917.2,1698.2 1918.1,1698.2 1918.9,1659.4 1919.8,1659.4 1920.6,1671.5 1921.5,1684.5 1922.3,1728.8 1923.2,1698.2 1924,1684.5 1924.9,1659.4 1925.7,1728.8 1926.6,1698.2 1927.4,1728.8 1928.3,1659.4 1929.1,1636.9 1930,1671.5 1930.8,1684.5 1931.7,1647.8 1932.5,1684.5 1933.4,1698.2 1934.2,1728.8 1935.1,1671.5 1935.9,1745.8 1936.8,1684.5 1937.6,1764.4 1938.5,1698.2 1939.3,1684.5 1940.2,1671.5 1941,1671.5 1941.9,1713 1942.7,1671.5 1943.6,1684.5 1944.4,1684.5 1945.3,1698.2 1946.1,1728.8 1947,1671.5 1947.8,1698.2 1948.7,1698.2 1949.5,1713 1950.4,1728.8 1951.2,1671.5 1952.1,1684.5 1952.9,1713 1953.8,1713 1954.6,1745.8 1955.5,1728.8 1956.3,1698.2 1957.2,1745.8 1958,1713 1958.9,1698.2 1959.7,1684.5 1960.6,1728.8 1961.4,1713 1962.3,1713 1963.1,1728.8 1964,1671.5 1964.8,1698.2 1965.7,1713 1966.5,1671.5 1967.4,1807.2 1968.2,1698.2 1969.1,1745.8 1969.9,1698.2 1970.8,1698.2 1971.6,1684.5 1972.5,1698.2 1973.3,1698.2 1974.2,1728.8 1975,1713 1975.9,1728.8 1976.7,1698.2 1977.6,1698.2 1978.4,1684.5 1979.3,1713 1980.1,1671.5 1981,1713 1981.8,1764.4 1982.7,1807.2 1983.5,1713 1984.4,1713 1985.2,1698.2 1986.1,1671.5 1986.9,1745.8 1987.8,1728.8 1988.6,1728.8 1989.5,1745.8 1990.3,1807.2 1991.2,1745.8 1992,1728.8 1992.9,1713 1993.7,1713 1994.6,1728.8 1995.4,1764.4 1996.3,1728.8 1997.1,1713 1998,1684.5 1998.8,1728.8 1999.7,1764.4 2000.5,1764.4 2001.4,1745.8 2002.2,1745.8 2003.1,1713 2003.9,1745.8 2004.8,1764.4 2005.6,1745.8 2006.5,1698.2 2007.3,1764.4 2008.2,1684.5 2009,1745.8 2009.9,1764.4 2010.7,1728.8 2011.6,1713 2012.4,1728.8 2013.3,1713 2014.1,1671.5 2015,1684.5 2015.8,1698.2 2016.7,1728.8 2017.5,1713 2018.4,1745.8 2019.2,1698.2 2020.1,1745.8 2020.9,1745.8 2021.8,1713 2022.6,1713 2023.5,1698.2 2024.3,1745.8 2025.2,1728.8 2026,1713 2026.9,1745.8 2027.7,1728.8 2028.6,1764.4 2029.4,1784.7 2030.3,1713 2031.1,1745.8 2032,1698.2 2032.8,1698.2 2033.7,1764.4 2034.5,1745.8 2035.4,1745.8 2036.2,1698.2 2037.1,1713 2037.9,1745.8 2038.8,1764.4 2039.6,1713 2040.5,1728.8 2041.3,1807.2 2042.2,1745.8 2043,1832.3 2043.9,1728.8 2044.7,1728.8 2045.6,1745.8 2046.4,1745.8 2047.3,1784.7 2048.1,1728.8 2049,1784.7 2049.8,1698.2 2050.7,1764.4 2051.5,1784.7 2052.4,1764.4 2053.2,1684.5 2054.1,1832.3 2054.9,1728.8 2055.8,1728.8 2056.6,1764.4 2057.5,1745.8 2058.3,1745.8 2059.2,1745.8 2060,1728.8 2060.9,1713 2061.7,1764.4 2062.6,1860.8 2063.4,1745.8 2064.3,1784.7 2065.1,1684.5 2066,1728.8 2066.8,1745.8 2067.7,1832.3 2068.5,1713 2069.4,1698.2 2070.2,1713 2071.1,1764.4 2071.9,1728.8 2072.8,1713 2073.6,1684.5 2074.5,1671.5 2075.3,1713 2076.2,1728.8 2077,1684.5 2077.9,1728.8 2078.7,1671.5 2079.6,1728.8 2080.4,1728.8 2081.3,1728.8 2082.1,1713 2083,1764.4 2083.8,1728.8 2084.7,1698.2 2085.5,1728.8 2086.4,1728.8 2087.2,1698.2 2088.1,1764.4 2088.9,1764.4 2089.8,1764.4 2090.6,1745.8 2091.5,1671.5 2092.3,1764.4 2093.2,1698.2 2094,1671.5 2094.9,1698.2 2095.7,1698.2 2096.6,1698.2 2097.4,1713 2098.3,1713 2099.1,1636.9 2100,1728.8 2100.8,1764.4 2101.7,1698.2 2102.5,1728.8 2103.4,1671.5 2104.2,1671.5 2105.1,1659.4 2105.9,1647.8 2106.8,1713 2107.6,1713 2108.5,1671.5 2109.3,1728.8 2110.2,1671.5 2111,1698.2 2111.9,1713 2112.7,1684.5 2113.6,1671.5 2114.4,1671.5 2115.3,1713 2116.1,1713 2117,1684.5 2117.8,1684.5 2118.7,1698.2 2119.5,1728.8 2120.4,1713 2121.2,1626.5 2122.1,1671.5 2122.9,1684.5 2123.8,1684.5 2124.6,1671.5 2125.5,1659.4 2126.3,1647.8 2127.2,1684.5 2128,1684.5 2128.9,1684.5 2129.7,1684.5 2130.6,1698.2 2131.4,1671.5 2132.3,1684.5 2133.1,1659.4 2134,1636.9 2134.8,1671.5 2135.7,1671.5 2136.5,1647.8 2137.4,1671.5 2138.2,1713 2139.1,1647.8 2139.9,1671.5 2140.8,1698.2 2141.6,1647.8 2142.5,1684.5 2143.3,1659.4 2144.2,1659.4 2145,1698.2 2145.9,1728.8 2146.7,1659.4 2147.6,1698.2 2148.4,1647.8 2149.3,1671.5 2150.1,1671.5 2151,1647.8 2151.8,1684.5 2152.7,1684.5 2153.5,1684.5 2154.4,1671.5 2155.2,1713 2156.1,1647.8 2156.9,1728.8 2157.8,1659.4 2158.6,1671.5 2159.5,1671.5 2160.3,1713 2161.2,1659.4 2162,1698.2 2162.9,1647.8 2163.7,1671.5 2164.6,1698.2 2165.4,1713 2166.3,1647.8 2167.1,1636.9 2168,1671.5 2168.8,1698.2 2169.7,1671.5 2170.5,1684.5 2171.4,1728.8 2172.2,1713 2173.1,1684.5 2173.9,1671.5 2174.8,1684.5 2175.6,1698.2 2176.5,1647.8 2177.3,1636.9 2178.2,1684.5 2179,1698.2 2179.9,1698.2 2180.7,1728.8 2181.6,1745.8 2182.4,1659.4 2183.3,1684.5 2184.1,1713 2185,1671.5 2185.8,1698.2 2186.7,1713 2187.5,1659.4 2188.4,1684.5 2189.2,1698.2 2190.1,1659.4 2190.9,1684.5 2191.8,1647.8 2192.6,1684.5 2193.5,1671.5 2194.3,1671.5 2195.2,1659.4 2196,1659.4 2196.9,1636.9 2197.7,1671.5 2198.6,1636.9 2199.4,1671.5 2200.3,1713 2201.1,1647.8 2202,1684.5 2202.8,1671.5 2203.7,1684.5 2204.5,1684.5 2205.4,1728.8 2206.2,1728.8 2207.1,1671.5 2207.9,1698.2 2208.8,1698.2 2209.6,1671.5 2210.5,1698.2 2211.3,1698.2 2212.2,1713 2213,1713 2213.9,1713 2214.7,1713 2215.6,1698.2 2216.4,1764.4 2217.3,1745.8 2218.1,1698.2 2219,1671.5 2219.8,1684.5 2220.7,1698.2 2221.5,1684.5 2222.4,1698.2 2223.2,1647.8 2224.1,1713 2224.9,1684.5 2225.8,1684.5 2226.6,1684.5 2227.5,1713 2228.3,1698.2 2229.2,1698.2 2230,1728.8 2230.9,1713 2231.7,1684.5 2232.6,1684.5 2233.4,1698.2 2234.3,1698.2 2235.1,1728.8 2236,1684.5 2236.8,1698.2 2237.7,1698.2 2238.5,1671.5 2239.4,1684.5 2240.2,1684.5 2241.1,1745.8 2241.9,1671.5 2242.8,1647.8 2243.6,1698.2 2244.5,1713 2245.3,1698.2 2246.2,1636.9 2247,1745.8 2247.9,1636.9 2248.7,1684.5 2249.6,1671.5 2250.4,1713 2251.3,1713 2252.1,1684.5 2253,1764.4 2253.8,1684.5 2254.7,1698.2 2255.5,1784.7 2256.4,1671.5 2257.2,1713 2258.1,1684.5 2258.9,1698.2 2259.8,1684.5 2260.6,1671.5 2261.5,1684.5 2262.3,1659.4 2263.2,1713 2264,1684.5 2264.9,1647.8 2265.7,1684.5 2266.6,1671.5 2267.4,1698.2 2268.3,1659.4 2269.1,1684.5 2270,1728.8 2270.8,1698.2 2271.7,1671.5 2272.5,1671.5 2273.4,1659.4 2274.2,1671.5 2275.1,1784.7 2275.9,1713 2276.8,1745.8 2277.6,1745.8 2278.5,1728.8 2279.3,1698.2 2280.2,1698.2 2281,1698.2 2281.9,1698.2 2282.7,1671.5 2283.6,1698.2 2284.4,1698.2 2285.3,1698.2 2286.1,1659.4 2287,1728.8 2287.8,1647.8 2288.7,1745.8 2289.5,1713 2290.4,1671.5 2291.2,1698.2 2292.1,1713 2292.9,1684.5 2293.8,1671.5 2294.6,1713 2295.5,1684.5 2296.3,1659.4 2297.2,1698.2 2298,1698.2 2298.9,1684.5 2299.7,1684.5 2300.6,1728.8 2301.4,1745.8 2302.3,1698.2 2303.1,1684.5 2304,1659.4 2304.8,1684.5 2305.7,1698.2 2306.5,1698.2 2307.4,1698.2 2308.2,1684.5 2309.1,1684.5 2309.9,1659.4 2310.8,1698.2 2311.6,1671.5 2312.5,1684.5 2313.3,1684.5 2314.2,1698.2 2315,1671.5 2315.9,1659.4 2316.7,1671.5 2317.6,1713 2318.4,1713 2319.3,1698.2 2320.1,1659.4 2321,1671.5 2321.8,1713 2322.7,1698.2 2323.5,1713 2324.4,1636.9 2325.2,1684.5 2326.1,1684.5 2326.9,1684.5 2327.8,1698.2 2328.6,1684.5 2329.5,1713 2330.3,1671.5 2331.2,1659.4 2332,1671.5 2332.9,1745.8 2333.7,1636.9 2334.6,1728.8 2335.4,1698.2 2336.3,1698.2 2337.1,1659.4 2338,1698.2 2338.8,1671.5 2339.7,1728.8 2340.5,1728.8 2341.4,1745.8 2342.2,1728.8 2343.1,1698.2 2343.9,1671.5 2344.8,1698.2 2345.6,1684.5 2346.5,1659.4 2347.3,1698.2 2348.2,1713 2349,1671.5 2349.9,1698.2 2350.7,1684.5 2351.6,1684.5 2352.4,1713 2353.3,1671.5 2354.1,1671.5 2355,1698.2 2355.8,1713 2356.7,1698.2 2357.5,1713 2358.4,1647.8 2359.2,1713 2360.1,1698.2 2360.9,1671.5 2361.8,1728.8 2362.6,1684.5 2363.5,1728.8 2364.3,1659.4 2365.2,1698.2 2366,1764.4 2366.9,1698.2 2367.7,1684.5 2368.6,1698.2 2369.4,1647.8 2370.3,1684.5 2371.1,1647.8 2372,1713 2372.8,1698.2 2373.7,1671.5 2374.5,1659.4 2375.4,1684.5 2376.2,1698.2 2377.1,1713 2377.9,1684.5 2378.8,1713 2379.6,1671.5 2380.5,1684.5 2381.3,1713 2382.2,1684.5 2383,1647.8 2383.9,1671.5 2384.7,1659.4 2385.6,1698.2 2386.4,1698.2 2387.3,1713 2388.1,1636.9 2389,1698.2 2389.8,1698.2 2390.7,1684.5 2391.5,1728.8 2392.4,1671.5 2393.2,1684.5 2394.1,1684.5 2394.9,1659.4 2395.8,1671.5 2396.6,1684.5 2397.5,1659.4 2398.3,1698.2 2399.2,1684.5 2400,1659.4 2400.9,1684.5 2401.7,1728.8 2402.6,1636.9 2403.4,1713 2404.3,1713 2405.1,1659.4 2406,1684.5 2406.8,1636.9 2407.7,1713 2408.5,1671.5 2409.4,1745.8 2410.2,1698.2 2411.1,1659.4 2411.9,1684.5 2412.8,1659.4 2413.6,1671.5 2414.5,1671.5 2415.3,1671.5 2416.2,1713 2417,1684.5 2417.9,1626.5 2418.7,1671.5 2419.6,1684.5 2420.4,1684.5 2421.3,1684.5 2422.1,1659.4 2423,1713 2423.8,1684.5 2424.7,1659.4 2425.5,1684.5 2426.4,1659.4 2427.2,1607.1 2428.1,1647.8 2428.9,1636.9 2429.8,1698.2 2430.6,1671.5 2431.5,1698.2 2432.3,1671.5 2433.2,1684.5 2434,1684.5 2434.9,1671.5 2435.7,1684.5 2436.6,1728.8 2437.4,1659.4 2438.3,1728.8 2439.1,1698.2 2440,1659.4 2440.8,1684.5 2441.7,1647.8 2442.5,1684.5 2443.4,1659.4 2444.2,1684.5 2445.1,1659.4 2445.9,1659.4 2446.8,1684.5 2447.6,1647.8 2448.5,1659.4 2449.3,1659.4 2450.2,1684.5 2451,1659.4 2451.9,1671.5 2452.7,1659.4 2453.6,1659.4 2454.4,1684.5 2455.3,1647.8 2456.1,1626.5 2457,1713 2457.8,1671.5 2458.7,1671.5 2459.5,1698.2 2460.4,1659.4 2461.2,1626.5 2462.1,1671.5 2462.9,1647.8 2463.8,1636.9 2464.6,1636.9 2465.5,1671.5 2466.3,1671.5 2467.2,1647.8 2468,1671.5 2468.9,1636.9 2469.7,1647.8 2470.6,1647.8 2471.4,1636.9 2472.3,1636.9 2473.1,1671.5 2474,1647.8 2474.8,1671.5 2475.7,1698.2 2476.5,1659.4 2477.4,1684.5 2478.2,1659.4 2479.1,1647.8 2479.9,1659.4 2480.8,1659.4 2481.6,1636.9 2482.5,1659.4 2483.3,1647.8 2484.2,1647.8 2485,1684.5 2485.9,1659.4 2486.7,1671.5 2487.6,1636.9 2488.4,1636.9 2489.3,1659.4 2490.1,1684.5 2491,1616.6 2491.8,1659.4 2492.7,1684.5 2493.5,1647.8 2494.4,1659.4 2495.2,1698.2 2496.1,1684.5 2496.9,1728.8 2497.8,1647.8 2498.6,1728.8 2499.5,1684.5 2500.3,1647.8 2501.2,1671.5 2502,1713 2502.9,1647.8 2503.7,1684.5 2504.6,1626.5 2505.4,1671.5 2506.3,1684.5 2507.1,1728.8 2508,1647.8 2508.8,1684.5 2509.7,1647.8 2510.5,1659.4 2511.4,1713 2512.2,1671.5 2513.1,1684.5 2513.9,1671.5 2514.8,1659.4 2515.6,1659.4 2516.5,1745.8 2517.3,1659.4 2518.2,1698.2 2519,1713 2519.9,1671.5 2520.7,1647.8 2521.6,1636.9 2522.4,1647.8 2523.3,1647.8 2524.1,1684.5 2525,1684.5 2525.8,1728.8 2526.7,1684.5 2527.5,1698.2 2528.4,1728.8 2529.2,1684.5 2530.1,1659.4 2530.9,1684.5 2531.8,1671.5 2532.6,1745.8 2533.5,1647.8 2534.3,1659.4 2535.2,1684.5 2536,1684.5 2536.9,1684.5 2537.7,1684.5 2538.6,1698.2 2539.4,1728.8 2540.3,1659.4 2541.1,1745.8 2542,1764.4 2542.8,1684.5 2543.7,1745.8 2544.5,1713 2545.4,1659.4 2546.2,1671.5 2547.1,1647.8 2547.9,1728.8 2548.8,1684.5 2549.6,1745.8 2550.5,1698.2 2551.3,1698.2 2552.2,1684.5 2553,1671.5 2553.9,1698.2 2554.7,1684.5 2555.6,1713 2556.4,1698.2 2557.3,1713 2558.1,1728.8 2559,1684.5 2559.8,1684.5 2560.7,1671.5 2561.5,1728.8 2562.4,1745.8 2563.2,1698.2 2564.1,1698.2 2564.9,1698.2 2565.8,1728.8 2566.6,1728.8 2567.5,1671.5 2568.3,1698.2 2569.2,1671.5 2570,1684.5 2570.9,1684.5 2571.7,1698.2 2572.6,1745.8 2573.4,1671.5 2574.3,1684.5 2575.1,1684.5 2576,1684.5 2576.8,1698.2 2577.7,1684.5 2578.5,1728.8 2579.4,1671.5 2580.2,1728.8 2581.1,1713 2581.9,1713 2582.8,1713 2583.6,1636.9 2584.5,1684.5 2585.3,1671.5 2586.2,1728.8 2587,1684.5 2587.9,1684.5 2588.7,1698.2 2589.6,1728.8 2590.4,1684.5 2591.3,1713 2592.1,1698.2 2593,1713 2593.8,1698.2 2594.7,1659.4 2595.5,1698.2 2596.4,1713 2597.2,1698.2 2598.1,1728.8 2598.9,1713 2599.8,1713 2600.6,1671.5 2601.5,1671.5 2602.3,1745.8 2603.2,1698.2 2604,1684.5 2604.9,1698.2 2605.7,1698.2 2606.6,1764.4 2607.4,1698.2 2608.3,1684.5 2609.1,1713 2610,1671.5 2610.8,1728.8 2611.7,1728.8 2612.5,1713 2613.4,1713 2614.2,1698.2 2615.1,1659.4 2615.9,1764.4 2616.8,1728.8 2617.6,1698.2 2618.5,1698.2 2619.3,1713 2620.2,1684.5 2621,1713 2621.9,1684.5 2622.7,1764.4 2623.6,1713 2624.4,1698.2 2625.3,1728.8 2626.1,1728.8 2627,1698.2 2627.8,1713 2628.7,1745.8 2629.5,1728.8 2630.4,1713 2631.2,1728.8 2632.1,1698.2 2632.9,1745.8 2633.8,1713 2634.6,1684.5 2635.5,1698.2 2636.3,1832.3 2637.2,1713 2638,1698.2 2638.9,1764.4 2639.7,1745.8 2640.6,1698.2 2641.4,1698.2 2642.3,1698.2 2643.1,1713 2644,1713 2644.8,1713 2645.7,1745.8 2646.5,1713 2647.4,1764.4 2648.2,1713 2649.1,1671.5 2649.9,1684.5 2650.8,1659.4 2651.6,1764.4 2652.5,1671.5 2653.3,1713 2654.2,1713 2655,1713 2655.9,1698.2 2656.7,1713 2657.6,1713 2658.4,1684.5 2659.3,1713 2660.1,1671.5 2661,1698.2 2661.8,1728.8 2662.7,1698.2 2663.5,1698.2 2664.4,1698.2 2665.2,1698.2 2666.1,1713 2666.9,1728.8 2667.8,1698.2 2668.6,1728.8 2669.5,1684.5 2670.3,1713 2671.2,1698.2 2672,1745.8 2672.9,1713 2673.7,1745.8 2674.6,1698.2 2675.4,1713 2676.3,1684.5 2677.1,1647.8 2678,1659.4 2678.8,1684.5 2679.7,1684.5 2680.5,1713 2681.4,1671.5 2682.2,1671.5 2683.1,1671.5 2683.9,1728.8 2684.8,1713 2685.6,1745.8 2686.5,1647.8 2687.3,1659.4 2688.2,1684.5 2689,1671.5 2689.9,1684.5 2690.7,1698.2 2691.6,1671.5 2692.4,1698.2 2693.3,1728.8 2694.1,1684.5 2695,1671.5 2695.8,1671.5 2696.7,1698.2 2697.5,1659.4 2698.4,1698.2 2699.2,1684.5 2700.1,1659.4 2700.9,1659.4 2701.8,1684.5 2702.6,1636.9 2703.5,1684.5 2704.3,1684.5 2705.2,1728.8 2706,1713 2706.9,1636.9 2707.7,1659.4 2708.6,1698.2 2709.4,1728.8 2710.3,1671.5 2711.1,1713 2712,1684.5 2712.8,1698.2 2713.7,1671.5 2714.5,1713 2715.4,1684.5 2716.2,1764.4 2717.1,1684.5 2717.9,1684.5 2718.8,1671.5 2719.6,1698.2 2720.5,1745.8 2721.3,1713 2722.2,1684.5 2723,1728.8 2723.9,1713 2724.7,1728.8 2725.6,1713 2726.4,1659.4 2727.3,1671.5 2728.1,1713 2729,1671.5 2729.8,1647.8 2730.7,1698.2 2731.5,1698.2 2732.4,1684.5 2733.2,1671.5 2734.1,1764.4 2734.9,1713 2735.8,1713 2736.6,1728.8 2737.5,1684.5 2738.3,1713 2739.2,1728.8 2740,1713 2740.9,1684.5 2741.7,1698.2 2742.6,1684.5 2743.4,1671.5 2744.3,1745.8 2745.1,1684.5 2746,1684.5 2746.8,1728.8 2747.7,1713 2748.5,1728.8 2749.4,1698.2 2750.2,1745.8 2751.1,1698.2 2751.9,1671.5 2752.8,1671.5 2753.6,1671.5 2754.5,1728.8 2755.3,1671.5 2756.2,1684.5 2757,1671.5 2757.9,1745.8 2758.7,1698.2 2759.6,1713 2760.4,1659.4 2761.3,1671.5 2762.1,1698.2 2763,1659.4 2763.8,1684.5 2764.7,1713 2765.5,1684.5 2766.4,1671.5 2767.2,1728.8 2768.1,1698.2 2768.9,1684.5 2769.8,1713 2770.6,1698.2 2771.5,1684.5 2772.3,1671.5 2773.2,1784.7 2774,1713 2774.9,1784.7 2775.7,1671.5 2776.6,1684.5 2777.4,1698.2 2778.3,1671.5 2779.1,1728.8 2780,1728.8 2780.8,1698.2 2781.7,1671.5 2782.5,1684.5 2783.4,1684.5 2784.2,1698.2 2785.1,1698.2 2785.9,1728.8 2786.8,1671.5 2787.6,1636.9 2788.5,1671.5 2789.3,1745.8 2790.2,1784.7 2791,1764.4 2791.9,1728.8 2792.7,1745.8 2793.6,1698.2 2794.4,1713 2795.3,1713 2796.1,1728.8 2797,1684.5 2797.8,1713 2798.7,1728.8 2799.5,1728.8 2800.4,1745.8 2801.2,1698.2 2802.1,1659.4 2802.9,1713 2803.8,1713 2804.6,1671.5 2805.5,1698.2 2806.3,1728.8 2807.2,1698.2 2808,1728.8 2808.9,1728.8 2809.7,1713 2810.6,1671.5 2811.4,1713 2812.3,1684.5 2813.1,1745.8 2814,1698.2 2814.8,1698.2 2815.7,1698.2 2816.5,1659.4 2817.4,1728.8 2818.2,1713 2819.1,1713 2819.9,1713 2820.8,1713 2821.6,1698.2 2822.5,1728.8 2823.3,1684.5 2824.2,1745.8 2825,1728.8 2825.9,1684.5 2826.7,1745.8 2827.6,1745.8 2828.4,1698.2 2829.3,1698.2 2830.1,1684.5 2831,1671.5 2831.8,1684.5 2832.7,1713 2833.5,1713 2834.4,1671.5 2835.2,1728.8 2836.1,1713 2836.9,1713 2837.8,1647.8 2838.6,1698.2 2839.5,1745.8 2840.3,1684.5 2841.2,1745.8 2842,1671.5 2842.9,1764.4 2843.7,1713 2844.6,1684.5 2845.4,1684.5 2846.3,1671.5 2847.1,1728.8 2848,1698.2 2848.8,1659.4 2849.7,1713 2850.5,1671.5 2851.4,1807.2 2852.2,1684.5 2853.1,1728.8 2853.9,1893.6 2854.8,1713 2855.6,1764.4 2856.5,1728.8 2857.3,1784.7 2858.2,1713 2859,1728.8 2859.9,1764.4 2860.7,1698.2 2861.6,1764.4 2862.4,1684.5 2863.3,1659.4 2864.1,1671.5 2865,1784.7 2865.8,1728.8 2866.7,1728.8 2867.5,1698.2 2868.4,1832.3 2869.2,1745.8 2870.1,1764.4 2870.9,1784.7 2871.8,1764.4 2872.6,1728.8 2873.5,1764.4 2874.3,1728.8 2875.2,1764.4 2876,1764.4 2876.9,1728.8 2877.7,1728.8 2878.6,1764.4 2879.4,1745.8 2880.3,1764.4 2881.1,1764.4 2882,1807.2 2882.8,1764.4 2883.7,1807.2 2884.5,1807.2 2885.4,1784.7 2886.2,1784.7 2887.1,1764.4 2887.9,1807.2 2888.8,1784.7 2889.6,1745.8 2890.5,1764.4 2891.3,1745.8 2892.2,1713 2893,1745.8 2893.9,1784.7 2894.7,1784.7 2895.6,1764.4 2896.4,1728.8 2897.3,1764.4 2898.1,1684.5 2899,1745.8 2899.8,1764.4 2900.7,1764.4 2901.5,2041.4 2902.4,1832.3 2903.2,1745.8 2904.1,1807.2 2904.9,1832.3 2905.8,1784.7 2906.6,1745.8 2907.5,1807.2 2908.3,1698.2 2909.2,1764.4 2910,1784.7 2910.9,1728.8 2911.7,1764.4 2912.6,1745.8 2913.4,1784.7 2914.3,1784.7 2915.1,1832.3 2916,1784.7 2916.8,1745.8 2917.7,1784.7 2918.5,1745.8 2919.4,1784.7 2920.2,1784.7 2921.1,1745.8 2921.9,1728.8 2922.8,1784.7 2923.6,1745.8 2924.5,1860.8 2925.3,1684.5 2926.2,1713 2927,1728.8 2927.9,1713 2928.7,1832.3 2929.6,1860.8 2930.4,1832.3 2931.3,1980.1 2932.1,1807.2 2933,1784.7 2933.8,1807.2 2934.7,1784.7 2935.5,1807.2 2936.4,1784.7 2937.2,1893.6 2938.1,1745.8 2938.9,1980.1 2939.8,1832.3 2940.6,1807.2 2941.5,1893.6 2942.3,1980.1 2943.2,1932.5 2944,1807.2 2944.9,1860.8 2945.7,1832.3 2946.6,1745.8 2947.4,1980.1 2948.3,2041.4 2949.1,1893.6 2950,1893.6 2950.8,1932.5 2951.7,1832.3 2952.5,1832.3 2953.4,1728.8 2954.2,1832.3 2955.1,1893.6 2955.9,1893.6 2956.8,1893.6 2957.6,1860.8 2958.5,1860.8 2959.3,2041.4 2960.2,1832.3 2961,2127.9 2961.9,1893.6 2962.7,1932.5 2963.6,1932.5 2964.4,1980.1 2965.3,1764.4 2966.1,1932.5 2967,1893.6 2967.8,1893.6 2968.7,1832.3 2969.5,1764.4 2970.4,2127.9 2971.2,1980.1 2972.1,1893.6 2972.9,2041.4 2973.8,1807.2 2974.6,1807.2 2975.5,1860.8 2976.3,1893.6 2977.2,1860.8 2978,1745.8 2978.9,1893.6 2979.7,1980.1 2980.6,1807.2 2981.4,1893.6 2982.3,1784.7 2983.1,1860.8 2984,1980.1 2984.8,1860.8 2985.7,1932.5 2986.5,1784.7 2987.4,1745.8 2988.2,1860.8 2989.1,1893.6 2989.9,1893.6 2990.8,1893.6 2991.6,1832.3 2992.5,1980.1 2993.3,1745.8 2994.2,1932.5 2995,1893.6 2995.9,1893.6 2996.7,1893.6 2997.6,1893.6 2998.4,1932.5"/>
<polyline stroke="#ADD8E6" points="377.4,1860.7 378.1,1841.1 378.7,1827.4 379.4,1932.8 380,1907.9 380.7,1946.6 381.4,1888.5 382,1941.3 382.7,1892.4 383.3,1903.2 384,1955 384.7,1910.7 385.3,1939.3 386,1981.3 386.6,1922.9 387.3,1961 388,1997 388.6,2044.2 389.3,2015.7 389.9,2008.4 390.6,2005 391.3,2005.1 391.9,1998.6 392.6,2017.3 393.2,1970.9 393.9,1899.5 394.6,1882.7 395.2,2017.1 395.9,1937.4 396.5,1943.3 397.2,2005.9 397.9,1962.3 398.5,1946.1 399.2,1887 399.8,1914.3 400.5,2031.8 401.2,1947.8 401.8,1980.5 402.5,1976.1 403.1,2047.5 403.8,1870.6 404.5,2029.9 405.1,1895.6 405.8,1982.2 406.4,1949.9 407.1,1952 407.8,1967.2 408.4,2006.8 409.1,1946.4 409.7,1992.4 410.4,1979.1 411.1,2032.1 411.7,2005.7 412.4,2055.4 413,1995.4 413.7,1990.8 414.4,1971.4 415,1942.7 415.7,1990.1 416.3,1903.4 417,1888.5 417.7,2019 418.3,1864.7 419,1996.4 419.6,1867.9 420.3,2061.7 421,1958.5 421.6,2049.9 422.3,1940.1 422.9,1991 423.6,1911.5 424.3,1869.6 424.9,1879.4 425.6,2039.6 426.2,1861 426.9,1868.5 427.6,1886 428.2,1951.1 428.9,1950.3 429.5,1978.4 430.2,2005.7 430.9,2030.3 431.5,1980.7 432.2,2005.6 432.8,1980.5 433.5,1982.2 434.2,2003 434.8,1929 435.5,1914.9 436.1,1919.1 436.8,1885.5 437.5,1988.1 438.1,1988.6 438.8,1963.7 439.4,1987 440.1,1986.9 440.8,1865 441.4,1939.1 442.1,1919.5 442.7,1865.1 443.4,1804 444.1,1862.6 444.7,1889.5 445.4,1949.5 446,1847.3 446.7,1911.9 447.4,1961.8 448,1964.2 448.7,1958.1 449.3,1959.4 450,1957.6 450.7,1957.3 451.3,1958.9 452,1991.2 452.6,1963.6 453.3,1957.2 454,1935.8 454.6,1951.9 455.3,1824 455.9,1889.1 456.6,1858.3 457.3,1832.9 457.9,1849.5 458.6,1921.7 459.2,1960.8 459.9,1964.2 460.6,1930.1 461.2,2046.2 461.9,1912.4 462.5,1943.1 463.2,1830.9 463.9,1906.1 464.5,1870.3 465.2,1927.6 465.8,1903.8 466.5,1922.9 467.2,1935.5 467.8,1915.5 468.5,1931.9 469.1,1975.3 469.8,1884.8 470.5,1891 471.1,1980.9 471.8,1946.8 472.4,1970.5 473.1,1983.5 473.8,1955.2 474.4,1987.2 475.1,1928.3 475.7,1962.2 476.4,1882.5 477.1,1842.1 477.7,1824.8 478.4,1938.6 479,1961.1 479.7,1955.8 480.4,1886 481,1959.2 481.7,2134.5 482.3,2193.7 483,1968.9 483.7,2034.3 484.3,2003 485,2029.7 485.6,1916.4 486.3,1991.5 487,1997.6 487.6,1982.1 488.3,2004.1 488.9,2036.9 489.6,2008.7 490.3,2035.3 490.9,1979.6 491.6,1989.6 492.2,1938.6 492.9,2119.2 493.6,1964.3 494.2,1991.1 494.9,1961.3 495.5,2082.9 496.2,2027.4 496.9,2182.1 497.5,2020.8 498.2,2028 498.8,1980.3 499.5,2266.6 500.2,1982 500.8,2053.7 501.5,1988.1 502.1,2207.3 502.8,2092.3 503.5,2275.7 504.1,2087.5 504.8,2275.7 505.4,2066.2 506.1,2097.5 506.8,2275.7 507.4,2275.7 508.1,2275.7 508.7,2275.7 509.4,2037.1 510.1,2275.7 510.7,2275.7 511.4,2275.7 512,2275.7 512.7,2011.5 513.4,2275.7 514,2275.7 514.7,2275.7 515.3,2144.4 516,2275.7 516.7,2275.7 517.3,2275.7 518,2275.7 518.6,2275.7 519.3,2143.8 520,2047.8 520.6,2033.7 521.3,2275.7 521.9,2143.3 522.6,2173.5 523.3,2275.7 523.9,2008.6 524.6,2017.6 525.2,2275.7 525.9,2050.6 526.6,1966.2 527.2,1987.5 527.9,1956.5 528.5,2275.7 529.2,2275.7 529.9,2275.7 530.5,2022.1 531.2,2082.7 531.8,2066 532.5,2216.8 533.2,1989 533.8,2040.5 534.5,2184.2 535.1,2275.7 535.8,2143.3 536.5,2144 537.1,1934.3 537.8,2116.5 538.4,2030.2 539.1,2055.3 539.8,2275.7 540.4,2131 541.1,2113.9 541.7,2275.7 542.4,2136.6 543.1,2023.5 543.7,2143.2 544.4,2067.8 545,2173.8 545.7,2152.4 546.4,2275.7 547,2057.8 547.7,1989.7 548.3,2275.7 549,2275.7 549.7,2275.7 550.3,2066.5 551,2158.2 551.6,2047.3 552.3,2275.7 553,1962.9 553.6,2275.7 554.3,2039.6 554.9,2275.7 555.6,2275.7 556.3,2275.7 556.9,1992.6 557.6,2168.7 558.2,2021 558.9,2275.7 559.6,2123.9 560.2,2275.7 560.9,2275.7 561.5,2275.7 562.2,2275.7 562.9,2275.7 563.5,2123.5 564.2,2275.7 564.8,1964.9 565.5,2036.1 566.2,2026.9 566.8,2088.4 567.5,2215.3 568.1,2130.1 568.8,2275.7 569.5,2208.4 570.1,2183.3 570.8,2275.7 571.4,2020.6 572.1,2130.2 572.8,2122.4 573.4,2275.7 574.1,2275.7 574.7,1951.1 575.4,2132.8 576.1,1972.9 576.7,2275.7 577.4,2275.7 578,2275.7 578.7,2138.3 579.4,2064.8 580,2114.3 580.7,2275.7 581.3,2275.7 582,2153.6 582.7,2191.1 583.3,2076.5 584,2275.7 584.6,2275.7 585.3,2083.7 586,2016.2 586.6,2275.7 587.3,2020.8 587.9,2073.9 588.6,2275.7 589.3,1974.4 589.9,2005 590.6,2275.7 591.2,2172.4 591.9,2030.1 592.6,2038.4 593.2,2038.3 593.9,2275.7 594.5,2275.7 595.2,1996.5 595.9,2275.7 596.5,2149.9 597.2,2275.7 597.8,2198.2 598.5,2275.7 599.2,2164.8 599.8,2275.7 600.5,2111.3 601.1,2092 601.8,2275.7 602.5,2151.3 603.1,2275.7 603.8,2210.9 604.4,2064.5 605.1,2155.4 605.8,2275.7 606.4,2275.7 607.1,2134.5 607.7,2170.2 608.4,2067.8 609.1,2172.6 609.7,2148.7 610.4,2275.7 611,2275.7 611.7,1979.4 612.4,2275.7 613,2102.9 613.7,2275.7 614.3,2275.7 615,2275.7 615.7,2275.7 616.3,2099.2 617,2024.8 617.6,1963.3 618.3,2275.7 619,1979.6 619.6,2205.6 620.3,2275.7 620.9,2275.7 621.6,2275.7 622.3,2123.2 622.9,2192.3 623.6,2275.7 624.2,2063.3 624.9,2275.7 625.6,2275.7 626.2,2275.7 626.9,2124.2 627.5,2202 628.2,2037.5 628.9,2275.7 629.5,2199.2 630.2,2142 630.8,2275.7 631.5,2155.5 632.2,2275.7 632.8,2275.7 633.5,2275.7 634.1,2067.1 634.8,2094.9 635.5,2275.7 636.1,2082.1 636.8,2275.7 637.4,2169.9 638.1,2125.9 638.8,2174.1 639.4,2058.9 640.1,2044 640.7,2275.7 641.4,2101.6 642.1,2275.7 642.7,2275.7 643.4,2275.7 644,2275.7 644.7,1947.4 645.4,2275.7 646,2275.7 646.7,2115.5 647.3,2275.7 648,2130.7 648.7,2059.2 649.3,1983 650,2174.2 650.6,2150.8 651.3,2150.3 652,2275.7 652.6,2275.7 653.3,2057.8 653.9,2275.7 654.6,2036 655.3,2140.1 655.9,2076.3 656.6,2189.7 657.2,2037.2 657.9,2275.7 658.6,2275.7 659.2,2191.6 659.9,2125.1 660.5,2135.7 661.2,2275.7 661.9,2051.6 662.5,2177.5 663.2,2275.7 663.8,2275.7 664.5,2275.7 665.2,2081.6 665.8,2275.7 666.5,2117.6 667.1,2275.7 667.8,2154.6 668.5,2275.7 669.1,2275.7 669.8,2091.9 670.4,2275.7 671.1,2047.2 671.8,2275.7 672.4,2275.7 673.1,2275.7 673.7,2131.1 674.4,2275.7 675.1,2185.6 675.7,2275.7 676.4,2010.4 677,2032.6 677.7,2048.1 678.4,2275.7 679,2142 679.7,2275.7 680.3,2275.7 681,2275.7 681.7,2175.3 682.3,2275.7 683,2107.3 683.6,2275.7 684.3,2197.4 685,2043 685.6,2208.5 686.3,2134.3 686.9,2097.5 687.6,2183.1 688.3,2163.2 688.9,2038.6 689.6,2275.7 690.2,2125.8 690.9,2275.7 691.6,2155.6 692.2,2275.7 692.9,2132.4 693.5,2223.7 694.2,2216.2 694.9,2117.2 695.5,2178.1 696.2,2086.8 696.8,2095.1 697.5,2275.7 698.2,2118.8 698.8,2195.1 699.5,2118.4 700.1,2204 700.8,2275.7 701.5,2275.7 702.1,2158.2 702.8,2217.6 703.4,2197 704.1,2072.1 704.8,2209.7 705.4,2170.9 706.1,2210.3 706.7,2087 707.4,2275.7 708.1,2087.9 708.7,2078.4 709.4,2204.3 710,2172.9 710.7,2137.7 711.4,1992.3 712,2130.3 712.7,2010.6 713.3,1974.8 714,1995.1 714.7,2038.7 715.3,1916 716,1897.5 716.6,2008.6 717.3,1911.9 718,1923.2 718.6,2013.6 719.3,1936.6 719.9,1903.3 720.6,2042.3 721.3,1988.4 721.9,1901 722.6,1965.6 723.2,1968.1 723.9,2034.1 724.6,1845.1 725.2,2038 725.9,2064.8 726.5,2011.1 727.2,1980.4 727.9,2071.8 728.5,1996.8 729.2,1989.9 729.8,1975 730.5,2215.5 731.2,1926.2 731.8,2023.6 732.5,1912.7 733.1,1936.6 733.8,1912.9 734.5,2016.8 735.1,1852.6 735.8,1865.6 736.4,1922.6 737.1,2100 737.8,1899.6 738.4,1980.4 739.1,2054.7 739.7,2059.5 740.4,1926.6 741.1,2012.8 741.7,1922.1 742.4,2105.7 743,2038.9 743.7,2060.4 744.4,1963.4 745,1980.5 745.7,1927.9 746.3,2092.2 747,1968.5 747.7,2107.6 748.3,1983.5 749,1927.5 749.6,1893.5 750.3,2017.1 751,1887.5 751.6,1918.4 752.3,2010.4 752.9,2014.3 753.6,2042.1 754.3,2065 754.9,2071.6 755.6,2234.8 756.2,1989.7 756.9,1989.8 757.6,1994.7 758.2,2057.8 758.9,2024.7 759.5,1958.1 760.2,2052.4 760.9,1896.9 761.5,2027 762.2,1992.6 762.8,1990.7 763.5,1963 764.2,2012.7 764.8,2106 765.5,2023.6 766.1,2052.5 766.8,1870.7 767.5,1939.9 768.1,1951.4 768.8,1930.5 769.4,1985.7 770.1,1874.7 770.8,2002.9 771.4,1887.4 772.1,1883.4 772.7,2101.6 773.4,2006.9 774.1,1971 774.7,1951.9 775.4,2078.6 776,1884.7 776.7,1993 777.4,1972.7 778,2018.7 778.7,2000.4 779.3,2043.5 780,2028.4 780.7,2055.2 781.3,2049.7 782,1981.2 782.6,1933.8 783.3,2099.1 784,2245.9 784.6,1958.1 785.3,1889.5 785.9,1968.6 786.6,1882.3 787.3,2014.9 787.9,1916.7 788.6,2039.8 789.2,1987.3 789.9,2092.9 790.6,1979.2 791.2,2031 791.9,2027.1 792.5,2049 793.2,2056.2 793.9,1957.1 794.5,1932.2 795.2,1936.3 795.8,1926.9 796.5,2041.1 797.2,1954 797.8,1960.5 798.5,1957.8 799.1,2072.5 799.8,1962.1 800.5,2071.9 801.1,2011 801.8,2080.7 802.4,2039.8 803.1,2078.8 803.8,1981.6 804.4,2099.1 805.1,1941.2 805.7,2046.6 806.4,1946.8 807.1,1942.9 807.7,1974.5 808.4,2173.9 809,2144.8 809.7,2011.1 810.4,1946 811,2275.7 811.7,2275.7 812.3,2111.7 813,2066.7 813.7,2093.6 814.3,2179.4 815,2123.7 815.6,2042.1 816.3,2072.2 817,2275.7 817.6,1999.3 818.3,2010.1 818.9,1988.3 819.6,2031.5 820.3,2101 820.9,2169.2 821.6,1983.7 822.2,2275.7 822.9,2095.3 823.6,2033 824.2,2031.3 824.9,1954.6 825.5,1927.1 826.2,1921.3 826.9,1948.6 827.5,1894.3 828.2,1862.6 828.8,1837.1 829.5,1927.9 830.2,1981.1 830.8,1909.5 831.5,1882.9 832.1,1978.2 832.8,1906.9 833.5,1976.4 834.1,1900.9 834.8,1997.7 835.4,1886 836.1,1945.8 836.8,1956.7 837.4,2022.3 838.1,2019.8 838.7,2032.1 839.4,1983.3 840.1,2038.8 840.7,2001.4 841.4,2019.4 842,1977.6 842.7,2008.9 843.4,1988.4 844,1993 844.7,1953.6 845.3,1980.1 846,2004.4 846.7,1989.5 847.3,1921.8 848,2084.9 848.6,1905.4 849.3,2016.2 850,2003.5 850.6,1974.3 851.3,2042.1 851.9,2077.2 852.6,2012.1 853.3,2051.5 853.9,2273.6 854.6,1876 855.2,1897.1 855.9,2045.4 856.6,1957.7 857.2,2044.3 857.9,2000.7 858.5,1895.4 859.2,1990 859.9,1935.9 860.5,2032.6 861.2,1955.4 861.8,1982.1 862.5,1895.4 863.2,1941.9 863.8,2061 864.5,1880.2 865.1,2048.9 865.8,1912.2 866.5,2138 867.1,1961.6 867.8,1959 868.4,1943.9 869.1,1939.8 869.8,1975.3 870.4,2098.9 871.1,1957.5 871.7,2001.4 872.4,1931.6 873.1,1897.6 873.7,1975.3 874.4,2023.3 875,1905.3 875.7,1969.3 876.4,1886.9 877,1996.7 877.7,1999.4 878.3,1932.2 879,2015.1 879.7,2007.6 880.3,1992.9 881,2019.2 881.6,1889.6 882.3,1974.5 883,1892.5 883.6,2002.5 884.3,1951.3 884.9,2197.1 885.6,2086.2 886.3,1993.3 886.9,2092.4 887.6,2041.1 888.2,2082.7 888.9,2029.6 889.6,2062.6 890.2,2275.7 890.9,2275.7 891.5,2010 892.2,1996.7 892.9,1933.6 893.5,2009.8 894.2,2115.3 894.8,2113.7 895.5,2005.5 896.2,2192.7 896.8,2275.7 897.5,1993.2 898.1,1922.6 898.8,2202.6 899.5,2055.2 900.1,1935.4 900.8,2275.7 901.4,1991.6 902.1,2275.7 902.8,2208.3 903.4,2157.7 904.1,2161.6 904.7,2275.7 905.4,1995 906.1,2015.3 906.7,2191.9 907.4,2002.3 908,2275.7 908.7,1999.3 909.4,2078.8 910,2139.2 910.7,2275.7 911.3,2200.5 912,2275.7 912.7,2092.4 913.3,2143.3 914,2275.7 914.6,2096.4 915.3,2054 916,2181.9 916.6,2138.3 917.3,2087.5 917.9,2134 918.6,2033.2 919.3,2091.7 919.9,2179.6 920.6,2003.1 921.2,2129.7 921.9,1988.7 922.6,2047.9 923.2,2079 923.9,2074.1 924.5,2016.7 925.2,1955.9 925.9,2211.1 926.5,2075.3 927.2,2008.2 927.8,2212.8 928.5,2048.7 929.2,2084.1 929.8,2031.1 930.5,2031.6 931.1,2275.7 931.8,2037.3 932.5,2125.8 933.1,1910.6 933.8,1990 934.4,2081.6 935.1,2125.2 935.8,1976.4 936.4,2166.3 937.1,1960.9 937.7,2005.5 938.4,1951 939.1,2042.5 939.7,2127.4 940.4,2140 941,2121.8 941.7,2080 942.4,2275.7 943,1983.7 943.7,2161.8 944.3,1987.3 945,2032.7 945.7,2275.7 946.3,2195.7 947,1948.2 947.6,2000.3 948.3,2035.1 949,2002.4 949.6,2017.3 950.3,2275.7 950.9,2132.1 951.6,2275.7 952.3,2065 952.9,2073.1 953.6,2275.7 954.2,2052.8 954.9,2173.8 955.6,2142.5 956.2,2055.5 956.9,2049.6 957.5,2086.4 958.2,1977.4 958.9,2275.7 959.5,2143 960.2,2003.4 960.8,2275.7 961.5,2026.6 962.2,2055.2 962.8,2199.7 963.5,2019.4 964.1,2005.5 964.8,2024.9 965.5,2150.1 966.1,2275.7 966.8,2052.4 967.4,2123.5 968.1,2275.7 968.8,1983.3 969.4,2201.7 970.1,2119.5 970.7,1971.7 971.4,2124.6 972.1,2165.2 972.7,2008.4 973.4,2074.9 974,1991.4 974.7,2032.2 975.4,2275.7 976,2009 976.7,2129.3 977.3,2084.7 978,2153.2 978.7,2019.3 979.3,2167.6 980,2130 980.6,2178.4 981.3,2171.1 982,2006.4 982.6,2009.5 983.3,2089.6 983.9,2048.1 984.6,1876.8 985.3,2147.2 985.9,2275.7 986.6,1951 987.2,2275.7 987.9,1943.4 988.6,2275.7 989.2,1967 989.9,2126.6 990.5,1917.5 991.2,1995.4 991.9,2146.8 992.5,2026.2 993.2,2275.7 993.8,2061.3 994.5,2145 995.2,2072.7 995.8,2034.7 996.5,2275.7 997.1,2011.1 997.8,2275.7 998.5,2009.8 999.1,1959.6 999.8,2275.7 1000.4,1976.5 1001.1,1975 1001.8,2145.6 1002.4,2108.2 1003.1,2070.3 1003.7,2208.8 1004.4,2082.9 1005.1,2161.9 1005.7,1931.4 1006.4,2079.1 1007,2057.4 1007.7,2183.1 1008.4,1906.7 1009,2057.1 1009.7,2275.7 1010.3,1937.8 1011,2275.7 1011.7,2103.6 1012.3,2275.7 1013,1991.2 1013.6,2203.4 1014.3,2060.3 1015,2275.7 1015.6,2020.5 1016.3,2275.7 1016.9,2109.5 1017.6,2275.7 1018.3,2086.6 1018.9,2017.4 1019.6,2148.1 1020.2,1981.5 1020.9,1974.2 1021.6,2073.1 1022.2,1982.8 1022.9,2093.7 1023.5,1997.5 1024.2,2139.8 1024.9,2096.1 1025.5,1998.5 1026.2,1964.4 1026.8,2183.6 1027.5,1918.3 1028.2,2111.6 1028.8,2275.7 1029.5,2275.7 1030.1,1774.6 1030.8,1776.3 1031.5,1713.9 1032.1,1817.5 1032.8,1719.4 1033.4,1794.4 1034.1,1718.4 1034.8,1724.8 1035.4,1766 1036.1,1758.8 1036.7,1825.3 1037.4,1833.6 1038.1,1830 1038.7,1635.4 1039.4,1767.3 1040,1706.8 1040.7,1749 1041.4,1688.6 1042,1858.5 1042.7,1726.4 1043.3,1901.1 1044,1828.5 1044.7,1788.5 1045.3,1685.4 1046,1805.7 1046.6,1796.1 1047.3,1864.5 1048,1800.1 1048.6,1818.3 1049.3,1707.8 1049.9,1755.6 1050.6,1803 1051.3,1866.2 1051.9,1868.9 1052.6,1889.1 1053.2,1890 1053.9,1897.5 1054.6,1877.1 1055.2,1881.9 1055.9,1855.7 1056.5,1864.6 1057.2,1769 1057.9,1803.3 1058.5,1827.7 1059.2,1808.2 1059.8,1800.7 1060.5,1806.8 1061.2,1879.7 1061.8,1985 1062.5,1841.5 1063.1,1753.9 1063.8,1785.1 1064.5,1804.5 1065.1,1840.3 1065.8,1863.3 1066.4,1828.5 1067.1,1848.9 1067.8,1791.2 1068.4,1768.7 1069.1,1787.7 1069.7,1858 1070.4,1800.3 1071.1,1903.3 1071.7,1773.4 1072.4,1779.9 1073,1789.1 1073.7,2259.5 1074.4,1811.8 1075,1767.7 1075.7,1804.9 1076.3,1850.6 1077,1826.4 1077.7,1870.9 1078.3,1783.7 1079,1914.6 1079.6,1930 1080.3,1933.3 1081,1912.7 1081.6,1884.9 1082.3,1851.7 1082.9,1926.2 1083.6,1823.8 1084.3,1887 1084.9,1880.6 1085.6,1829.7 1086.2,1872.4 1086.9,1827.6 1087.6,1863.4 1088.2,1913.2 1088.9,1856.9 1089.5,1938.6 1090.2,1934.9 1090.9,1937.4 1091.5,1910.9 1092.2,1891.1 1092.8,1846.3 1093.5,1941.2 1094.2,1863.4 1094.8,1903.5 1095.5,1883.6 1096.1,1898.1 1096.8,1811.6 1097.5,1854.4 1098.1,1853 1098.8,1868.6 1099.4,1854.3 1100.1,1884.4 1100.8,1878.9 1101.4,2022.7 1102.1,1795.6 1102.7,1915.6 1103.4,1854.3 1104.1,1936.1 1104.7,1930.4 1105.4,1942.2 1106,1943.4 1106.7,1888.1 1107.4,1894.5 1108,1944 1108.7,1887 1109.3,1835.5 1110,1791.3 1110.7,1845.2 1111.3,1900.5 1112,1928.6 1112.6,1903.9 1113.3,1920 1114,1917.1 1114.6,1927.8 1115.3,1783.2 1115.9,1898.3 1116.6,1827 1117.3,1878.5 1117.9,1813.3 1118.6,1843.1 1119.2,1881.9 1119.9,1890.1 1120.6,1825.3 1121.2,1905 1121.9,1857.8 1122.5,1926.3 1123.2,1820 1123.9,1864.8 1124.5,1835.5 1125.2,1889.7 1125.8,1998.8 1126.5,1894.4 1127.2,1889.5 1127.8,2028 1128.5,1876.5 1129.1,1912.4 1129.8,1886.9 1130.5,2059.7 1131.1,1922.9 1131.8,1988.2 1132.4,1996.6 1133.1,1994.4 1133.8,1887.5 1134.4,2083.5 1135.1,2000.1 1135.7,1935.2 1136.4,1923.2 1137.1,1959.4 1137.7,1943.7 1138.4,2048.7 1139,1954.9 1139.7,2016.6 1140.4,1979.6 1141,1905.9 1141.7,1910.6 1142.3,1918.1 1143,1876.9 1143.7,1924.2 1144.3,1865.2 1145,2015.9 1145.6,1860.9 1146.3,1916.8 1147,2026.9 1147.6,2136.9 1148.3,1997.7 1148.9,2073.4 1149.6,2005.3 1150.3,2108.8 1150.9,2005.6 1151.6,2050.8 1152.2,1996.2 1152.9,2159.8 1153.6,1994.8 1154.2,2135 1154.9,1944.7 1155.5,2056.2 1156.2,2034.1 1156.9,1970.5 1157.5,1961.9 1158.2,2037.6 1158.8,2043.1 1159.5,2124.5 1160.2,1956.2 1160.8,1977.1 1161.5,2029.5 1162.1,2001.7 1162.8,1987.1 1163.5,2060.2 1164.1,1923.5 1164.8,2156.1 1165.4,2057.5 1166.1,2046.2 1166.8,2061.1 1167.4,2109.8 1168.1,1931.5 1168.7,2097.5 1169.4,1961.5 1170.1,2060.9 1170.7,2024.3 1171.4,2099.2 1172,2035.2 1172.7,2035.6 1173.4,2063.7 1174,1961.8 1174.7,2030.8 1175.3,1978.9 1176,1953.8 1176.7,1963.2 1177.3,1970.7 1178,2150.2 1178.6,2010.3 1179.3,2028.6 1180,1964.8 1180.6,2081.8 1181.3,1969.7 1181.9,2231.1 1182.6,2047.6 1183.3,2021.1 1183.9,2006.9 1184.6,2067.7 1185.2,1964 1185.9,2247.1 1186.6,2027.5 1187.2,1967.2 1187.9,2023.1 1188.5,2191.8 1189.2,2096.5 1189.9,2132 1190.5,2053.4 1191.2,2275.7 1191.8,2017.5 1192.5,2275.7 1193.2,2182.8 1193.8,2275.7 1194.5,2275.7 1195.1,2275.7 1195.8,2197.8 1196.5,2045.1 1197.1,2031.4 1197.8,1998.2 1198.4,2275.7 1199.1,2142.4 1199.8,2198.4 1200.4,2174.6 1201.1,2275.7 1201.7,2216.3 1202.4,2160.6 1203.1,2221 1203.7,2063.8 1204.4,2275.7 1205,2054.6 1205.7,2275.7 1206.4,2154.4 1207,2054 1207.7,2275.7 1208.3,2128.4 1209,2275.7 1209.7,2275.7 1210.3,2107.6 1211,2107.5 1211.6,2094.6 1212.3,2135.8 1213,2229.7 1213.6,2275.7 1214.3,2131.7 1214.9,2164.1 1215.6,2275.7 1216.3,2275.7 1216.9,2188.5 1217.6,2275.7 1218.2,2275.7 1218.9,2166.4 1219.6,2161.2 1220.2,2275.7 1220.9,2207.8 1221.5,2275.7 1222.2,2275.7 1222.9,2219.2 1223.5,2212.8 1224.2,2275.7 1224.8,2275.7 1225.5,2211.6 1226.2,2248.3 1226.8,2253.5 1227.5,2219.2 1228.1,2238.8 1228.8,2233.2 1229.5,2275.7 1230.1,2275.7 1230.8,2275.7 1231.4,2275.7 1232.1,2275.7 1232.8,2275.7 1233.4,2275.7 1234.1,2275.7 1234.7,2275.7 1235.4,2275.7 1236.1,2275.7 1236.7,2275.7 1237.4,2275.7 1238,2275.7 1238.7,2275.7 1239.4,2275.7 1240,2275.7 1240.7,2275.7 1241.3,2275.7 1242,2275.7 1242.7,2275.7 1243.3,2275.7 1244,2275.7 1244.6,2275.7 1245.3,2275.7 1246,2275.7 1246.6,2275.7 1247.3,2275.7 1247.9,2275.7 1248.6,2275.7 1249.3,2275.7 1249.9,2275.7 1250.6,2275.7 1251.2,2275.7 1251.9,2275.7 1252.6,2275.7 1253.2,2275.7 1253.9,2275.7 1254.5,2275.7 1255.2,2275.7 1255.9,2275.7 1256.5,2275.7 1257.2,2275.7 1257.8,2275.7 1258.5,2275.7 1259.2,2275.7 1259.8,2275.7 1260.5,2275.7 1261.1,2273 1261.8,2275.7 1262.5,2275.7 1263.1,2275.7 1263.8,2275.7 1264.4,2273.7 1265.1,2275.7 1265.8,2275.7 1266.4,2275.7 1267.1,2275.7 1267.7,2275.7 1268.4,2275.7 1269.1,2275.7 1269.7,2275.7 1270.4,2275.7 1271,2275.7 1271.7,2275.7 1272.4,2247.3 1273,2275.7 1273.7,2275.7 1274.3,2275.7 1275,2275.7 1275.7,2275.7 1276.3,2275.7 1277,2275.7 1277.6,2275.7 1278.3,2275.7 1279,2275.7 1279.6,2275.7 1280.3,2275.7 1280.9,2275.7 1281.6,2275.7 1282.3,2275.7 1282.9,2275.7 1283.6,2275.7 1284.2,2275.7 1284.9,2275.7 1285.6,2275.7 1286.2,2275.7 1286.9,2275.7 1287.5,2275.7 1288.2,2275.7 1288.9,2275.7 1289.5,2275.7 1290.2,2275.7 1290.8,2275.7 1291.5,2275.7 1292.2,2275.7 1292.8,2275.7 1293.5,2275.7 1294.1,2275.7 1294.8,2275.7 1295.5,2275.7 1296.1,2275.7 1296.8,2275.7 1297.4,2275.7 1298.1,2272.4 1298.8,2275.7 1299.4,2275.7 1300.1,2275.7 1300.7,2275.7 1301.4,2275.7 1302.1,2275.7 1302.7,2275.7 1303.4,2275.7 1304,2275.7 1304.7,2275.7 1305.4,2275.7 1306,2275.7 1306.7,2275.7 1307.3,2275.7 1308,2275.7 1308.7,2275.7 1309.3,2275.7 1310,2275.7 1310.6,2275.7 1311.3,2275.7 1312,2275.7 1312.6,2275.7 1313.3,2275.7 1313.9,2275.7 1314.6,2275.7 1315.3,2275.7 1315.9,2275.7 1316.6,2275.7 1317.2,2275.7 1317.9,2275.7 1318.6,2275.7 1319.2,2275.7 1319.9,2275.7 1320.5,2275.7 1321.2,2275.7 1321.9,2275.7 1322.5,2275.7 1323.2,2275.7 1323.8,2275.7 1324.5,2275.7 1325.2,2275.7 1325.8,2262.9 1326.5,2275.7 1327.1,2275.7 1327.8,2275.7 1328.5,2275.7 1329.1,2275.7 1329.8,2275.7 1330.4,2275.7 1331.1,2275.7 1331.8,2275.7 1332.4,2275.7 1333.1,2275.7 1333.7,2275.7 1334.4,2275.7 1335.1,2275.7 1335.7,2275.7 1336.4,2275.7 1337,2275.7 1337.7,2275.7 1338.4,2275.7 1339,2215 1339.7,2182.3 1340.3,2275.7 1341,2143.1 1341.7,2243.5 1342.3,2205.8 1343,2275.7 1343.6,2275.7 1344.3,2275.7 1345,2275.7 1345.6,2275.7 1346.3,2275.7 1346.9,2157 1347.6,2275.7 1348.3,2197.4 1348.9,2275.7 1349.6,2135.2 1350.2,2275.7 1350.9,2275.7 1351.6,2275.7 1352.2,2167.4 1352.9,2275.7 1353.5,2241.6 1354.2,2151.6 1354.9,2157.3 1355.5,2099.1 1356.2,2275.7 1356.8,2190.6 1357.5,2275.7 1358.2,2191.8 1358.8,2231.8 1359.5,2249.2 1360.1,2275.7 1360.8,2275.7 1361.5,2275.7 1362.1,2217.4 1362.8,2129.9 1363.4,2243.2 1364.1,2203.7 1364.8,2275.7 1365.4,2275.7 1366.1,2120.7 1366.7,2155.1 1367.4,2275.7 1368.1,2174.7 1368.7,2204.6 1369.4,2203 1370,2177.3 1370.7,2194 1371.4,2275.7 1372,2275.7 1372.7,2102.5 1373.3,2148.9 1374,2275.7 1374.7,2223.1 1375.3,2171.7 1376,2173.8 1376.6,2275.7 1377.3,2152.9 1378,2150.5 1378.6,2130.2 1379.3,2275.7 1379.9,2137.5 1380.6,2275.7 1381.3,2275.7 1381.9,2182.4 1382.6,2147.4 1383.2,2275.7 1383.9,2098.4 1384.6,2158.8 1385.2,2111.9 1385.9,2207.7 1386.5,2177.5 1387.2,2275.7 1387.9,2275.7 1388.5,2275.7 1389.2,2275.7 1389.8,2205.3 1390.5,2275.7 1391.2,2210.1 1391.8,2218.5 1392.5,2275.7 1393.1,2177.7 1393.8,2275.7 1394.5,2240.3 1395.1,2202 1395.8,2209.9 1396.4,2173.4 1397.1,2275.7 1397.8,2180 1398.4,2213.1 1399.1,2275.7 1399.7,2275.7 1400.4,2223.8 1401.1,2176.9 1401.7,2175.5 1402.4,2275.7 1403,2175 1403.7,2183.5 1404.4,2178.8 1405,2112.2 1405.7,2150.4 1406.3,2102.1 1407,2114.5 1407.7,2228.1 1408.3,2174.5 1409,2275.7 1409.6,2275.7 1410.3,2275.7 1411,2234.8 1411.6,2275.7 1412.3,2167.6 1412.9,2275.7 1413.6,2166.8 1414.3,2167.9 1414.9,2149.5 1415.6,2275.7 1416.2,2275.7 1416.9,2275.7 1417.6,2275.7 1418.2,2194.2 1418.9,2164.9 1419.5,2275.7 1420.2,2183.1 1420.9,2099.7 1421.5,2275.7 1422.2,2221.4 1422.8,2166.2 1423.5,2129.7 1424.2,2132.6 1424.8,2175.1 1425.5,2275.7 1426.1,2150.6 1426.8,2132.7 1427.5,2275.7 1428.1,2275.7 1428.8,2069 1429.4,2105.4 1430.1,2018.5 1430.8,2275.7 1431.4,2104.6 1432.1,2215 1432.7,2210.8 1433.4,2179.4 1434.1,2092.3 1434.7,2140 1435.4,2275.7 1436,2162.1 1436.7,2188.4 1437.4,2275.7 1438,2212.3 1438.7,2076.8 1439.3,2275.7 1440,2065 1440.7,2275.7 1441.3,2275.7 1442,2275.7 1442.6,2148.6 1443.3,2143.7 1444,2166.2 1444.6,2119.6 1445.3,2170.5 1445.9,2275.7 1446.6,2275.7 1447.3,2275.7 1447.9,2275.7 1448.6,2092.7 1449.2,2113.7 1449.9,2178.6 1450.6,2170.1 1451.2,1982.6 1451.9,2275.7 1452.5,2119.9 1453.2,2091.8 1453.9,2194.6 1454.5,2039.8 1455.2,2275.7 1455.8,2275.7 1456.5,1986 1457.2,2132.6 1457.8,2199.5 1458.5,2275.7 1459.1,1937.2 1459.8,2275.7 1460.5,2275.7 1461.1,2275.7 1461.8,2275.7 1462.4,2184.6 1463.1,2194.1 1463.8,2003.4 1464.4,2275.7 1465.1,2275.7 1465.7,2275.7 1466.4,2275.7 1467.1,2082.3 1467.7,2275.7 1468.4,2275.7 1469,1993.1 1469.7,2275.7 1470.4,2181.2 1471,2161.4 1471.7,2275.7 1472.3,2275.7 1473,2048.6 1473.7,2275.7 1474.3,2275.7 1475,2275.7 1475.6,2004.1 1476.3,2275.7 1477,2023.7 1477.6,2042.6 1478.3,2275.7 1478.9,2275.7 1479.6,2275.7 1480.3,2091.3 1480.9,2104 1481.6,2179 1482.2,2122.2 1482.9,2001.4 1483.6,2275.7 1484.2,2075.3 1484.9,2215.9 1485.5,2055.3 1486.2,2112.2 1486.9,2078 1487.5,2213.6 1488.2,2107.7 1488.8,2275.7 1489.5,1992.8 1490.2,2275.7 1490.8,2275.7 1491.5,2029.4 1492.1,1954.7 1492.8,2079.5 1493.5,2047.9 1494.1,2113.7 1494.8,2044.8 1495.4,2041.3 1496.1,2008.1 1496.8,2013.3 1497.4,2104.5 1498.1,1999.2 1498.7,2106.9 1499.4,2078.5 1500.1,1979.1 1500.7,2029.6 1501.4,2004.6 1502,2036.8 1502.7,2022.1 1503.4,1946.7 1504,2063.4 1504.7,2022.8 1505.3,1969.7 1506,1958.3 1506.7,2037.7 1507.3,2017.9 1508,1958.7 1508.6,1994.6 1509.3,1959.8 1510,2027.9 1510.6,2080.9 1511.3,2047.5 1511.9,2025.6 1512.6,2191.7 1513.3,2097.7 1513.9,2052 1514.6,1974.7 1515.2,1912.7 1515.9,2004.9 1516.6,1962.1 1517.2,2075.4 1517.9,2028.8 1518.5,2042.5 1519.2,2022.8 1519.9,2095 1520.5,2022.3 1521.2,2024.4 1521.8,2024.8 1522.5,2045.9 1523.2,2030.8 1523.8,1966.4 1524.5,2048.6 1525.1,1950.4 1525.8,2244.9 1526.5,1920.2 1527.1,2016 1527.8,2019.3 1528.4,1995.5 1529.1,1998.2 1529.8,2049.7 1530.4,2032.6 1531.1,2012.4 1531.7,1962.8 1532.4,1993.1 1533.1,1984.8 1533.7,1951.7 1534.4,1958.6 1535,2019.8 1535.7,1920.8 1536.4,1921.3 1537,1926.9 1537.7,1953.1 1538.3,2062.6 1539,1905.2 1539.7,1929.1 1540.3,1928.7 1541,2061.4 1541.6,1997.1 1542.3,2049 1543,2009.9 1543.6,2032.5 1544.3,2026.6 1544.9,1984.5 1545.6,2031.3 1546.3,1964.5 1546.9,1937.1 1547.6,1965.6 1548.2,1981.7 1548.9,2031.7 1549.6,1980.8 1550.2,2047.1 1550.9,1951.8 1551.5,2002.8 1552.2,2021.3 1552.9,1991.5 1553.5,1956.9 1554.2,2028.5 1554.8,1963.4 1555.5,1992.5 1556.2,1931.5 1556.8,1978.7 1557.5,2005.8 1558.1,1917.5 1558.8,1986.4 1559.5,1952.7 1560.1,1962.4 1560.8,2003.5 1561.4,2001.5 1562.1,2005.7 1562.8,1910.1 1563.4,2063.9 1564.1,1987.5 1564.7,1914.9 1565.4,1903 1566.1,1966.1 1566.7,2024.1 1567.4,1960.4 1568,1973.6 1568.7,1929.5 1569.4,2023.4 1570,2034.9 1570.7,2026.3 1571.3,2033.9 1572,1998.5 1572.7,1998.1 1573.3,1982.3 1574,1924.7 1574.6,1882.7 1575.3,1970.5 1576,1968.7 1576.6,1952.8 1577.3,1967.9 1577.9,1941.7 1578.6,2005.5 1579.3,2004.2 1579.9,1930.5 1580.6,1980.2 1581.2,2026.4 1581.9,1987.6 1582.6,2013.5 1583.2,2007.7 1583.9,1978.4 1584.5,1990.6 1585.2,1980.7 1585.9,2052.6 1586.5,2008.2 1587.2,1964.2 1587.8,1831.9 1588.5,2152.1 1589.2,1878.4 1589.8,2046 1590.5,1886.8 1591.1,2054.1 1591.8,1837.8 1592.5,1904 1593.1,1883.9 1593.8,2040.6 1594.4,1943 1595.1,1869.3 1595.8,1843.9 1596.4,2076.6 1597.1,1867.5 1597.7,1913.3 1598.4,1916.9 1599.1,2007.1 1599.7,1887 1600.4,1890 1601,2045 1601.7,1843.9 1602.4,1941.1 1603,1999.8 1603.7,2034.8 1604.3,2051.3 1605,1888.2 1605.7,2091.4 1606.3,1965.5 1607,2127.9 1607.6,1893.2 1608.3,1999.7 1609,2125 1609.6,1883.7 1610.3,2016.5 1610.9,2215.7 1611.6,2202.4 1612.3,1978.7 1612.9,2275.7 1613.6,2134.9 1614.2,2275.7 1614.9,2275.7 1615.6,2129.4 1616.2,2040.5 1616.9,2275.7 1617.5,2176.7 1618.2,2107.4 1618.9,2024.8 1619.5,2100.2 1620.2,2275.7 1620.8,2029.5 1621.5,2275.7 1622.2,2203.4 1622.8,2014.7 1623.5,1979.8 1624.1,2275.7 1624.8,2051 1625.5,2275.7 1626.1,2168.9 1626.8,2275.7 1627.4,2047.7 1628.1,2275.7 1628.8,2012.5 1629.4,2275.7 1630.1,2042.5 1630.7,2080.3 1631.4,2275.7 1632.1,2275.7 1632.7,2174.1 1633.4,2275.7 1634,2056.8 1634.7,2016.4 1635.4,2275.7 1636,2275.7 1636.7,2086.2 1637.3,2073.4 1638,2164.7 1638.7,2025.3 1639.3,2162 1640,2275.7 1640.6,2169.6 1641.3,2275.7 1642,2070.9 1642.6,2097 1643.3,2275.7 1643.9,2041.7 1644.6,2275.7 1645.3,2153.5 1645.9,2159 1646.6,2000.6 1647.2,2275.7 1647.9,2275.7 1648.6,2275.7 1649.2,2012.9 1649.9,2159.5 1650.5,2156.2 1651.2,2182.8 1651.9,1972.6 1652.5,2212.7 1653.2,2056.2 1653.8,2050.3 1654.5,2071.2 1655.2,2275.7 1655.8,2275.7 1656.5,2275.7 1657.1,2275.7 1657.8,1984.7 1658.5,2275.7 1659.1,2275.7 1659.8,2275.7 1660.4,1971.5 1661.1,2275.7 1661.8,2029 1662.4,2275.7 1663.1,2275.7 1663.7,2275.7 1664.4,2079.1 1665.1,2275.7 1665.7,2275.7 1666.4,2073.2 1667,2077.5 1667.7,2102.2 1668.4,2030.2 1669,2024.1 1669.7,2021.1 1670.3,2275.7 1671,2070.9 1671.7,2136.4 1672.3,2190 1673,2141.9 1673.6,2275.7 1674.3,2275.7 1675,2209 1675.6,2060 1676.3,2062.2 1676.9,2057.1 1677.6,2275.7 1678.3,2174.6 1678.9,2275.7 1679.6,2007.6 1680.2,2129.3 1680.9,2016 1681.6,2037.5 1682.2,2189.9 1682.9,2140 1683.5,2147.1 1684.2,2275.7 1684.9,2093.9 1685.5,2062 1686.2,2126.4 1686.8,2068.3 1687.5,2275.7 1688.2,2175.1 1688.8,2275.7 1689.5,2067.7 1690.1,2164.6 1690.8,2037.7 1691.5,2049.6 1692.1,2275.7 1692.8,2207.4 1693.4,2275.7 1694.1,1986.4 1694.8,2053.8 1695.4,2054.5 1696.1,2275.7 1696.7,2275.7 1697.4,2275.7 1698.1,2195.5 1698.7,2062.9 1699.4,2163.1 1700,2275.7 1700.7,2127.6 1701.4,2050.1 1702,2275.7 1702.7,2275.7 1703.3,2275.7 1704,2275.7 1704.7,2021.3 1705.3,2275.7 1706,2275.7 1706.6,2275.7 1707.3,2056.5 1708,2275.7 1708.6,2275.7 1709.3,2275.7 1709.9,2056.5 1710.6,2275.7 1711.3,2229.2 1711.9,2206.4 1712.6,2163.6 1713.2,2204.9 1713.9,2275.7 1714.6,2275.7 1715.2,2179.1 1715.9,2275.7 1716.5,2275.7 1717.2,2275.7 1717.9,2275.7 1718.5,2059.1 1719.2,2275.7 1719.8,2055.8 1720.5,2275.7 1721.2,2275.7 1721.8,2124.8 1722.5,2275.7 1723.1,2275.7 1723.8,2190 1724.5,2275.7 1725.1,2137.4 1725.8,2008.5 1726.4,2275.7 1727.1,2048.8 1727.8,2013.3 1728.4,2275.7 1729.1,2023.9 1729.7,2275.7 1730.4,2275.7 1731.1,2275.7 1731.7,2042 1732.4,2275.7 1733,2275.7 1733.7,2164.4 1734.4,2275.7 1735,2017 1735.7,2275.7 1736.3,2095.5 1737,2227.5 1737.7,2097.6 1738.3,2186 1739,2104.5 1739.6,2183.8 1740.3,2031.6 1741,2275.7 1741.6,2275.7 1742.3,2169 1742.9,2275.7 1743.6,2275.7 1744.3,2275.7 1744.9,2177.5 1745.6,2100.5 1746.2,2139.8 1746.9,2225.4 1747.6,2172.2 1748.2,2128.2 1748.9,2157.6 1749.5,2275.7 1750.2,2275.7 1750.9,2051.6 1751.5,2187.3 1752.2,2162.4 1752.8,2163.9 1753.5,2275.7 1754.2,2209.5 1754.8,2240.5 1755.5,2187.4 1756.1,2129.9 1756.8,2275.7 1757.5,2216.9 1758.1,2275.7 1758.8,2168 1759.4,2275.7 1760.1,2275.7 1760.8,2140.9 1761.4,2187.1 1762.1,2144.1 1762.7,2275.7 1763.4,2128 1764.1,2241.7 1764.7,2275.7 1765.4,2275.7 1766,2174.2 1766.7,2208.5 1767.4,2187.4 1768,2199.3 1768.7,2275.7 1769.3,2206.8 1770,2200.3 1770.7,2275.7 1771.3,2248.4 1772,2275.7 1772.6,2275.7 1773.3,2275.7 1774,2210.1 1774.6,2249.2 1775.3,2229.8 1775.9,2230.1 1776.6,2262.7 1777.3,2221.6 1777.9,2275.7 1778.6,2209.7 1779.2,2248.5 1779.9,2275.7 1780.6,2245.4 1781.2,2275.7 1781.9,2275.7 1782.5,2246.3 1783.2,2275.7 1783.9,2275.7 1784.5,2275.7 1785.2,2250.4 1785.8,2260.9 1786.5,2225.4 1787.2,2237.4 1787.8,2275.7 1788.5,2275.7 1789.1,2275.7 1789.8,2243.7 1790.5,2229.4 1791.1,2230.5 1791.8,2229.5 1792.4,2249.8 1793.1,2275.7 1793.8,2216.3 1794.4,2207.9 1795.1,2275.7 1795.7,2261.9 1796.4,2275.7 1797.1,2275.7 1797.7,2248.7 1798.4,2275.7 1799,2234.7 1799.7,2275.7 1800.4,2240.2 1801,2275.7 1801.7,2216.7 1802.3,2210.6 1803,2275.7 1803.7,2275.7 1804.3,2275.7 1805,2172.1 1805.6,2209.5 1806.3,2275.7 1807,2275.7 1807.6,2178.3 1808.3,2275.7 1808.9,2275.7 1809.6,2275.7 1810.3,2142.7 1810.9,2229.8 1811.6,2214.3 1812.2,2133.1 1812.9,2275.7 1813.6,2152.7 1814.2,2275.7 1814.9,2275.7 1815.5,2275.7 1816.2,2207.2 1816.9,2144.6 1817.5,2235.4 1818.2,2275.7 1818.8,2148.2 1819.5,2152.5 1820.2,2078.6 1820.8,2107.7 1821.5,2101.2 1822.1,2096 1822.8,2133.2 1823.5,2131.5 1824.1,2119.9 1824.8,2187.2 1825.4,2073.9 1826.1,2089.6 1826.8,2127.6 1827.4,2098.7 1828.1,2007.3 1828.7,2060.6 1829.4,2048.9 1830.1,2039.8 1830.7,2014.1 1831.4,2040.8 1832,2028 1832.7,2066.5 1833.4,2058.1 1834,2056.4 1834.7,2069.2 1835.3,2011.4 1836,2010 1836.7,2057.5 1837.3,2064.4 1838,2084.2 1838.6,2035.6 1839.3,2101.3 1840,2072.3 1840.6,2099.7 1841.3,2037.7 1841.9,2101.2 1842.6,2063.9 1843.3,2075.1 1843.9,1963.5 1844.6,1995.9 1845.2,2022.2 1845.9,2056.9 1846.6,1910 1847.2,1920.1 1847.9,1980.7 1848.5,1935.1 1849.2,1974.1 1849.9,1987.7 1850.5,1945.9 1851.2,1992.9 1851.8,1969.8 1852.5,2059 1853.2,1900.2 1853.8,2019.3 1854.5,2038.8 1855.1,1969.4 1855.8,1949.6 1856.5,1993.9 1857.1,1947.3 1857.8,1913.1 1858.4,1882.2 1859.1,1973.1 1859.8,2033.8 1860.4,1914.3 1861.1,1896.8 1861.7,2012.2 1862.4,1915 1863.1,2021.5 1863.7,1930.4 1864.4,1943.8 1865,1933.8 1865.7,1946.1 1866.4,1992.9 1867,1985.7 1867.7,1994.2 1868.3,1941.6 1869,1947 1869.7,1925.9 1870.3,1997.9 1871,1909.1 1871.6,2019.6 1872.3,1964 1873,1905.4 1873.6,1953.6 1874.3,1881.1 1874.9,1940.5 1875.6,1921.4 1876.3,2046.5 1876.9,1908.9 1877.6,1942.1 1878.2,1916.7 1878.9,1980.7 1879.6,1939.6 1880.2,1936.6 1880.9,1884.4 1881.5,1914 1882.2,2013.2 1882.9,2010.7 1883.5,1967.3 1884.2,1971.2 1884.8,1937.2 1885.5,1999.2 1886.2,1951.2 1886.8,2028.7 1887.5,2079.3 1888.1,2109.8 1888.8,1960.4 1889.5,2028.6 1890.1,1948.1 1890.8,2015.7 1891.4,2056.2 1892.1,2129.2 1892.8,2067.5 1893.4,2041.5 1894.1,2013.2 1894.7,2052 1895.4,1976.7 1896.1,2146.2 1896.7,2187.6 1897.4,2131.1 1898,2191.4 1898.7,1993 1899.4,2275.7 1900,1996.2 1900.7,2041.7 1901.3,2127.9 1902,2275.7 1902.7,2139 1903.3,2081.6 1904,2139.8 1904.6,2275.7 1905.3,2082.9 1906,2132.5 1906.6,2275.7 1907.3,2153 1907.9,2275.7 1908.6,2275.7 1909.3,2074.1 1909.9,2275.7 1910.6,2275.7 1911.2,2080.6 1911.9,2164.1 1912.6,2054.8 1913.2,2066.2 1913.9,2159.7 1914.5,2275.7 1915.2,2042.9 1915.9,2275.7 1916.5,2089.7 1917.2,2197.8 1917.8,2097.1 1918.5,2151.5 1919.2,2275.7 1919.8,2188.9 1920.5,2275.7 1921.1,2275.7 1921.8,2275.7 1922.5,2168 1923.1,2194.9 1923.8,2126.1 1924.4,2119.4 1925.1,2275.7 1925.8,2275.7 1926.4,2275.7 1927.1,2123.9 1927.7,2275.7 1928.4,2275.7 1929.1,2275.7 1929.7,2197 1930.4,2275.7 1931,2079.4 1931.7,2169.9 1932.4,2091.9 1933,2275.7 1933.7,2119.6 1934.3,2094.4 1935,2275.7 1935.7,2100.1 1936.3,2152.7 1937,2179.2 1937.6,2143.3 1938.3,2275.7 1939,2092.1 1939.6,2275.7 1940.3,2136.7 1940.9,2157.6 1941.6,2170.1 1942.3,2085.6 1942.9,2275.7 1943.6,2161 1944.2,2275.7 1944.9,2275.7 1945.6,2153.7 1946.2,2275.7 1946.9,2156 1947.5,2201 1948.2,2275.7 1948.9,2223.5 1949.5,2275.7 1950.2,2275.7 1950.8,2140.1 1951.5,2119.1 1952.2,2160.2 1952.8,2222.6 1953.5,2275.7 1954.1,2121.3 1954.8,2275.7 1955.5,2051.5 1956.1,2108.9 1956.8,2275.7 1957.4,2275.7 1958.1,2129.8 1958.8,2275.7 1959.4,2212.6 1960.1,2151.2 1960.7,2189.9 1961.4,2275.7 1962.1,2275.7 1962.7,2091.7 1963.4,2275.7 1964,2275.7 1964.7,2162.3 1965.4,2220.6 1966,2275.7 1966.7,2160.2 1967.3,2132.4 1968,2118.6 1968.7,2275.7 1969.3,2133.9 1970,2119.1 1970.6,2275.7 1971.3,2204.3 1972,2252.3 1972.6,2160.3 1973.3,2247.6 1973.9,2197.2 1974.6,2190.4 1975.3,2206.1 1975.9,2159.9 1976.6,2275.7 1977.2,2275.7 1977.9,2164.8 1978.6,2153.6 1979.2,2141.1 1979.9,2203.8 1980.5,2210.3 1981.2,2231.6 1981.9,2275.7 1982.5,2275.7 1983.2,2166.3 1983.8,2234.7 1984.5,2195.4 1985.2,2194.6 1985.8,2275.7 1986.5,2275.7 1987.1,2275.7 1987.8,2131 1988.5,2275.7 1989.1,2143.4 1989.8,2226 1990.4,2275.7 1991.1,2275.7 1991.8,2190.3 1992.4,2130 1993.1,2196.7 1993.7,2179.9 1994.4,2203 1995.1,2211.6 1995.7,2275.7 1996.4,2275.7 1997,2275.7 1997.7,2129.5 1998.4,2275.7 1999,2275.7 1999.7,2210 2000.3,2241.7 2001,2241.6 2001.7,2275.7 2002.3,2211.8 2003,2193.4 2003.6,2224.5 2004.3,2275.7 2005,2275.7 2005.6,2251.9 2006.3,2275.7 2006.9,2236.5 2007.6,2275.7 2008.3,2275.7 2008.9,2275.7 2009.6,2275.7 2010.2,2275.7 2010.9,2275.7 2011.6,2275.7 2012.2,2275.7 2012.9,2275.7 2013.5,2275.7 2014.2,2275.7 2014.9,2275.7 2015.5,2275.7 2016.2,2275.7 2016.8,2275.7 2017.5,2275.7 2018.2,2275.7 2018.8,2275.7 2019.5,2275.7 2020.1,2275.7 2020.8,2275.7 2021.5,2275.7 2022.1,2275.7 2022.8,2275.7 2023.4,2275.7 2024.1,2275.7 2024.8,2275.7 2025.4,2275.7 2026.1,2275.7 2026.7,2275.7 2027.4,2275.7 2028.1,2261 2028.7,2251.1 2029.4,2275.7 2030,2275.7 2030.7,2275.7 2031.4,2160.6 2032,2166.2 2032.7,2140.2 2033.3,2275.7 2034,2234.9 2034.7,2275.7 2035.3,2275.7 2036,2192.9 2036.6,2153.4 2037.3,2275.7 2038,2209.2 2038.6,2229 2039.3,2202.9 2039.9,2275.7 2040.6,2133.9 2041.3,2275.7 2041.9,2139.1 2042.6,2226 2043.2,2275.7 2043.9,2196.3 2044.6,2108.3 2045.2,2074.7 2045.9,2275.7 2046.5,2117.1 2047.2,2174 2047.9,2275.7 2048.5,2275.7 2049.2,2124 2049.8,2200.5 2050.5,2132 2051.2,2159.2 2051.8,2275.7 2052.5,2275.7 2053.1,2275.7 2053.8,2275.7 2054.5,2245.3 2055.1,2107.6 2055.8,2141 2056.4,2153 2057.1,2170.6 2057.8,2177.3 2058.4,2200.9 2059.1,2043.9 2059.7,2226.3 2060.4,2056.5 2061.1,2128.6 2061.7,2073.2 2062.4,2168.4 2063,2176.1 2063.7,2143.6 2064.4,2036.4 2065,2040.2 2065.7,1994 2066.3,2206 2067,2014.8 2067.7,2036.4 2068.3,2044.2 2069,2084.4 2069.6,2101.8 2070.3,2265 2071,2002.7 2071.6,2181.3 2072.3,2142.4 2072.9,2133.3 2073.6,1973.6 2074.3,2072.2 2074.9,1996.5 2075.6,2066.3 2076.2,2110.5 2076.9,2067.2 2077.6,2056.4 2078.2,2111.8 2078.9,1985.6 2079.5,1993.7 2080.2,1977.5 2080.9,2144.3 2081.5,2041.3 2082.2,2010.9 2082.8,2056 2083.5,2145.4 2084.2,1967.8 2084.8,2002 2085.5,2026.7 2086.1,2002.6 2086.8,2111.7 2087.5,2184.6 2088.1,2041.7 2088.8,2010.4 2089.4,2066.7 2090.1,2139.6 2090.8,2271.7 2091.4,2064.8 2092.1,2112.4 2092.7,1985 2093.4,2073.6 2094.1,2001.5 2094.7,2128.3 2095.4,2119 2096,2013.3 2096.7,2101.6 2097.4,2045.7 2098,2102.1 2098.7,2002 2099.3,2029.1 2100,2015.1 2100.7,1985.3 2101.3,2041.8 2102,2103.5 2102.6,1995.2 2103.3,2097.7 2104,2023 2104.6,2049.9 2105.3,1924.6 2105.9,2107.7 2106.6,2013.4 2107.3,2008.3 2107.9,1991.3 2108.6,2031.9 2109.2,2024.6 2109.9,2101.6 2110.6,1940.6 2111.2,1939 2111.9,2070.4 2112.5,2015.5 2113.2,2003.9 2113.9,2056.5 2114.5,2059.7 2115.2,2146.3 2115.8,2094.3 2116.5,1987.4 2117.2,1987.7 2117.8,2093.9 2118.5,1936.9 2119.1,2107.7 2119.8,2092.2 2120.5,1970.7 2121.1,1967.2 2121.8,1969.3 2122.4,1933.1 2123.1,2047 2123.8,2015.6 2124.4,2205.3 2125.1,2257.4 2125.7,1972.1 2126.4,2014.1 2127.1,2139.7 2127.7,2039.4 2128.4,2090.4 2129,2098.5 2129.7,2109.9 2130.4,1965.5 2131,2193.8 2131.7,1992.1 2132.3,2018.5 2133,1912.6 2133.7,2073.8 2134.3,2119.8 2135,1954.6 2135.6,2112.7 2136.3,2080.3 2137,2014.4 2137.6,2043.2 2138.3,2069.2 2138.9,1918.6 2139.6,1929.7 2140.3,1989 2140.9,2088.3 2141.6,2090.1 2142.2,1978.9 2142.9,1982.1 2143.6,2135.6 2144.2,2049.5 2144.9,1888.8 2145.5,2172.8 2146.2,1985.4 2146.9,2096.9 2147.5,1972.7 2148.2,2132.4 2148.8,1970.4 2149.5,1927.9 2150.2,2090.2 2150.8,2102.3 2151.5,1972.9 2152.1,2165.7 2152.8,1926.4 2153.5,1991 2154.1,1937 2154.8,1983.6 2155.4,2027.6 2156.1,2122 2156.8,2016.9 2157.4,2066 2158.1,2037.5 2158.7,2045.4 2159.4,2116.4 2160.1,2010.9 2160.7,1942.2 2161.4,1973 2162,1984.7 2162.7,2123.5 2163.4,2006.8 2164,2094 2164.7,1935.1 2165.3,2136.8 2166,1931 2166.7,2157.9 2167.3,2026 2168,2084.5 2168.6,2008.9 2169.3,2044.9 2170,1991.8 2170.6,1981.3 2171.3,2027.2 2171.9,2081.8 2172.6,2074.4 2173.3,2158.2 2173.9,1922.1 2174.6,1917.6 2175.2,1958 2175.9,2127.2 2176.6,2232 2177.2,2035.8 2177.9,2005.2 2178.5,1953.1 2179.2,2089 2179.9,2204.4 2180.5,1894.6 2181.2,1996.7 2181.8,1956.7 2182.5,2107.9 2183.2,2098.4 2183.8,1899.7 2184.5,2039.1 2185.1,1933.1 2185.8,2053.6 2186.5,2178.3 2187.1,2040.1 2187.8,2018.4 2188.4,2063 2189.1,2007.5 2189.8,1916.6 2190.4,2115.4 2191.1,2078.2 2191.7,1980.4 2192.4,1930.3 2193.1,1905.3 2193.7,1950.6 2194.4,2197.5 2195,2088.6 2195.7,2113.7 2196.4,2026.5 2197,2060.6 2197.7,2048 2198.3,2020.8 2199,2045.1 2199.7,2144.5 2200.3,2026.3 2201,2161.3 2201.6,2030.8 2202.3,2091 2203,1943.5 2203.6,2201.7 2204.3,1944 2204.9,2013.7 2205.6,1972.9 2206.3,1954.4 2206.9,2046.5 2207.6,1966 2208.2,1947 2208.9,1910 2209.6,1938 2210.2,2036.2 2210.9,1887.9 2211.5,2064.7 2212.2,1896.7 2212.9,2109.1 2213.5,1956.6 2214.2,2017.2 2214.8,1908.7 2215.5,2104.9 2216.2,2057.7 2216.8,2008.9 2217.5,2013.7 2218.1,1989.8 2218.8,2010.7 2219.5,2085.7 2220.1,1917.6 2220.8,1970.6 2221.4,1970.7 2222.1,2126.2 2222.8,2061.5 2223.4,2080.4 2224.1,1927.8 2224.7,1995.5 2225.4,1933.7 2226.1,2042.2 2226.7,1994.4 2227.4,2245.5 2228,1923.6 2228.7,1948.1 2229.4,1891.3 2230,2006.5 2230.7,2103.9 2231.3,2099.8 2232,2108.3 2232.7,2035.7 2233.3,2041 2234,2052.2 2234.6,1910.2 2235.3,2017.7 2236,1932.7 2236.6,1995.2 2237.3,1973.4 2237.9,2106.8 2238.6,2024.7 2239.3,2123.4 2239.9,1932.6 2240.6,1969.3 2241.2,1890.2 2241.9,1908.8 2242.6,1929.1 2243.2,1944.4 2243.9,1899.1 2244.5,1953.3 2245.2,1936.1 2245.9,2025.8 2246.5,1927.4 2247.2,1882 2247.8,1940 2248.5,1879.1 2249.2,1990.9 2249.8,2050.5 2250.5,2000.3 2251.1,2057.3 2251.8,1989.4 2252.5,2029.2 2253.1,1986.8 2253.8,2035.9 2254.4,2029.8 2255.1,2000.3 2255.8,1984 2256.4,2024.4 2257.1,1985.9 2257.7,1999.7 2258.4,1984.6 2259.1,2026.3 2259.7,1993.3 2260.4,1958.8 2261,1907.9 2261.7,1923.7 2262.4,1962.7 2263,2056 2263.7,1908.2 2264.3,2202 2265,1876.1 2265.7,2070.8 2266.3,1905.5 2267,2034.3 2267.6,1970.4 2268.3,1977.4 2269,1979.1 2269.6,1982.6 2270.3,2019.7 2270.9,1986.1 2271.6,2006.6 2272.3,2041.9 2272.9,1975.6 2273.6,1962.9 2274.2,1955.3 2274.9,1959.6 2275.6,1929.2 2276.2,1987.3 2276.9,1884.8 2277.5,1931.2 2278.2,1862 2278.9,1944 2279.5,1915 2280.2,1876.2 2280.8,2020.7 2281.5,1905.4 2282.2,1986.3 2282.8,1975.6 2283.5,2021.9 2284.1,1903 2284.8,1880.5 2285.5,2010 2286.1,1931.2 2286.8,1991.4 2287.4,1880.4 2288.1,2037.3 2288.8,1956.3 2289.4,2059.9 2290.1,2011.4 2290.7,2014.2 2291.4,2008.6 2292.1,1940.8 2292.7,1903.3 2293.4,2007.6 2294,2006.6 2294.7,1837.5 2295.4,1960.2 2296,1913 2296.7,1993 2297.3,1960.2 2298,2018.1 2298.7,2035.7 2299.3,2024.8 2300,1988.3 2300.6,1946.1 2301.3,1986.4 2302,1899.7 2302.6,2026.8 2303.3,1899.8 2303.9,1982.5 2304.6,1899 2305.3,2190.2 2305.9,2106.5 2306.6,2087.1 2307.2,1883.6 2307.9,2061.5 2308.6,1929.8 2309.2,1960.3 2309.9,1953.5 2310.5,2029.7 2311.2,2035.1 2311.9,1992.4 2312.5,2018 2313.2,1991.8 2313.8,2002.9 2314.5,1979.2 2315.2,1981.9 2315.8,1978.6 2316.5,2008.6 2317.1,1956.9 2317.8,2008 2318.5,2006.7 2319.1,1903.6 2319.8,2027.4 2320.4,2059.1 2321.1,2022.7 2321.8,2042.2 2322.4,2041.9 2323.1,2004.7 2323.7,2027.3 2324.4,2001.3 2325.1,1977.4 2325.7,1932 2326.4,2012.7 2327,2041.1 2327.7,1928.3 2328.4,1924.6 2329,2031.5 2329.7,2193.1 2330.3,1984 2331,1897.7 2331.7,1925.6 2332.3,1956.7 2333,2036.6 2333.6,1977.4 2334.3,2000.9 2335,2038.5 2335.6,2259.6 2336.3,1860.4 2336.9,1931.7 2337.6,2050.7 2338.3,2026.3 2338.9,1990.9 2339.6,2059.5 2340.2,1970.3 2340.9,2046.5 2341.6,2002.9 2342.2,2012 2342.9,2018 2343.5,2023.6 2344.2,2059.6 2344.9,2089.6 2345.5,1995.2 2346.2,1889.6 2346.8,2005 2347.5,1976.6 2348.2,1910.3 2348.8,1956.2 2349.5,1902.1 2350.1,1943.9 2350.8,1957.9 2351.5,2092.2 2352.1,2010.9 2352.8,1987.4 2353.4,1978.2 2354.1,1994.9 2354.8,2220.6 2355.4,1864.5 2356.1,1973.2 2356.7,1942 2357.4,1941.8 2358.1,2061.2 2358.7,2006.6 2359.4,2048.6 2360,2059.9 2360.7,1935.1 2361.4,1910.7 2362,2027.9 2362.7,1984 2363.3,2001.3 2364,1980.9 2364.7,2028.7 2365.3,1982.7 2366,2038.6 2366.6,2042.8 2367.3,1999.5 2368,1881.8 2368.6,1977.2 2369.3,1871.1 2369.9,1935.6 2370.6,1961.1 2371.3,2002.8 2371.9,1961.5 2372.6,2081.2 2373.2,1995.2 2373.9,1893.3 2374.6,1910.3 2375.2,1827.7 2375.9,1952.1 2376.5,1963.1 2377.2,1926.1 2377.9,1961.4 2378.5,1899.6 2379.2,2021.7 2379.8,1979.5 2380.5,1898.1 2381.2,1865.6 2381.8,1919.3 2382.5,1852.6 2383.1,1887.9 2383.8,1972.5 2384.5,2028.2 2385.1,1989.4 2385.8,2037.2 2386.4,1914.7 2387.1,2039.7 2387.8,1995.6 2388.4,1979.7 2389.1,1931.4 2389.7,1986.4 2390.4,1920.1 2391.1,1912.3 2391.7,1829.2 2392.4,1962.4 2393,1940 2393.7,1958.8 2394.4,1955.5 2395,1918.4 2395.7,1962.2 2396.3,1949.4 2397,1954.2 2397.7,2004.2 2398.3,1895.1 2399,2031.2 2399.6,2022.2 2400.3,2010.6 2401,2016.4 2401.6,2018.2 2402.3,1914.9 2402.9,1914.3 2403.6,1874 2404.3,1958.1 2404.9,1960.7 2405.6,1885.4 2406.2,2014.6 2406.9,1915.3 2407.6,1971.8 2408.2,1831 2408.9,1938.3 2409.5,1942.9 2410.2,1828.5 2410.9,1973.1 2411.5,1969.7 2412.2,1954.6 2412.8,1994.2 2413.5,1977.3 2414.2,1905.7 2414.8,1825.3 2415.5,1882.9 2416.1,2035.6 2416.8,1967.7 2417.5,1946.9 2418.1,1947.6 2418.8,2003.3 2419.4,1965.7 2420.1,1997.7 2420.8,1950.8 2421.4,1980.8 2422.1,1917.9 2422.7,2027.1 2423.4,1856.7 2424.1,1874.3 2424.7,1946.6 2425.4,1946 2426,1902 2426.7,1916.8 2427.4,1894.5 2428,1889.2 2428.7,1936.3 2429.3,1962.6 2430,1909.9 2430.7,2046.4 2431.3,1990 2432,2004.1 2432.6,1967.7 2433.3,1977.3 2434,1997.4 2434.6,1976.9 2435.3,1942 2435.9,1899 2436.6,1993.7 2437.3,1917.4 2437.9,1815.9 2438.6,1980.7 2439.2,1815.5 2439.9,1868 2440.6,1924.1 2441.2,1994.6 2441.9,1911.5 2442.5,1973.1 2443.2,1916.1 2443.9,1898.5 2444.5,2081.9 2445.2,2046.9 2445.8,1914 2446.5,1958.5 2447.2,1938.6 2447.8,1882.6 2448.5,1820.8 2449.1,1978.3 2449.8,1840 2450.5,1931.3 2451.1,1920.1 2451.8,1920.1 2452.4,1898.6 2453.1,1946.1 2453.8,1834.8 2454.4,1947.2 2455.1,1893.2 2455.7,1909.2 2456.4,1942.1 2457.1,1858.5 2457.7,1843.6 2458.4,1942.7 2459,1983.2 2459.7,1984.4 2460.4,1919.7 2461,1982.6 2461.7,2202.8 2462.3,1956.1 2463,1857 2463.7,2038.9 2464.3,2074.2 2465,1993.9 2465.6,1947.1 2466.3,2013.3 2467,1959.2 2467.6,1970.1 2468.3,1963.8 2468.9,1959.6 2469.6,1957.7 2470.3,1866.3 2470.9,1823.5 2471.6,1799.9 2472.2,1806.9 2472.9,1846.3 2473.6,1882.8 2474.2,1840.4 2474.9,1805.8 2475.5,1844.3 2476.2,1881.2 2476.9,1903.1 2477.5,1936 2478.2,1934.5 2478.8,1842.4 2479.5,1913.1 2480.2,1772 2480.8,1826.6 2481.5,1905.3 2482.1,1935.4 2482.8,1937.2 2483.5,1937.4 2484.1,1933.9 2484.8,1904.6 2485.4,1890.4 2486.1,1826 2486.8,1871.6 2487.4,1923.9 2488.1,1919.9 2488.7,1864.8 2489.4,1835.1 2490.1,1827.2 2490.7,1914.4 2491.4,1807.2 2492,1891.7 2492.7,1876.6 2493.4,1924.3 2494,1907.2 2494.7,1935.9 2495.3,1936.2 2496,1853.5 2496.7,1806.7 2497.3,1876.1 2498,1934.3 2498.6,1933.6 2499.3,1932.3 2500,1935.7 2500.6,1930 2501.3,1875.7 2501.9,1902.2 2502.6,1832 2503.3,1892.8 2503.9,2131.6 2504.6,1919.2 2505.2,1926.5 2505.9,1887.9 2506.6,1933 2507.2,1933.9 2507.9,1934.9 2508.5,1935.2 2509.2,1934.5 2509.9,1913 2510.5,1850.4 2511.2,1847.9 2511.8,1810.4 2512.5,1835.2 2513.2,1804.8 2513.8,1894.7 2514.5,1802 2515.1,1825.9 2515.8,1927.2 2516.5,1919.3 2517.1,1933 2517.8,1973.3 2518.4,1931.7 2519.1,1962.1 2519.8,1887.3 2520.4,1786 2521.1,1782.5 2521.7,1851.4 2522.4,1862.8 2523.1,1882.6 2523.7,1945.7 2524.4,1937.1 2525,1891.4 2525.7,1896 2526.4,1864.4 2527,1914.9 2527.7,1802.8 2528.3,1870.2 2529,1930.9 2529.7,1993.1 2530.3,1819.5 2531,1853.1 2531.6,2039.7 2532.3,1824.8 2533,1837 2533.6,1982 2534.3,1924.6 2534.9,1971.6 2535.6,1962.5 2536.3,1965.7 2536.9,1962.7 2537.6,1936 2538.2,1947.2 2538.9,1944.3 2539.6,1892.4 2540.2,1848.4 2540.9,1903.3 2541.5,1959.7 2542.2,1975.3 2542.9,1986.3 2543.5,1937.7 2544.2,1880.4 2544.8,1869.4 2545.5,1904.2 2546.2,1807 2546.8,1804.4 2547.5,1878.5 2548.1,1816.1 2548.8,1784.9 2549.5,1970 2550.1,1848.7 2550.8,1907.2 2551.4,1812.1 2552.1,1949.4 2552.8,1876.3 2553.4,1861.9 2554.1,1907.1 2554.7,1914.9 2555.4,1935.9 2556.1,1937.9 2556.7,1935.6 2557.4,1984.3 2558,1943.3 2558.7,1971.1 2559.4,1916.5 2560,1846.4 2560.7,1925.4 2561.3,1873.6 2562,1942.9 2562.7,1967.3 2563.3,1977 2564,1936.2 2564.6,1925.9 2565.3,1970.7 2566,1881.1 2566.6,2013.6 2567.3,1822.4 2567.9,1927 2568.6,1906.7 2569.3,1944.9 2569.9,1880.5 2570.6,1950.9 2571.2,1980.1 2571.9,1921.1 2572.6,1870.4 2573.2,1987.2 2573.9,1862.5 2574.5,1914.4 2575.2,1803.2 2575.9,1871.8 2576.5,1798.4 2577.2,1944.1 2577.8,1828.8 2578.5,1935.2 2579.2,1867.3 2579.8,1958 2580.5,1975 2581.1,1975.6 2581.8,1945.9 2582.5,1933.5 2583.1,1934.8 2583.8,2007.4 2584.4,1963.3 2585.1,1970.3 2585.8,1942.4 2586.4,2005.2 2587.1,1906.4 2587.7,1983.2 2588.4,1955.5 2589.1,1953.3 2589.7,1962.1 2590.4,2197.6 2591,1903.1 2591.7,1867.2 2592.4,1854.4 2593,1878 2593.7,1901.6 2594.3,1958.9 2595,1956.2 2595.7,2003.8 2596.3,1871.3 2597,1945.7 2597.6,1910 2598.3,1903.6 2599,1876.6 2599.6,1885.6 2600.3,1917.7 2600.9,1912.6 2601.6,1909.8 2602.3,2013.4 2602.9,1960 2603.6,1993.3 2604.2,1993.1 2604.9,1981.7 2605.6,1977.3 2606.2,1983.1 2606.9,1978.8 2607.5,2007.5 2608.2,1887 2608.9,1979.7 2609.5,1882.9 2610.2,1878.4 2610.8,1911.5 2611.5,1907.3 2612.2,1889.7 2612.8,1973.4 2613.5,1979 2614.1,1995.1 2614.8,1960.6 2615.5,1880.8 2616.1,1922.1 2616.8,1973.7 2617.4,1893.1 2618.1,2004.5 2618.8,1919.6 2619.4,1880.6 2620.1,1957.2 2620.7,2021.8 2621.4,1921.6 2622.1,1964 2622.7,1888.9 2623.4,1842.2 2624,1865.5 2624.7,1959.2 2625.4,1914.4 2626,1948.2 2626.7,1938.7 2627.3,1958.6 2628,1898.7 2628.7,1923.7 2629.3,1901.4 2630,2024.4 2630.6,1912.9 2631.3,1847.5 2632,1921 2632.6,1917.2 2633.3,1994.4 2633.9,2012.8 2634.6,1854.6 2635.3,1940.5 2635.9,1907.6 2636.6,1952.8 2637.2,1928.9 2637.9,1997 2638.6,1978.1 2639.2,1975 2639.9,1992.9 2640.5,2012.8 2641.2,1963.2 2641.9,1917 2642.5,1985 2643.2,1960.4 2643.8,1880.9 2644.5,1905.5 2645.2,1922.5 2645.8,1932.2 2646.5,1977.2 2647.1,1931.1 2647.8,1980.7 2648.5,2022.4 2649.1,1957.6 2649.8,1882.9 2650.4,1929.6 2651.1,1922 2651.8,1865.3 2652.4,1896.5 2653.1,1906.7 2653.7,1939.5 2654.4,1869.6 2655.1,1945.3 2655.7,1878 2656.4,1997.3 2657,1978.9 2657.7,2006.8 2658.4,1979.1 2659,1960.1 2659.7,1959.7 2660.3,1968.1 2661,1884.4 2661.7,1796.4 2662.3,1841.8 2663,1863.2 2663.6,1906.5 2664.3,1931.5 2665,1879.1 2665.6,1890.8 2666.3,1883.6 2666.9,1946.2 2667.6,1936.6 2668.3,1929.7 2668.9,1937.7 2669.6,1949.2 2670.2,1938.7 2670.9,1892.9 2671.6,1900.5 2672.2,1854.3 2672.9,1933.4 2673.5,1909.8 2674.2,1905.9 2674.9,1898.9 2675.5,1835.8 2676.2,1952.7 2676.8,1912.3 2677.5,1854.2 2678.2,1764.8 2678.8,1831.6 2679.5,1836.3 2680.1,1799.1 2680.8,1770.1 2681.5,1782.6 2682.1,2035 2682.8,1852.2 2683.4,1780.6 2684.1,1890 2684.8,1907.2 2685.4,1927.4 2686.1,1784.9 2686.7,1852 2687.4,1819.7 2688.1,1889.9 2688.7,1811.9 2689.4,1878.1 2690,1842.5 2690.7,1864.2 2691.4,1907.8 2692,1857.6 2692.7,1855.5 2693.3,1897.1 2694,1854.9 2694.7,1857.3 2695.3,1818.2 2696,1841.6 2696.6,1871.5 2697.3,1828.9 2698,1859.4 2698.6,1871.3 2699.3,1936.3 2699.9,1930.6 2700.6,1888.5 2701.3,1899 2701.9,1930.5 2702.6,1946.4 2703.2,1833 2703.9,1850.6 2704.6,2252.9 2705.2,1943.4 2705.9,1827.4 2706.5,1837.8 2707.2,1867.4 2707.9,1839.6 2708.5,1835.1 2709.2,1877.6 2709.8,1780.9 2710.5,1890.1 2711.2,1887.9 2711.8,1878.4 2712.5,1856.7 2713.1,1858.7 2713.8,1826.4 2714.5,1864.6 2715.1,1910.4 2715.8,1910.1 2716.4,1816.2 2717.1,1828.2 2717.8,1815.8 2718.4,1885 2719.1,2167 2719.7,1942.9 2720.4,1947.1 2721.1,2142.5 2721.7,1802.9 2722.4,1809 2723,1860.2 2723.7,1948.3 2724.4,1910.6 2725,1836.3 2725.7,1889.8 2726.3,1962 2727,1931.5 2727.7,1932.2 2728.3,1947.5 2729,1929.5 2729.6,1908.8 2730.3,1901.4 2731,1774.6 2731.6,1938.4 2732.3,1929.8 2732.9,1942.3 2733.6,1938.8 2734.3,1949.8 2734.9,1945.8 2735.6,1934.8 2736.2,1920 2736.9,1875.9 2737.6,1887.3 2738.2,1957 2738.9,1831.3 2739.5,1837.2 2740.2,1859.5 2740.9,1855.3 2741.5,1865.3 2742.2,1895.4 2742.8,1915.4 2743.5,1888.4 2744.2,1935 2744.8,1941.2 2745.5,1824.9 2746.1,1876.8 2746.8,1939.7 2747.5,1938.8 2748.1,1931.5 2748.8,1980.7 2749.4,1967.5 2750.1,1959.3 2750.8,1928 2751.4,1979.4 2752.1,1940.9 2752.7,1965.6 2753.4,1945.8 2754.1,1952.2 2754.7,1884.3 2755.4,2029 2756,1909 2756.7,1978.8 2757.4,1915.5 2758,1917.7 2758.7,1897.1 2759.3,1874.4 2760,1854.1 2760.7,1913.4 2761.3,1889.6 2762,1903.7 2762.6,1837.7 2763.3,1847 2764,1784.1 2764.6,1933.6 2765.3,1799.5 2765.9,1804.3 2766.6,1808 2767.3,1921.5 2767.9,1872.1 2768.6,1915.5 2769.2,1889.6 2769.9,1933.5 2770.6,1861.9 2771.2,1912.3 2771.9,1884.9 2772.5,1843.2 2773.2,1777 2773.9,1961.4 2774.5,1936.8 2775.2,1961.6 2775.8,1896.1 2776.5,1976.5 2777.2,1937.3 2777.8,1958.5 2778.5,1794.6 2779.1,1875.2 2779.8,1926 2780.5,1939.1 2781.1,1931 2781.8,1827.1 2782.4,1835.9 2783.1,1818.1 2783.8,1873.1 2784.4,1890.9 2785.1,1920 2785.7,1938.9 2786.4,1851.1 2787.1,1846.2 2787.7,1914.6 2788.4,1859.2 2789,1863 2789.7,1914 2790.4,1913.4 2791,1907.3 2791.7,1834.4 2792.3,1877.2 2793,1824.7 2793.7,1866.7 2794.3,1759.1 2795,2064.1 2795.6,1860.7 2796.3,1862.8 2797,1853.4 2797.6,2223.6 2798.3,1796.5 2798.9,1808.3 2799.6,1884.2 2800.3,1885.3 2800.9,1867.4 2801.6,1770.3 2802.2,1784.1 2802.9,1779.5 2803.6,1781.6 2804.2,1888.4 2804.9,1864.2 2805.5,1890.9 2806.2,1864.9 2806.9,1867.1 2807.5,1853.4 2808.2,1846.9 2808.8,1758 2809.5,1783 2810.2,1794.5 2810.8,1781.9 2811.5,1813.1 2812.1,1831 2812.8,1802.3 2813.5,1823.1 2814.1,1897.3 2814.8,1892.8 2815.4,1897.2 2816.1,1891.4 2816.8,1896.5 2817.4,1894.2 2818.1,1893.3 2818.7,1733.8 2819.4,1732.4 2820.1,1851.2 2820.7,1896.4 2821.4,1878.7 2822,1843.7 2822.7,1770.4 2823.4,1783.6 2824,1733.4 2824.7,1830.1 2825.3,1833 2826,1850.5 2826.7,1894.8 2827.3,1827.5 2828,1750.9 2828.6,1714.5 2829.3,1782.3 2830,1851.5 2830.6,2035.7 2831.3,1894.8 2831.9,1889.4 2832.6,1894.3 2833.3,1866.7 2833.9,1806.1 2834.6,1795.6 2835.2,1730.7 2835.9,1867.2 2836.6,1745.7 2837.2,1769.9 2837.9,1804.5 2838.5,1800.1 2839.2,1745 2839.9,1861.6 2840.5,1845.4 2841.2,1774.4 2841.8,1826.8 2842.5,1826.7 2843.2,1802.7 2843.8,1835.4 2844.5,1766.7 2845.1,2272 2845.8,1872.9 2846.5,1856.8 2847.1,1741.4 2847.8,1791 2848.4,2057.4 2849.1,1805.8 2849.8,1856.8 2850.4,1904.9 2851.1,1925 2851.7,1922.3 2852.4,1860 2853.1,1871.5 2853.7,1836.8 2854.4,1837.2 2855,1856.8 2855.7,1834.7 2856.4,1838.9 2857,1955.8 2857.7,1947.4 2858.3,1915.9 2859,1903.9 2859.7,1938.6 2860.3,1846 2861,1905.8 2861.6,1874.3 2862.3,1921.3 2863,1824.1 2863.6,1853.4 2864.3,1843.2 2864.9,1919.9 2865.6,1959.2 2866.3,1981.7 2866.9,1917.5 2867.6,1964.3 2868.2,1930.3 2868.9,2048.2 2869.6,1841.8 2870.2,1916 2870.9,2028.2 2871.5,1924.2 2872.2,1891.1 2872.9,1947.3 2873.5,2211.8 2874.2,2028.1 2874.8,1893.8 2875.5,1904.3 2876.2,1924 2876.8,1927.6 2877.5,1937.8 2878.1,2084.3 2878.8,2000.5 2879.5,2083.6 2880.1,2038.2 2880.8,2040 2881.4,2005.5 2882.1,1927.3 2882.8,1893 2883.4,1908.8 2884.1,1912.9 2884.7,2264.8 2885.4,1945.9 2886.1,1992.3 2886.7,1958.6 2887.4,2054.3 2888,1968.2 2888.7,2088.9 2889.4,2018.1 2890,1976.5 2890.7,1990 2891.3,1893.4 2892,1848.3 2892.7,2029.2 2893.3,1926.9 2894,1946.2 2894.6,1932 2895.3,1961.3 2896,1892.2 2896.6,2041.4 2897.3,1885.5 2897.9,2066.7 2898.6,2017.7 2899.3,1958.5 2899.9,1898.9 2900.6,1867.2 2901.2,1873.8 2901.9,1922.3 2902.6,1962.6 2903.2,2069.2 2903.9,1895.7 2904.5,1944.5 2905.2,2006 2905.9,2095.1 2906.5,2076.7 2907.2,2146.2 2907.8,2185.1 2908.5,2089.2 2909.2,2131.4 2909.8,2026.4 2910.5,2040.2 2911.1,2136 2911.8,2013.7 2912.5,1977.4 2913.1,2026.1 2913.8,2207 2914.4,2043.7 2915.1,2044.8 2915.8,1921 2916.4,2033.5 2917.1,2006.3 2917.7,2142.1 2918.4,1944.8 2919.1,2002.7 2919.7,1984.9 2920.4,2198 2921,1987.8 2921.7,2039.5 2922.4,2042.2 2923,2043.9 2923.7,2136.3 2924.3,2227.6 2925,2084.4 2925.7,2122.5 2926.3,1983.4 2927,1956 2927.6,1952.3 2928.3,2004.1 2929,2275.7 2929.6,2275.7 2930.3,2093.4 2930.9,2133.2 2931.6,2209.4 2932.3,2275.7 2932.9,2067.1 2933.6,2055 2934.2,2034.1 2934.9,2103.9 2935.6,2058 2936.2,2275.7 2936.9,2275.7 2937.5,1939.3 2938.2,2116.5 2938.9,2275.7 2939.5,2275.7 2940.2,2275.7 2940.8,2124.8 2941.5,2100.3 2942.2,2102.8 2942.8,2275.7 2943.5,2098.4 2944.1,2275.7 2944.8,2042.5 2945.5,2275.7 2946.1,2275.7 2946.8,2275.7 2947.4,2275.7 2948.1,2139.5 2948.8,1990.5 2949.4,2073.8 2950.1,2275.7 2950.7,2275.7 2951.4,2190.5 2952.1,2119.8 2952.7,2202.3 2953.4,2127.4 2954,2138 2954.7,2134.2 2955.4,2134.4 2956,2059.6 2956.7,2097.8 2957.3,2058.5 2958,2066.5 2958.7,2275.7 2959.3,2275.7 2960,2178.9 2960.6,2111.7 2961.3,2275.7 2962,2275.7 2962.6,2003.3 2963.3,2125.1 2963.9,2044.2 2964.6,2015.6 2965.3,2275.7 2965.9,2082.4 2966.6,2101.2 2967.2,2171.1 2967.9,2275.7 2968.6,2100.4 2969.2,2275.7 2969.9,2152.1 2970.5,2047.5 2971.2,2013 2971.9,1982.5 2972.5,2275.7 2973.2,1935.1 2973.8,2005.2 2974.5,2098.6 2975.2,2182.4 2975.8,2275.7 2976.5,2051.1 2977.1,2275.7 2977.8,2275.7 2978.5,2275.7 2979.1,2089.3 2979.8,2275.7 2980.4,2105.7 2981.1,2275.7 2981.8,2275.7 2982.4,2275.7 2983.1,2275.7 2983.7,2190.2 2984.4,2275.7 2985.1,2093.2 2985.7,2099.2 2986.4,2077.4 2987,2197.6 2987.7,2275.7 2988.4,2275.7 2989,1946.6 2989.7,2089.7 2990.3,2275.7 2991,2202.6 2991.7,2141.9 2992.3,2275.7 2993,2164.2 2993.6,2064.9 2994.3,2080.5 2995,2222 2995.6,2112 2996.3,2194.7 2996.9,2275.7 2997.6,2275.7 2998.3,2275.7 2998.9,2275.7"/>
</g>
<path d="M1318.4,2265.6 l20,20 m0,-20 l-20,20" stroke="#ADD8E6" stroke-width="4" fill="none"/>
<g fill="#FFFF00" fill-opacity="0.5" shape-rendering="crispEdges">
<rect x="849.7" y="1425" width="1.5" height="899.3"/>
<rect x="854.9" y="1425" width="20.1" height="899.3"/>
<rect x="876.8" y="1425" width="2.2" height="899.3"/>
<rect x="884" y="1425" width="182" height="899.3"/>
<rect x="1073.8" y="1425" width="5.2" height="899.3"/>
<rect x="1082.4" y="1425" width="3.5" height="899.3"/>
<rect x="1087.6" y="1425" width="37.4" height="899.3"/>
<rect x="1135.7" y="1425" width="20.5" height="899.3"/>
<rect x="1158.5" y="1425" width="31.7" height="899.3"/>
<rect x="1220.8" y="1425" width="6.4" height="899.3"/>
<rect x="1229.8" y="1425" width="110.1" height="899.3"/>
<rect x="1344.5" y="1425" width="13.3" height="899.3"/>
<rect x="1359.5" y="1425" width="60.7" height="899.3"/>
<rect x="1421.9" y="1425" width="47" height="899.3"/>
<rect x="1473.8" y="1425" width="22.2" height="899.3"/>
<rect x="1530.9" y="1425" width="5.2" height="899.3"/>
<rect x="1537.8" y="1425" width="17.3" height="899.3"/>
<rect x="1564.9" y="1425" width="2" height="899.3"/>
<rect x="1665.8" y="1425" width="7.3" height="899.3"/>
<rect x="1692.7" y="1425" width="36.3" height="899.3"/>
<rect x="1743.7" y="1425" width="5.2" height="899.3"/>
<rect x="1818.7" y="1425" width="3.4" height="899.3"/>
<rect x="1830.8" y="1425" width="159.3" height="899.3"/>
<rect x="1993.8" y="1425" width="9.2" height="899.3"/>
<rect x="2005.9" y="1425" width="39" height="899.3"/>
<rect x="2046" y="1425" width="2" height="899.3"/>
<rect x="2056.7" y="1425" width="6.3" height="899.3"/>
<rect x="2076.9" y="1425" width="6" height="899.3"/>
<rect x="2123" y="1425" width="75.8" height="899.3"/>
<rect x="2200.6" y="1425" width="35.4" height="899.3"/>
<rect x="2271.8" y="1425" width="11.2" height="899.3"/>
<rect x="2286.5" y="1425" width="2.3" height="899.3"/>
<rect x="2317.9" y="1425" width="4.9" height="899.3"/>
<rect x="2326.9" y="1425" width="9.2" height="899.3"/>
<rect x="2339.8" y="1425" width="40.1" height="899.3"/>
<rect x="2410.8" y="1425" width="64.4" height="899.3"/>
<rect x="2478.1" y="1425" width="2" height="899.3"/>
<rect x="2508.9" y="1425" width="75.3" height="899.3"/>
<rect x="2585.9" y="1425" width="2.9" height="899.3"/>
<rect x="2613" y="1425" width="44.4" height="899.3"/>
<rect x="2658.9" y="1425" width="7.2" height="899.3"/>
<rect x="2731" y="1425" width="4" height="899.3"/>
<rect x="2799.3" y="1425" width="1.7" height="899.3"/>
</g>
<g fill="#808080" fill-opacity="0.5" shape-rendering="crispEdges">
<rect x="837.1" y="1425" width="12.6" height="899.3"/>
<rect x="851.2" y="1425" width="3.7" height="899.3"/>
<rect x="875" y="1425" width="1.8" height="899.3"/>
<rect x="879" y="1425" width="5" height="899.3"/>
<rect x="1066" y="1425" width="7.8" height="899.3"/>
<rect x="1079" y="1425" width="3.4" height="899.3"/>
<rect x="1085.9" y="1425" width="1.7" height="899.3"/>
<rect x="1125" y="1425" width="10.7" height="899.3"/>
<rect x="1156.2" y="1425" width="2.3" height="899.3"/>
<rect x="1190.2" y="1425" width="30.6" height="899.3"/>
<rect x="1227.2" y="1425" width="2.6" height="899.3"/>
<rect x="1339.9" y="1425" width="4.6" height="899.3"/>
<rect x="1357.8" y="1425" width="1.7" height="899.3"/>
<rect x="1420.2" y="1425" width="1.7" height="899.3"/>
<rect x="1468.9" y="1425" width="4.9" height="899.3"/>
<rect x="1496" y="1425" width="34.9" height="899.3"/>
<rect x="1536.1" y="1425" width="1.7" height="899.3"/>
<rect x="1555.1" y="1425" width="9.8" height="899.3"/>
<rect x="1566.9" y="1425" width="98.9" height="899.3"/>
<rect x="1673.1" y="1425" width="19.6" height="899.3"/>
<rect x="1729" y="1425" width="14.7" height="899.3"/>
<rect x="1748.9" y="1425" width="69.8" height="899.3"/>
<rect x="1822.1" y="1425" width="8.7" height="899.3"/>
<rect x="1990.1" y="1425" width="3.7" height="899.3"/>
<rect x="2003" y="1425" width="2.9" height="899.3"/>
<rect x="2044.9" y="1425" width="1.1" height="899.3"/>
<rect x="2048" y="1425" width="8.7" height="899.3"/>
<rect x="2063" y="1425" width="13.9" height="899.3"/>
<rect x="2082.9" y="1425" width="40.1" height="899.3"/>
<rect x="2198.8" y="1425" width="1.8" height="899.3"/>
<rect x="2236" y="1425" width="35.8" height="899.3"/>
<rect x="2283" y="1425" width="3.5" height="899.3"/>
<rect x="2288.8" y="1425" width="29.1" height="899.3"/>
<rect x="2322.8" y="1425" width="4.1" height="899.3"/>
<rect x="2336.1" y="1425" width="3.7" height="899.3"/>
<rect x="2379.9" y="1425" width="30.9" height="899.3"/>
<rect x="2475.2" y="1425" width="2.9" height="899.3"/>
<rect x="2480.1" y="1425" width="28.8" height="899.3"/>
<rect x="2584.2" y="1425" width="1.7" height="899.3"/>
<rect x="2588.8" y="1425" width="24.2" height="899.3"/>
<rect x="2657.4" y="1425" width="1.5" height="899.3"/>
<rect x="2666.1" y="1425" width="64.9" height="899.3"/>
<rect x="2735" y="1425" width="3.7" height="899.3"/>
<rect x="2743.9" y="1425" width="5.8" height="899.3"/>
<rect x="2756.9" y="1425" width="42.4" height="899.3"/>
<rect x="2801" y="1425" width="44.7" height="899.3"/>
<rect x="2870.2" y="1425" width="1.5" height="899.3"/>
<rect x="2932.2" y="1425" width="1.8" height="899.3"/>
<rect x="2935.1" y="1425" width="3.5" height="899.3"/>
</g>
<rect x="2952.2" y="1425" width="1.7" height="899.3" fill="#A6CCEC"/>
<line x1="376.5" y1="1425" x2="376.5" y2="2325.3" stroke="#0072BD" stroke-width="2.2"/>
<line x1="2999.6" y1="1425" x2="2999.6" y2="2325.3" stroke="#0072BD" stroke-width="2.2"/>
<line x1="375.5" y1="2324.3" x2="2999.6" y2="2324.3" stroke="#262626" stroke-width="2.2"/>
<text x="375" y="2386.2" text-anchor="middle" fill="#262626">0</text>
<text x="921.5" y="2386.2" text-anchor="middle" fill="#262626">5</text>
<text x="1468" y="2386.2" text-anchor="middle" fill="#262626">10</text>
<text x="2014.4" y="2386.2" text-anchor="middle" fill="#262626">15</text>
<text x="2560.9" y="2386.2" text-anchor="middle" fill="#262626">20</text>
<text x="1686" y="2450.1" text-anchor="middle" font-size="44.1" fill="#262626">UTC hours on 20240529</text>
<text x="355.6" y="2291.3" text-anchor="end" fill="#0072BD">0</text>
<text x="355.6" y="2193.1" text-anchor="end" fill="#0072BD">0.2</text>
<text x="355.6" y="2094.9" text-anchor="end" fill="#0072BD">0.4</text>
<text x="355.6" y="1996.7" text-anchor="end" fill="#0072BD">0.6</text>
<text x="355.6" y="1898.5" text-anchor="end" fill="#0072BD">0.8</text>
<text x="355.6" y="1800.3" text-anchor="end" fill="#0072BD">1</text>
<text x="355.6" y="1702.1" text-anchor="end" fill="#0072BD">1.2</text>
<text x="355.6" y="1603.9" text-anchor="end" fill="#0072BD">1.4</text>
<text x="355.6" y="1505.7" text-anchor="end" fill="#0072BD">1.6</text>
<text transform="translate(254,2294.4) rotate(-90)" text-anchor="start" font-size="44" fill="#0072BD">log10 Liquid Water Path, log10(g/m<tspan font-size="40" dy="-20" dx="2">2</tspan><tspan dy="20" dx="3.8">)</tspan></text>
<line x1="489" y1="1498.6" x2="635" y2="1498.6" stroke="#0000FF" stroke-width="4"/>
<text x="647.7" y="1513" font-size="39.4" fill="#000">MWR 2C LWP</text>
<line x1="489" y1="1549.3" x2="635" y2="1549.3" stroke="#ADD8E6" stroke-width="4"/>
<text x="647.7" y="1563.7" font-size="39.4" fill="#000">MWR 3C LWP</text>
<line x1="489" y1="1600" x2="635" y2="1600" stroke="#FF8C00" stroke-width="4"/>
<path d="M552.5,1590.5 l19,19 m0,-19 l-19,19" stroke="#FF8C00" stroke-width="4.5" fill="none"/>
<text x="647.7" y="1614.4" font-size="39.4" fill="#000">PHY-ITER-2C</text>
<line x1="489" y1="1650.7" x2="635" y2="1650.7" stroke="#A52A2A" stroke-width="4"/>
<path d="M552.5,1641.2 l19,19 m0,-19 l-19,19" stroke="#A52A2A" stroke-width="4.5" fill="none"/>
<text x="647.7" y="1665.1" font-size="39.4" fill="#000">PHY-ITER-3C</text>
<line x1="376.5" y1="3452.4" x2="376.5" y2="3424.4" stroke="#262626" stroke-width="2"/>
<line x1="923" y1="3452.4" x2="923" y2="3424.4" stroke="#262626" stroke-width="2"/>
<line x1="1469.5" y1="3452.4" x2="1469.5" y2="3424.4" stroke="#262626" stroke-width="2"/>
<line x1="2015.9" y1="3452.4" x2="2015.9" y2="3424.4" stroke="#262626" stroke-width="2"/>
<line x1="2562.4" y1="3452.4" x2="2562.4" y2="3424.4" stroke="#262626" stroke-width="2"/>
<line x1="376.5" y1="3414.3" x2="403.5" y2="3414.3" stroke="#0072BD" stroke-width="2"/>
<line x1="376.5" y1="3263.7" x2="403.5" y2="3263.7" stroke="#0072BD" stroke-width="2"/>
<line x1="376.5" y1="3113.1" x2="403.5" y2="3113.1" stroke="#0072BD" stroke-width="2"/>
<line x1="376.5" y1="2962.5" x2="403.5" y2="2962.5" stroke="#0072BD" stroke-width="2"/>
<line x1="376.5" y1="2811.9" x2="403.5" y2="2811.9" stroke="#0072BD" stroke-width="2"/>
<line x1="376.5" y1="2661.3" x2="403.5" y2="2661.3" stroke="#0072BD" stroke-width="2"/>
<g fill="none" stroke-width="10" stroke-linecap="round">
<path stroke="#FF8C00" d="M838.7,3188.4H853.3 M875.9,3188.4H875.9 M880.6,3188.4H882.4 M1067.6,3188.4H1072.2 M1080.6,3188.4H1080.8 M1086.8,3188.4H1086.8 M1126.6,3188.4H1134.1 M1157.3,3188.4H1157.4 M1191.8,3188.4H1219.2 M1228.5,3188.4H1228.5 M1341.5,3188.4H1342.9 M1358.7,3188.4H1358.7 M1421.1,3188.4H1421.1 M1470.5,3188.4H1472.2 M1497.6,3188.4H1529.3 M1536.9,3188.4H1537 M1556.7,3188.4H1563.3 M1568.5,3188.4H1664.2 M1674.7,3188.4H1691.1 M1730.6,3188.4H1742.1 M1750.5,3188.4H1817.1 M1823.7,3188.4H1829.2 M1991.7,3188.4H1992.2 M2004.5,3188.4H2004.5 M2045.5,3188.4H2045.5 M2049.6,3188.4H2055.1 M2064.6,3188.4H2075.3 M2084.5,3188.4H2121.4 M2199.7,3188.4H2199.7 M2237.6,3188.4H2270.2 M2284.6,3188.4H2284.9 M2290.4,3188.4H2316.3 M2324.4,3188.4H2325.3 M2337.7,3188.4H2338.2 M2381.5,3188.4H2409.2 M2476.6,3188.4H2476.7 M2481.7,3188.4H2507.3 M2585.1,3188.4H2585.1 M2590.4,3188.4H2611.4 M2658.2,3188.4H2658.2 M2667.7,3188.4H2729.4 M2770.6,3188.4H2844.1 M2933.8,3188.4H2937 M2736.6,3188.4H2737.1"/>
<path stroke="#FF8C00" d="M850.5,3037.8H850.5 M856.5,3037.8H873.4 M877.9,3037.8H877.9 M885.6,3037.8H1064.4 M1075.4,3037.8H1077.4 M1084,3037.8H1084.3 M1089.2,3037.8H1123.4 M1137.3,3037.8H1154.6 M1160.1,3037.8H1188.6 M1222.4,3037.8H1225.6 M1231.4,3037.8H1338.3 M1346.1,3037.8H1356.2 M1361.1,3037.8H1418.6 M1423.5,3037.8H1467.3 M1475.4,3037.8H1494.4 M1532.5,3037.8H1534.5 M1539.4,3037.8H1553.5 M1565.9,3037.8H1565.9 M1667.4,3037.8H1671.5 M1694.3,3037.8H1727.4 M1745.3,3037.8H1747.3 M1820.3,3037.8H1820.5 M1832.4,3037.8H1988.5 M1995.4,3037.8H2001.4 M2007.5,3037.8H2043.3 M2047,3037.8H2047 M2058.3,3037.8H2061.4 M2078.5,3037.8H2081.3 M2124.6,3037.8H2197.2 M2202.2,3037.8H2234.4 M2273.4,3037.8H2281.4 M2287.7,3037.8H2287.7 M2319.5,3037.8H2321.2 M2328.5,3037.8H2334.5 M2341.4,3037.8H2378.3 M2412.4,3037.8H2473.6 M2479.1,3037.8H2479.1 M2510.5,3037.8H2582.6 M2587.4,3037.8H2587.4 M2614.6,3037.8H2655.8 M2660.5,3037.8H2664.5 M2732.6,3037.8H2733.4 M2800.2,3037.8H2800.2"/>
<path stroke="#FF8C00" d="M2746.5,3113.1H2748 M2758.5,3113.1H2765.3 M2870.8,3113.1H2870.8"/>
<path stroke="#FF8C00" d="M2741.4,3414.3H2742.5 M2751.5,3414.3H2754.6 M2849.5,3414.3H2999.6"/>
<path stroke="#FF8C00" d="M2952.4,2962.5H2952.4"/>
<path stroke="#FF8C00" d="M380.5,3339H835"/>
<path stroke="#A52A2A" d="M786,3169.6H853.7 M875.9,3169.6H875.9 M880.6,3169.6H882.4 M1067.6,3169.6H1072.2 M1080.6,3169.6H1080.8 M1086.8,3169.6H1086.8 M1126.6,3169.6H1134.1 M1157.3,3169.6H1157.4 M1191.8,3169.6H1219.2 M1228.5,3169.6H1228.5 M1341.5,3169.6H1342.9 M1358.7,3169.6H1358.7 M1421.1,3169.6H1421.1 M1470.5,3169.6H1472.2 M1497.6,3169.6H1529.3 M1536.9,3169.6H1537 M1556.7,3169.6H1563.3 M1568.5,3169.6H1664.2 M1674.7,3169.6H1691.1 M1730.6,3169.6H1742.1 M1750.5,3169.6H1817.1 M1823.7,3169.6H1829.2 M1991.7,3169.6H1992.2 M2004.5,3169.6H2004.5 M2045.5,3169.6H2045.5 M2049.6,3169.6H2055.1 M2064.6,3169.6H2075.3 M2084.5,3169.6H2121.4 M2199.7,3169.6H2199.7 M2237.6,3169.6H2270.2 M2284.6,3169.6H2284.9 M2290.4,3169.6H2316.3 M2324.4,3169.6H2325.3 M2337.7,3169.6H2338.2 M2381.5,3169.6H2409.2 M2476.6,3169.6H2476.7 M2481.7,3169.6H2507.3 M2585.1,3169.6H2585.1 M2590.4,3169.6H2611.4 M2658.2,3169.6H2658.2 M2667.7,3169.6H2729.4 M2770.6,3169.6H2844.1 M2933.8,3169.6H2937 M2736.6,3169.6H2737.1"/>
<path stroke="#A52A2A" d="M380.5,3019H782.8 M850.5,3019H850.5 M856.5,3019H873.4 M877.9,3019H877.9 M885.6,3019H1064.4 M1075.4,3019H1077.4 M1084,3019H1084.3 M1089.2,3019H1123.4 M1137.3,3019H1154.6 M1160.1,3019H1188.6 M1222.4,3019H1225.6 M1231.4,3019H1338.3 M1346.1,3019H1356.2 M1361.1,3019H1418.6 M1423.5,3019H1467.3 M1475.4,3019H1494.4 M1532.5,3019H1534.5 M1539.4,3019H1553.5 M1565.9,3019H1565.9 M1667.4,3019H1671.5 M1694.3,3019H1727.4 M1745.3,3019H1747.3 M1820.3,3019H1820.5 M1832.4,3019H1988.5 M1995.4,3019H2001.4 M2007.5,3019H2043.3 M2047,3019H2047 M2058.3,3019H2061.4 M2078.5,3019H2081.3 M2124.6,3019H2197.2 M2202.2,3019H2234.4 M2273.4,3019H2281.4 M2287.7,3019H2287.7 M2319.5,3019H2321.2 M2328.5,3019H2334.5 M2341.4,3019H2378.3 M2412.4,3019H2473.6 M2479.1,3019H2479.1 M2510.5,3019H2582.6 M2587.4,3019H2587.4 M2614.6,3019H2655.8 M2660.5,3019H2664.5 M2732.6,3019H2733.4 M2800.2,3019H2800.2"/>
<path stroke="#A52A2A" d="M2746.5,3094.3H2748 M2758.5,3094.3H2765.3 M2870.8,3094.3H2870.8 M637.4,3094.3H637.4"/>
<path stroke="#A52A2A" d="M2741.4,3395.5H2742.5 M2751.5,3395.5H2754.6 M2849.5,3395.5H2999.6"/>
<path stroke="#A52A2A" d="M2952.4,2943.7H2952.4"/>
<path stroke="#A52A2A" d="M397.6,3320.2H397.6 M506.9,3320.2H506.9 M616.2,3320.2H616.2 M725.5,3320.2H725.5 M834.8,3320.2H834.8 M944.1,3320.2H944.1 M1053.4,3320.2H1053.4 M1162.7,3320.2H1162.7 M1272,3320.2H1272 M1381.3,3320.2H1381.3 M1490.6,3320.2H1490.6 M1599.8,3320.2H1599.9 M1709.1,3320.2H1709.2 M1818.4,3320.2H1818.4 M1927.7,3320.2H1927.7 M2037,3320.2H2037 M2146.3,3320.2H2146.3 M2255.6,3320.2H2255.6 M2364.9,3320.2H2364.9 M2474.2,3320.2H2474.2 M2583.5,3320.2H2583.5 M2692.8,3320.2H2692.8 M2802.1,3320.2H2802.1 M2911.4,3320.2H2911.4"/>
</g>
<line x1="376.5" y1="2547" x2="376.5" y2="3453.4" stroke="#0072BD" stroke-width="2.2"/>
<line x1="2999.6" y1="2547" x2="2999.6" y2="3453.4" stroke="#0072BD" stroke-width="2.2"/>
<line x1="375.5" y1="3452.4" x2="2999.6" y2="3452.4" stroke="#262626" stroke-width="2.2"/>
<text x="375" y="3514.3" text-anchor="middle" fill="#262626">0</text>
<text x="921.5" y="3514.3" text-anchor="middle" fill="#262626">5</text>
<text x="1468" y="3514.3" text-anchor="middle" fill="#262626">10</text>
<text x="2014.4" y="3514.3" text-anchor="middle" fill="#262626">15</text>
<text x="2560.9" y="3514.3" text-anchor="middle" fill="#262626">20</text>
<text x="1686" y="3578.2" text-anchor="middle" font-size="44.1" fill="#262626">UTC hours on 20240529</text>
<text x="355.6" y="3429.9" text-anchor="end" fill="#0072BD">0</text>
<text x="355.6" y="3279.3" text-anchor="end" fill="#0072BD">2</text>
<text x="355.6" y="3128.7" text-anchor="end" fill="#0072BD">4</text>
<text x="355.6" y="2978.1" text-anchor="end" fill="#0072BD">6</text>
<text x="355.6" y="2827.5" text-anchor="end" fill="#0072BD">8</text>
<text x="355.6" y="2676.9" text-anchor="end" fill="#0072BD">10</text>
<text transform="translate(269.9,3001.3) rotate(-90)" text-anchor="middle" font-size="44" fill="#0072BD">DQ Flag</text>
<circle cx="1382.4" cy="2598.2" r="4.5" fill="#FF8C00"/><circle cx="1382.4" cy="2650.5" r="4.5" fill="#A52A2A"/>
<text x="1468.5" y="2613.4" font-size="39.4" fill="#000">MWR2C</text>
<text x="1468.5" y="2665.5" font-size="39.4" fill="#000">MWR3C</text>
</svg>
</body></html>
